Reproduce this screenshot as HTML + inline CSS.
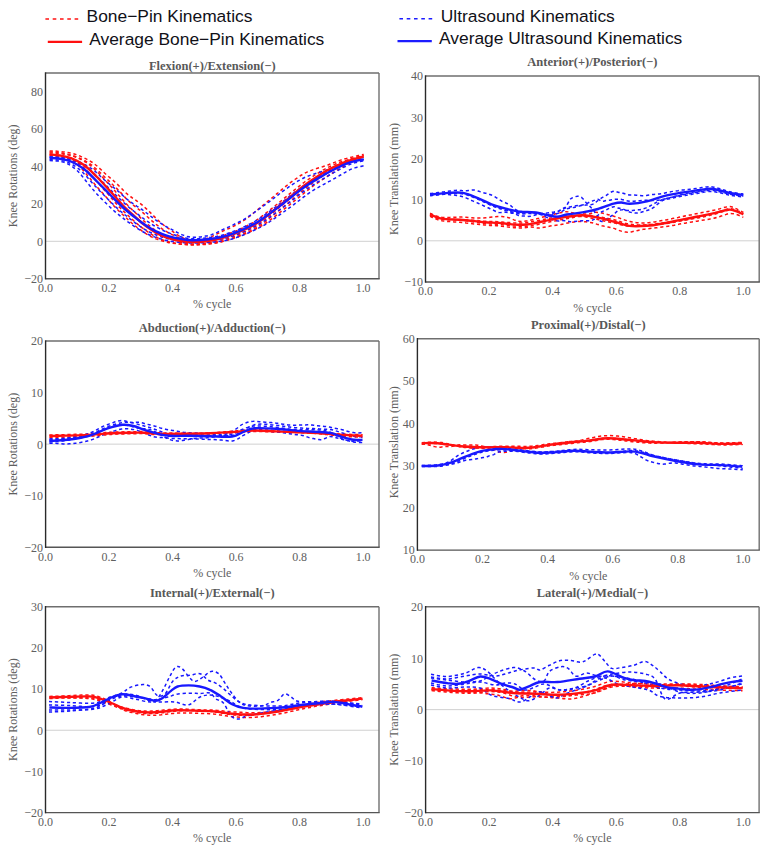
<!DOCTYPE html><html><head><meta charset="utf-8"><style>html,body{margin:0;padding:0;background:#fff;width:769px;height:849px;overflow:hidden}svg{display:block}</style></head><body>
<svg width="769" height="849" viewBox="0 0 769 849">
<rect width="769" height="849" fill="#fff"/>
<g font-family="Liberation Sans, sans-serif" font-size="17.4" fill="#111118">
<line x1="45.4" y1="19" x2="78.6" y2="19" stroke="#ff1010" stroke-width="1.6" stroke-dasharray="3.6 3.7"/>
<text x="86.6" y="22">Bone−Pin Kinematics</text>
<line x1="47.8" y1="41.9" x2="82.1" y2="41.9" stroke="#ff1010" stroke-width="2.2"/>
<text x="89.2" y="44.8">Average Bone−Pin Kinematics</text>
<line x1="399.4" y1="18.7" x2="432.4" y2="18.7" stroke="#1c1cff" stroke-width="1.6" stroke-dasharray="3.6 3.7"/>
<text x="440.8" y="21.6">Ultrasound Kinematics</text>
<line x1="397.5" y1="41.1" x2="431.8" y2="41.1" stroke="#1c1cff" stroke-width="2.2"/>
<text x="439.0" y="43.5">Average Ultrasound Kinematics</text>
</g>
<g>
<line x1="45.50" y1="241.30" x2="379.00" y2="241.30" stroke="#d0d0d0" stroke-width="1"/>
<defs><clipPath id="c0"><rect x="45.50" y="73.00" width="333.50" height="205.70"/></clipPath></defs>
<g clip-path="url(#c0)" fill="none" stroke-linejoin="round" stroke-linecap="butt">
<path d="M49.6,150.9 C50.1,150.9 51.6,150.9 52.6,150.9 C53.6,150.9 54.6,151.1 55.6,151.1 C56.6,151.2 57.6,151.3 58.6,151.4 C59.6,151.5 60.6,151.6 61.6,151.7 C62.6,151.8 63.6,152.0 64.6,152.1 C65.6,152.3 66.6,152.4 67.6,152.6 C68.6,152.8 69.6,152.9 70.6,153.1 C71.6,153.3 72.6,153.5 73.6,153.8 C74.6,154.1 75.6,154.4 76.6,154.7 C77.6,155.1 78.6,155.5 79.6,155.9 C80.6,156.4 81.6,156.8 82.6,157.3 C83.6,157.8 84.6,158.2 85.6,158.7 C86.6,159.2 87.6,159.7 88.6,160.3 C89.6,160.8 90.6,161.4 91.6,162.0 C92.6,162.6 93.6,163.3 94.6,164.1 C95.6,164.8 96.6,165.6 97.6,166.5 C98.6,167.4 99.6,168.4 100.6,169.3 C101.6,170.3 102.6,171.3 103.6,172.2 C104.6,173.1 105.6,174.0 106.6,174.9 C107.6,175.7 108.6,176.6 109.6,177.4 C110.6,178.3 111.6,179.1 112.6,180.0 C113.6,180.9 114.6,181.8 115.6,182.7 C116.6,183.6 117.6,184.5 118.6,185.5 C119.6,186.5 120.6,187.5 121.6,188.5 C122.6,189.6 123.6,190.7 124.6,191.7 C125.6,192.7 126.6,193.6 127.6,194.4 C128.6,195.3 129.6,196.0 130.6,196.7 C131.6,197.5 132.6,198.1 133.6,198.8 C134.6,199.5 135.6,200.1 136.6,200.8 C137.6,201.5 138.6,202.2 139.6,203.0 C140.6,203.7 141.6,204.5 142.6,205.4 C143.6,206.2 144.6,207.1 145.6,208.1 C146.6,209.0 147.6,209.9 148.6,210.9 C149.6,211.9 150.6,212.9 151.6,213.9 C152.6,214.9 153.6,215.9 154.6,216.9 C155.6,217.9 156.6,218.9 157.6,219.9 C158.6,220.8 159.6,221.7 160.6,222.5 C161.6,223.4 162.6,224.2 163.6,225.0 C164.6,225.8 165.6,226.5 166.6,227.2 C167.6,228.0 168.6,228.6 169.6,229.3 C170.6,230.0 171.6,230.6 172.6,231.4 C173.6,232.1 174.6,233.0 175.6,233.7 C176.6,234.4 177.6,235.0 178.6,235.6 C179.6,236.2 180.6,236.8 181.6,237.3 C182.6,237.7 183.6,238.2 184.6,238.6 C185.6,238.9 186.6,239.2 187.6,239.4 C188.6,239.6 189.6,239.8 190.6,239.9 C191.6,240.0 192.6,240.0 193.6,240.0 C194.6,240.0 195.6,240.0 196.6,239.9 C197.6,239.9 198.6,239.9 199.6,239.8 C200.6,239.7 201.6,239.6 202.6,239.4 C203.6,239.2 204.6,239.0 205.6,238.8 C206.6,238.5 207.6,238.2 208.6,237.8 C209.6,237.4 210.6,237.0 211.6,236.6 C212.6,236.1 213.6,235.7 214.6,235.2 C215.6,234.7 216.6,234.1 217.6,233.6 C218.6,233.1 219.6,232.6 220.6,232.1 C221.6,231.6 222.6,231.1 223.6,230.7 C224.6,230.2 225.6,229.9 226.6,229.4 C227.6,229.0 228.6,228.6 229.6,228.2 C230.6,227.7 231.6,227.2 232.6,226.7 C233.6,226.2 234.6,225.7 235.6,225.2 C236.6,224.7 237.6,224.1 238.6,223.6 C239.6,223.1 240.6,222.5 241.6,221.9 C242.6,221.3 243.6,220.6 244.6,219.9 C245.6,219.2 246.6,218.5 247.6,217.8 C248.6,217.0 249.6,216.2 250.6,215.4 C251.6,214.6 252.6,213.8 253.6,213.0 C254.6,212.2 255.6,211.4 256.6,210.6 C257.6,209.8 258.6,208.9 259.6,208.1 C260.6,207.3 261.6,206.5 262.6,205.6 C263.6,204.8 264.6,204.0 265.6,203.2 C266.6,202.3 267.6,201.5 268.6,200.7 C269.6,199.9 270.6,199.0 271.6,198.2 C272.6,197.4 273.6,196.5 274.6,195.7 C275.6,194.8 276.6,194.0 277.6,193.2 C278.6,192.3 279.6,191.5 280.6,190.6 C281.6,189.8 282.6,189.0 283.6,188.1 C284.6,187.3 285.6,186.5 286.6,185.7 C287.6,184.9 288.6,184.1 289.6,183.3 C290.6,182.6 291.6,181.8 292.6,181.1 C293.6,180.3 294.6,179.7 295.6,179.0 C296.6,178.3 297.6,177.6 298.6,177.0 C299.6,176.3 300.6,175.6 301.6,175.0 C302.6,174.4 303.6,173.8 304.6,173.3 C305.6,172.8 306.6,172.3 307.6,171.8 C308.6,171.4 309.6,171.0 310.6,170.6 C311.6,170.2 312.6,169.8 313.6,169.5 C314.6,169.2 315.6,168.8 316.6,168.5 C317.6,168.2 318.6,167.9 319.6,167.6 C320.6,167.3 321.6,167.0 322.6,166.7 C323.6,166.4 324.6,166.0 325.6,165.7 C326.6,165.4 327.6,165.1 328.6,164.7 C329.6,164.4 330.6,164.0 331.6,163.6 C332.6,163.2 333.6,162.8 334.6,162.4 C335.6,162.0 336.6,161.6 337.6,161.2 C338.6,160.8 339.6,160.5 340.6,160.1 C341.6,159.8 342.6,159.5 343.6,159.2 C344.6,158.9 345.6,158.7 346.6,158.4 C347.6,158.2 348.6,157.9 349.6,157.7 C350.6,157.4 351.6,157.2 352.6,156.9 C353.6,156.7 354.6,156.5 355.6,156.2 C356.6,156.0 357.6,155.8 358.6,155.5 C359.6,155.3 360.8,155.0 361.6,154.8 C362.5,154.6 363.4,154.5 363.7,154.5" stroke="#ff1010" stroke-width="1.5" stroke-dasharray="3.2 2.8"/>
<path d="M49.6,152.9 C50.1,152.9 51.6,152.9 52.6,153.0 C53.6,153.0 54.6,153.1 55.6,153.2 C56.6,153.3 57.6,153.4 58.6,153.5 C59.6,153.6 60.6,153.7 61.6,153.8 C62.6,153.9 63.6,154.1 64.6,154.2 C65.6,154.4 66.6,154.5 67.6,154.7 C68.6,154.8 69.6,155.0 70.6,155.2 C71.6,155.4 72.6,155.7 73.6,156.0 C74.6,156.3 75.6,156.6 76.6,157.0 C77.6,157.4 78.6,157.8 79.6,158.2 C80.6,158.7 81.6,159.1 82.6,159.6 C83.6,160.1 84.6,160.6 85.6,161.2 C86.6,161.7 87.6,162.3 88.6,163.0 C89.6,163.6 90.6,164.3 91.6,165.0 C92.6,165.8 93.6,166.6 94.6,167.5 C95.6,168.3 96.6,169.2 97.6,170.2 C98.6,171.1 99.6,172.1 100.6,173.1 C101.6,174.1 102.6,175.1 103.6,176.0 C104.6,177.0 105.6,177.9 106.6,178.8 C107.6,179.8 108.6,180.7 109.6,181.6 C110.6,182.6 111.6,183.5 112.6,184.5 C113.6,185.4 114.6,186.4 115.6,187.4 C116.6,188.4 117.6,189.3 118.6,190.4 C119.6,191.4 120.6,192.4 121.6,193.5 C122.6,194.6 123.6,195.8 124.6,196.9 C125.6,197.9 126.6,199.0 127.6,200.0 C128.6,200.9 129.6,201.9 130.6,202.8 C131.6,203.7 132.6,204.5 133.6,205.3 C134.6,206.1 135.6,206.9 136.6,207.7 C137.6,208.5 138.6,209.2 139.6,210.0 C140.6,210.8 141.6,211.5 142.6,212.4 C143.6,213.2 144.6,214.2 145.6,215.1 C146.6,216.0 147.6,217.0 148.6,217.9 C149.6,218.8 150.6,219.7 151.6,220.6 C152.6,221.5 153.6,222.3 154.6,223.1 C155.6,224.0 156.6,224.8 157.6,225.5 C158.6,226.3 159.6,227.0 160.6,227.7 C161.6,228.5 162.6,229.2 163.6,229.8 C164.6,230.5 165.6,231.1 166.6,231.7 C167.6,232.3 168.6,232.9 169.6,233.4 C170.6,233.9 171.6,234.4 172.6,234.9 C173.6,235.4 174.6,235.8 175.6,236.3 C176.6,236.7 177.6,237.1 178.6,237.6 C179.6,238.0 180.6,238.4 181.6,238.7 C182.6,239.1 183.6,239.4 184.6,239.6 C185.6,239.9 186.6,240.1 187.6,240.3 C188.6,240.4 189.6,240.6 190.6,240.6 C191.6,240.7 192.6,240.7 193.6,240.7 C194.6,240.7 195.6,240.7 196.6,240.7 C197.6,240.6 198.6,240.6 199.6,240.5 C200.6,240.5 201.6,240.4 202.6,240.3 C203.6,240.2 204.6,240.1 205.6,240.0 C206.6,239.8 207.6,239.6 208.6,239.5 C209.6,239.3 210.6,239.1 211.6,238.8 C212.6,238.6 213.6,238.3 214.6,238.1 C215.6,237.8 216.6,237.5 217.6,237.2 C218.6,236.9 219.6,236.6 220.6,236.3 C221.6,236.0 222.6,235.7 223.6,235.4 C224.6,235.1 225.6,234.7 226.6,234.4 C227.6,234.0 228.6,233.7 229.6,233.3 C230.6,233.0 231.6,232.6 232.6,232.2 C233.6,231.8 234.6,231.5 235.6,231.1 C236.6,230.7 237.6,230.3 238.6,229.8 C239.6,229.4 240.6,229.0 241.6,228.5 C242.6,228.1 243.6,227.6 244.6,227.1 C245.6,226.6 246.6,226.0 247.6,225.5 C248.6,225.0 249.6,224.5 250.6,224.0 C251.6,223.4 252.6,222.9 253.6,222.2 C254.6,221.6 255.6,220.9 256.6,220.2 C257.6,219.5 258.6,218.8 259.6,218.0 C260.6,217.3 261.6,216.5 262.6,215.7 C263.6,215.0 264.6,214.2 265.6,213.4 C266.6,212.6 267.6,211.8 268.6,211.0 C269.6,210.2 270.6,209.4 271.6,208.6 C272.6,207.8 273.6,206.9 274.6,206.1 C275.6,205.3 276.6,204.5 277.6,203.7 C278.6,202.9 279.6,202.1 280.6,201.3 C281.6,200.5 282.6,199.7 283.6,198.8 C284.6,198.0 285.6,197.2 286.6,196.4 C287.6,195.6 288.6,194.7 289.6,193.9 C290.6,193.1 291.6,192.3 292.6,191.4 C293.6,190.6 294.6,189.8 295.6,189.0 C296.6,188.2 297.6,187.4 298.6,186.6 C299.6,185.8 300.6,185.0 301.6,184.2 C302.6,183.5 303.6,182.7 304.6,182.0 C305.6,181.3 306.6,180.6 307.6,179.9 C308.6,179.3 309.6,178.6 310.6,177.9 C311.6,177.3 312.6,176.6 313.6,175.9 C314.6,175.3 315.6,174.6 316.6,174.0 C317.6,173.3 318.6,172.7 319.6,172.1 C320.6,171.5 321.6,170.8 322.6,170.3 C323.6,169.7 324.6,169.1 325.6,168.6 C326.6,168.1 327.6,167.6 328.6,167.1 C329.6,166.6 330.6,166.1 331.6,165.7 C332.6,165.2 333.6,164.8 334.6,164.4 C335.6,163.9 336.6,163.5 337.6,163.1 C338.6,162.8 339.6,162.4 340.6,162.0 C341.6,161.7 342.6,161.3 343.6,161.0 C344.6,160.7 345.6,160.4 346.6,160.1 C347.6,159.8 348.6,159.5 349.6,159.2 C350.6,159.0 351.6,158.7 352.6,158.4 C353.6,158.1 354.6,157.9 355.6,157.6 C356.6,157.3 357.6,157.1 358.6,156.8 C359.6,156.6 360.8,156.3 361.6,156.1 C362.5,155.8 363.4,155.6 363.7,155.5" stroke="#ff1010" stroke-width="1.5" stroke-dasharray="3.2 2.8"/>
<path d="M49.6,155.4 C50.1,155.4 51.6,155.6 52.6,155.7 C53.6,155.8 54.6,155.8 55.6,156.0 C56.6,156.1 57.6,156.2 58.6,156.4 C59.6,156.6 60.6,156.8 61.6,157.0 C62.6,157.2 63.6,157.4 64.6,157.7 C65.6,158.1 66.6,158.4 67.6,158.8 C68.6,159.3 69.6,159.8 70.6,160.3 C71.6,160.9 72.6,161.4 73.6,162.1 C74.6,162.7 75.6,163.4 76.6,164.1 C77.6,164.9 78.6,165.7 79.6,166.7 C80.6,167.6 81.6,168.7 82.6,169.8 C83.6,170.9 84.6,172.0 85.6,173.2 C86.6,174.4 87.6,175.6 88.6,176.8 C89.6,178.0 90.6,179.2 91.6,180.3 C92.6,181.5 93.6,182.7 94.6,183.9 C95.6,185.1 96.6,186.3 97.6,187.4 C98.6,188.6 99.6,189.7 100.6,190.8 C101.6,191.9 102.6,193.0 103.6,194.1 C104.6,195.3 105.6,196.4 106.6,197.6 C107.6,198.7 108.6,199.9 109.6,201.0 C110.6,202.2 111.6,203.4 112.6,204.5 C113.6,205.6 114.6,206.7 115.6,207.8 C116.6,208.8 117.6,209.8 118.6,210.8 C119.6,211.8 120.6,212.7 121.6,213.6 C122.6,214.5 123.6,215.5 124.6,216.4 C125.6,217.3 126.6,218.3 127.6,219.2 C128.6,220.2 129.6,221.1 130.6,222.0 C131.6,222.9 132.6,223.8 133.6,224.6 C134.6,225.4 135.6,226.2 136.6,227.0 C137.6,227.8 138.6,228.5 139.6,229.2 C140.6,230.0 141.6,230.7 142.6,231.4 C143.6,232.1 144.6,232.7 145.6,233.4 C146.6,234.0 147.6,234.7 148.6,235.2 C149.6,235.8 150.6,236.4 151.6,236.9 C152.6,237.4 153.6,237.9 154.6,238.3 C155.6,238.7 156.6,239.1 157.6,239.4 C158.6,239.8 159.6,240.1 160.6,240.4 C161.6,240.7 162.6,241.0 163.6,241.3 C164.6,241.5 165.6,241.8 166.6,242.1 C167.6,242.3 168.6,242.6 169.6,242.8 C170.6,243.0 171.6,243.1 172.6,243.3 C173.6,243.4 174.6,243.5 175.6,243.6 C176.6,243.7 177.6,243.8 178.6,243.9 C179.6,244.0 180.6,244.0 181.6,244.1 C182.6,244.2 183.6,244.2 184.6,244.3 C185.6,244.3 186.6,244.3 187.6,244.4 C188.6,244.4 189.6,244.5 190.6,244.5 C191.6,244.5 192.6,244.5 193.6,244.5 C194.6,244.5 195.6,244.5 196.6,244.4 C197.6,244.4 198.6,244.4 199.6,244.3 C200.6,244.3 201.6,244.2 202.6,244.2 C203.6,244.1 204.6,244.0 205.6,243.9 C206.6,243.9 207.6,243.8 208.6,243.7 C209.6,243.6 210.6,243.5 211.6,243.4 C212.6,243.2 213.6,243.1 214.6,243.0 C215.6,242.8 216.6,242.7 217.6,242.5 C218.6,242.3 219.6,242.1 220.6,241.9 C221.6,241.7 222.6,241.5 223.6,241.2 C224.6,241.0 225.6,240.7 226.6,240.4 C227.6,240.1 228.6,239.9 229.6,239.5 C230.6,239.2 231.6,238.9 232.6,238.6 C233.6,238.2 234.6,237.9 235.6,237.5 C236.6,237.2 237.6,236.8 238.6,236.5 C239.6,236.1 240.6,235.7 241.6,235.3 C242.6,234.9 243.6,234.5 244.6,234.1 C245.6,233.7 246.6,233.3 247.6,232.9 C248.6,232.5 249.6,232.0 250.6,231.6 C251.6,231.1 252.6,230.6 253.6,230.1 C254.6,229.6 255.6,229.1 256.6,228.5 C257.6,228.0 258.6,227.5 259.6,227.0 C260.6,226.4 261.6,225.9 262.6,225.3 C263.6,224.6 264.6,224.0 265.6,223.3 C266.6,222.6 267.6,221.9 268.6,221.1 C269.6,220.4 270.6,219.7 271.6,218.9 C272.6,218.1 273.6,217.4 274.6,216.6 C275.6,215.8 276.6,215.0 277.6,214.3 C278.6,213.5 279.6,212.7 280.6,211.9 C281.6,211.1 282.6,210.3 283.6,209.5 C284.6,208.7 285.6,208.0 286.6,207.2 C287.6,206.4 288.6,205.6 289.6,204.8 C290.6,204.0 291.6,203.2 292.6,202.4 C293.6,201.6 294.6,200.8 295.6,200.0 C296.6,199.2 297.6,198.4 298.6,197.6 C299.6,196.8 300.6,196.0 301.6,195.2 C302.6,194.4 303.6,193.5 304.6,192.7 C305.6,191.9 306.6,191.1 307.6,190.3 C308.6,189.5 309.6,188.8 310.6,188.0 C311.6,187.2 312.6,186.4 313.6,185.7 C314.6,184.9 315.6,184.2 316.6,183.5 C317.6,182.8 318.6,182.2 319.6,181.5 C320.6,180.8 321.6,180.2 322.6,179.5 C323.6,178.8 324.6,178.1 325.6,177.5 C326.6,176.8 327.6,176.2 328.6,175.5 C329.6,174.9 330.6,174.2 331.6,173.6 C332.6,173.0 333.6,172.3 334.6,171.7 C335.6,171.0 336.6,170.4 337.6,169.8 C338.6,169.2 339.6,168.6 340.6,168.0 C341.6,167.4 342.6,166.8 343.6,166.3 C344.6,165.7 345.6,165.1 346.6,164.6 C347.6,164.1 348.6,163.5 349.6,163.1 C350.6,162.6 351.6,162.2 352.6,161.7 C353.6,161.3 354.6,160.9 355.6,160.6 C356.6,160.2 357.6,159.8 358.6,159.5 C359.6,159.2 360.8,158.9 361.6,158.6 C362.5,158.4 363.4,158.1 363.7,158.0" stroke="#ff1010" stroke-width="1.5" stroke-dasharray="3.2 2.8"/>
<path d="M49.6,154.4 C50.1,154.4 51.6,154.6 52.6,154.7 C53.6,154.7 54.6,154.8 55.6,154.9 C56.6,155.1 57.6,155.2 58.6,155.4 C59.6,155.5 60.6,155.7 61.6,155.9 C62.6,156.1 63.6,156.3 64.6,156.6 C65.6,156.9 66.6,157.2 67.6,157.5 C68.6,157.9 69.6,158.3 70.6,158.8 C71.6,159.3 72.6,159.8 73.6,160.3 C74.6,160.8 75.6,161.4 76.6,162.0 C77.6,162.6 78.6,163.3 79.6,164.1 C80.6,164.8 81.6,165.6 82.6,166.5 C83.6,167.4 84.6,168.4 85.6,169.4 C86.6,170.4 87.6,171.5 88.6,172.6 C89.6,173.7 90.6,174.8 91.6,175.9 C92.6,177.0 93.6,178.1 94.6,179.2 C95.6,180.3 96.6,181.4 97.6,182.5 C98.6,183.6 99.6,184.7 100.6,185.8 C101.6,187.0 102.6,188.1 103.6,189.2 C104.6,190.3 105.6,191.4 106.6,192.6 C107.6,193.7 108.6,194.8 109.6,196.0 C110.6,197.1 111.6,198.3 112.6,199.4 C113.6,200.6 114.6,201.8 115.6,202.9 C116.6,204.0 117.6,205.2 118.6,206.3 C119.6,207.3 120.6,208.4 121.6,209.4 C122.6,210.4 123.6,211.3 124.6,212.3 C125.6,213.2 126.6,214.1 127.6,215.0 C128.6,216.0 129.6,216.9 130.6,217.9 C131.6,218.8 132.6,219.7 133.6,220.6 C134.6,221.5 135.6,222.5 136.6,223.3 C137.6,224.2 138.6,225.0 139.6,225.8 C140.6,226.6 141.6,227.4 142.6,228.1 C143.6,228.9 144.6,229.6 145.6,230.3 C146.6,231.0 147.6,231.7 148.6,232.4 C149.6,233.1 150.6,233.7 151.6,234.4 C152.6,235.0 153.6,235.6 154.6,236.2 C155.6,236.7 156.6,237.3 157.6,237.8 C158.6,238.3 159.6,238.7 160.6,239.1 C161.6,239.5 162.6,239.8 163.6,240.2 C164.6,240.5 165.6,240.8 166.6,241.1 C167.6,241.4 168.6,241.7 169.6,242.0 C170.6,242.2 171.6,242.5 172.6,242.7 C173.6,243.0 174.6,243.2 175.6,243.3 C176.6,243.5 177.6,243.7 178.6,243.8 C179.6,244.0 180.6,244.1 181.6,244.2 C182.6,244.3 183.6,244.5 184.6,244.5 C185.6,244.6 186.6,244.7 187.6,244.8 C188.6,244.9 189.6,244.9 190.6,245.0 C191.6,245.0 192.6,245.0 193.6,245.0 C194.6,245.0 195.6,245.0 196.6,244.9 C197.6,244.9 198.6,244.9 199.6,244.8 C200.6,244.8 201.6,244.7 202.6,244.6 C203.6,244.6 204.6,244.5 205.6,244.4 C206.6,244.3 207.6,244.2 208.6,244.0 C209.6,243.9 210.6,243.8 211.6,243.6 C212.6,243.5 213.6,243.3 214.6,243.1 C215.6,243.0 216.6,242.8 217.6,242.5 C218.6,242.3 219.6,242.1 220.6,241.9 C221.6,241.6 222.6,241.4 223.6,241.1 C224.6,240.8 225.6,240.5 226.6,240.2 C227.6,239.9 228.6,239.6 229.6,239.3 C230.6,238.9 231.6,238.6 232.6,238.2 C233.6,237.8 234.6,237.5 235.6,237.1 C236.6,236.7 237.6,236.3 238.6,235.9 C239.6,235.5 240.6,235.1 241.6,234.7 C242.6,234.3 243.6,233.9 244.6,233.4 C245.6,233.0 246.6,232.5 247.6,232.1 C248.6,231.6 249.6,231.1 250.6,230.6 C251.6,230.0 252.6,229.5 253.6,228.9 C254.6,228.4 255.6,227.9 256.6,227.3 C257.6,226.8 258.6,226.2 259.6,225.5 C260.6,224.9 261.6,224.2 262.6,223.5 C263.6,222.8 264.6,222.0 265.6,221.3 C266.6,220.5 267.6,219.7 268.6,218.9 C269.6,218.1 270.6,217.3 271.6,216.5 C272.6,215.7 273.6,214.9 274.6,214.1 C275.6,213.3 276.6,212.4 277.6,211.6 C278.6,210.8 279.6,210.0 280.6,209.1 C281.6,208.3 282.6,207.5 283.6,206.7 C284.6,205.8 285.6,205.0 286.6,204.2 C287.6,203.4 288.6,202.5 289.6,201.7 C290.6,200.9 291.6,200.0 292.6,199.2 C293.6,198.3 294.6,197.5 295.6,196.7 C296.6,195.8 297.6,195.0 298.6,194.1 C299.6,193.3 300.6,192.5 301.6,191.6 C302.6,190.8 303.6,190.0 304.6,189.1 C305.6,188.3 306.6,187.5 307.6,186.7 C308.6,185.9 309.6,185.2 310.6,184.4 C311.6,183.7 312.6,182.9 313.6,182.2 C314.6,181.5 315.6,180.9 316.6,180.2 C317.6,179.5 318.6,178.8 319.6,178.1 C320.6,177.4 321.6,176.7 322.6,176.1 C323.6,175.4 324.6,174.7 325.6,174.1 C326.6,173.4 327.6,172.8 328.6,172.2 C329.6,171.6 330.6,171.0 331.6,170.4 C332.6,169.9 333.6,169.3 334.6,168.7 C335.6,168.2 336.6,167.7 337.6,167.1 C338.6,166.6 339.6,166.1 340.6,165.6 C341.6,165.0 342.6,164.5 343.6,164.0 C344.6,163.6 345.6,163.1 346.6,162.6 C347.6,162.2 348.6,161.8 349.6,161.3 C350.6,160.9 351.6,160.6 352.6,160.2 C353.6,159.8 354.6,159.5 355.6,159.1 C356.6,158.8 357.6,158.5 358.6,158.2 C359.6,157.9 360.8,157.6 361.6,157.3 C362.5,157.1 363.4,156.9 363.7,156.8" stroke="#ff1010" stroke-width="1.5" stroke-dasharray="3.2 2.8"/>
<path d="M49.6,151.9 C50.1,151.9 51.6,152.0 52.6,152.1 C53.6,152.1 54.6,152.2 55.6,152.3 C56.6,152.4 57.6,152.5 58.6,152.7 C59.6,152.8 60.6,153.0 61.6,153.1 C62.6,153.3 63.6,153.5 64.6,153.7 C65.6,153.9 66.6,154.1 67.6,154.3 C68.6,154.6 69.6,154.8 70.6,155.1 C71.6,155.4 72.6,155.8 73.6,156.2 C74.6,156.6 75.6,157.0 76.6,157.4 C77.6,157.8 78.6,158.3 79.6,158.8 C80.6,159.2 81.6,159.7 82.6,160.3 C83.6,160.8 84.6,161.4 85.6,162.0 C86.6,162.7 87.6,163.4 88.6,164.1 C89.6,164.9 90.6,165.7 91.6,166.5 C92.6,167.4 93.6,168.3 94.6,169.3 C95.6,170.2 96.6,171.2 97.6,172.2 C98.6,173.3 99.6,174.3 100.6,175.3 C101.6,176.4 102.6,177.4 103.6,178.4 C104.6,179.5 105.6,180.6 106.6,181.7 C107.6,182.8 108.6,183.9 109.6,185.0 C110.6,186.1 111.6,187.2 112.6,188.3 C113.6,189.4 114.6,190.5 115.6,191.7 C116.6,192.8 117.6,193.9 118.6,195.1 C119.6,196.2 120.6,197.4 121.6,198.5 C122.6,199.6 123.6,200.8 124.6,201.9 C125.6,203.0 126.6,204.2 127.6,205.2 C128.6,206.3 129.6,207.3 130.6,208.3 C131.6,209.3 132.6,210.2 133.6,211.1 C134.6,212.1 135.6,213.0 136.6,214.0 C137.6,215.0 138.6,215.9 139.6,216.9 C140.6,217.9 141.6,218.8 142.6,219.8 C143.6,220.7 144.6,221.6 145.6,222.5 C146.6,223.4 147.6,224.2 148.6,225.0 C149.6,225.8 150.6,226.6 151.6,227.4 C152.6,228.2 153.6,228.9 154.6,229.6 C155.6,230.4 156.6,231.1 157.6,231.8 C158.6,232.5 159.6,233.2 160.6,233.8 C161.6,234.4 162.6,235.0 163.6,235.6 C164.6,236.2 165.6,236.7 166.6,237.1 C167.6,237.6 168.6,238.0 169.6,238.4 C170.6,238.8 171.6,239.1 172.6,239.5 C173.6,239.9 174.6,240.2 175.6,240.6 C176.6,240.9 177.6,241.3 178.6,241.6 C179.6,241.9 180.6,242.2 181.6,242.4 C182.6,242.7 183.6,242.9 184.6,243.1 C185.6,243.3 186.6,243.5 187.6,243.6 C188.6,243.8 189.6,243.9 190.6,243.9 C191.6,244.0 192.6,244.0 193.6,244.0 C194.6,244.0 195.6,244.0 196.6,243.9 C197.6,243.9 198.6,243.9 199.6,243.8 C200.6,243.8 201.6,243.7 202.6,243.6 C203.6,243.5 204.6,243.4 205.6,243.3 C206.6,243.2 207.6,243.1 208.6,243.0 C209.6,242.8 210.6,242.7 211.6,242.5 C212.6,242.4 213.6,242.2 214.6,242.0 C215.6,241.8 216.6,241.6 217.6,241.4 C218.6,241.1 219.6,240.9 220.6,240.6 C221.6,240.4 222.6,240.1 223.6,239.8 C224.6,239.5 225.6,239.2 226.6,238.9 C227.6,238.6 228.6,238.3 229.6,237.9 C230.6,237.6 231.6,237.2 232.6,236.8 C233.6,236.5 234.6,236.1 235.6,235.7 C236.6,235.3 237.6,234.9 238.6,234.5 C239.6,234.1 240.6,233.7 241.6,233.2 C242.6,232.8 243.6,232.4 244.6,231.9 C245.6,231.5 246.6,231.0 247.6,230.5 C248.6,230.0 249.6,229.4 250.6,228.9 C251.6,228.3 252.6,227.8 253.6,227.2 C254.6,226.7 255.6,226.1 256.6,225.5 C257.6,224.9 258.6,224.3 259.6,223.6 C260.6,222.9 261.6,222.1 262.6,221.4 C263.6,220.6 264.6,219.8 265.6,219.0 C266.6,218.2 267.6,217.4 268.6,216.6 C269.6,215.7 270.6,214.9 271.6,214.1 C272.6,213.2 273.6,212.4 274.6,211.5 C275.6,210.7 276.6,209.8 277.6,209.0 C278.6,208.1 279.6,207.3 280.6,206.4 C281.6,205.6 282.6,204.8 283.6,203.9 C284.6,203.1 285.6,202.2 286.6,201.3 C287.6,200.5 288.6,199.6 289.6,198.8 C290.6,197.9 291.6,197.0 292.6,196.2 C293.6,195.3 294.6,194.5 295.6,193.6 C296.6,192.7 297.6,191.9 298.6,191.0 C299.6,190.2 300.6,189.3 301.6,188.5 C302.6,187.6 303.6,186.8 304.6,186.0 C305.6,185.2 306.6,184.4 307.6,183.6 C308.6,182.9 309.6,182.1 310.6,181.4 C311.6,180.7 312.6,180.0 313.6,179.3 C314.6,178.6 315.6,177.9 316.6,177.2 C317.6,176.5 318.6,175.8 319.6,175.2 C320.6,174.5 321.6,173.8 322.6,173.2 C323.6,172.5 324.6,171.9 325.6,171.3 C326.6,170.7 327.6,170.1 328.6,169.5 C329.6,168.9 330.6,168.4 331.6,167.9 C332.6,167.3 333.6,166.8 334.6,166.3 C335.6,165.8 336.6,165.3 337.6,164.9 C338.6,164.4 339.6,163.9 340.6,163.5 C341.6,163.0 342.6,162.5 343.6,162.1 C344.6,161.7 345.6,161.3 346.6,160.9 C347.6,160.5 348.6,160.1 349.6,159.8 C350.6,159.4 351.6,159.1 352.6,158.7 C353.6,158.4 354.6,158.1 355.6,157.8 C356.6,157.5 357.6,157.2 358.6,156.9 C359.6,156.6 360.8,156.3 361.6,156.1 C362.5,155.8 363.4,155.6 363.7,155.5" stroke="#ff1010" stroke-width="1.5" stroke-dasharray="3.2 2.8"/>
<path d="M49.6,157.0 C50.1,157.0 51.6,157.0 52.6,157.1 C53.6,157.1 54.6,157.1 55.6,157.2 C56.6,157.2 57.6,157.3 58.6,157.3 C59.6,157.4 60.6,157.5 61.6,157.6 C62.6,157.7 63.6,157.8 64.6,157.9 C65.6,158.1 66.6,158.2 67.6,158.3 C68.6,158.5 69.6,158.6 70.6,158.8 C71.6,159.0 72.6,159.3 73.6,159.6 C74.6,159.9 75.6,160.2 76.6,160.6 C77.6,161.0 78.6,161.5 79.6,161.9 C80.6,162.4 81.6,162.9 82.6,163.5 C83.6,164.0 84.6,164.5 85.6,165.0 C86.6,165.6 87.6,166.2 88.6,166.8 C89.6,167.4 90.6,168.0 91.6,168.7 C92.6,169.4 93.6,170.2 94.6,171.0 C95.6,171.8 96.6,172.6 97.6,173.6 C98.6,174.5 99.6,175.5 100.6,176.5 C101.6,177.4 102.6,178.4 103.6,179.3 C104.6,180.2 105.6,181.0 106.6,181.8 C107.6,182.6 108.6,183.5 109.6,184.3 C110.6,185.1 111.6,185.9 112.6,186.7 C113.6,187.5 114.6,188.3 115.6,189.1 C116.6,189.9 117.6,190.8 118.6,191.7 C119.6,192.5 120.6,193.4 121.6,194.4 C122.6,195.3 123.6,196.3 124.6,197.2 C125.6,198.1 126.6,198.9 127.6,199.7 C128.6,200.5 129.6,201.3 130.6,202.0 C131.6,202.7 132.6,203.4 133.6,204.1 C134.6,204.7 135.6,205.4 136.6,206.0 C137.6,206.7 138.6,207.3 139.6,208.0 C140.6,208.7 141.6,209.3 142.6,210.0 C143.6,210.7 144.6,211.5 145.6,212.2 C146.6,213.0 147.6,213.8 148.6,214.6 C149.6,215.4 150.6,216.2 151.6,216.9 C152.6,217.7 153.6,218.4 154.6,219.2 C155.6,219.9 156.6,220.6 157.6,221.3 C158.6,221.9 159.6,222.6 160.6,223.2 C161.6,223.9 162.6,224.5 163.6,225.1 C164.6,225.7 165.6,226.3 166.6,226.8 C167.6,227.4 168.6,227.8 169.6,228.3 C170.6,228.8 171.6,229.3 172.6,229.8 C173.6,230.4 174.6,231.0 175.6,231.6 C176.6,232.1 177.6,232.7 178.6,233.2 C179.6,233.7 180.6,234.2 181.6,234.6 C182.6,235.0 183.6,235.4 184.6,235.7 C185.6,236.0 186.6,236.3 187.6,236.6 C188.6,236.8 189.6,237.0 190.6,237.2 C191.6,237.3 192.6,237.3 193.6,237.3 C194.6,237.3 195.6,237.3 196.6,237.2 C197.6,237.2 198.6,237.1 199.6,237.0 C200.6,236.9 201.6,236.8 202.6,236.7 C203.6,236.5 204.6,236.3 205.6,236.1 C206.6,236.0 207.6,235.8 208.6,235.5 C209.6,235.3 210.6,235.0 211.6,234.7 C212.6,234.3 213.6,233.9 214.6,233.5 C215.6,233.1 216.6,232.6 217.6,232.1 C218.6,231.6 219.6,231.0 220.6,230.5 C221.6,230.0 222.6,229.5 223.6,229.1 C224.6,228.7 225.6,228.3 226.6,227.9 C227.6,227.5 228.6,227.1 229.6,226.6 C230.6,226.1 231.6,225.6 232.6,225.2 C233.6,224.7 234.6,224.1 235.6,223.6 C236.6,223.2 237.6,222.7 238.6,222.2 C239.6,221.7 240.6,221.3 241.6,220.8 C242.6,220.2 243.6,219.7 244.6,219.1 C245.6,218.5 246.6,217.8 247.6,217.2 C248.6,216.5 249.6,215.8 250.6,215.1 C251.6,214.4 252.6,213.7 253.6,213.0 C254.6,212.3 255.6,211.6 256.6,210.9 C257.6,210.2 258.6,209.4 259.6,208.7 C260.6,208.0 261.6,207.3 262.6,206.5 C263.6,205.8 264.6,205.1 265.6,204.4 C266.6,203.6 267.6,202.9 268.6,202.2 C269.6,201.4 270.6,200.7 271.6,199.9 C272.6,199.1 273.6,198.4 274.6,197.6 C275.6,196.8 276.6,196.1 277.6,195.3 C278.6,194.5 279.6,193.7 280.6,193.0 C281.6,192.2 282.6,191.5 283.6,190.7 C284.6,190.0 285.6,189.2 286.6,188.5 C287.6,187.8 288.6,187.1 289.6,186.4 C290.6,185.8 291.6,185.1 292.6,184.4 C293.6,183.8 294.6,183.2 295.6,182.6 C296.6,181.9 297.6,181.3 298.6,180.7 C299.6,180.1 300.6,179.5 301.6,179.0 C302.6,178.4 303.6,178.0 304.6,177.5 C305.6,177.0 306.6,176.6 307.6,176.2 C308.6,175.8 309.6,175.4 310.6,175.1 C311.6,174.7 312.6,174.4 313.6,174.1 C314.6,173.8 315.6,173.5 316.6,173.2 C317.6,172.9 318.6,172.6 319.6,172.3 C320.6,172.0 321.6,171.7 322.6,171.4 C323.6,171.1 324.6,170.8 325.6,170.4 C326.6,170.1 327.6,169.8 328.6,169.4 C329.6,169.1 330.6,168.7 331.6,168.3 C332.6,167.9 333.6,167.4 334.6,167.0 C335.6,166.6 336.6,166.1 337.6,165.6 C338.6,165.2 339.6,164.8 340.6,164.5 C341.6,164.1 342.6,163.7 343.6,163.4 C344.6,163.1 345.6,162.8 346.6,162.6 C347.6,162.3 348.6,162.1 349.6,161.9 C350.6,161.6 351.6,161.4 352.6,161.2 C353.6,161.0 354.6,160.9 355.6,160.7 C356.6,160.5 357.6,160.3 358.6,160.1 C359.6,159.9 360.8,159.7 361.6,159.5 C362.5,159.4 363.4,159.3 363.7,159.3" stroke="#1818ff" stroke-width="1.5" stroke-dasharray="3.2 2.8"/>
<path d="M49.6,160.5 C50.1,160.5 51.6,160.6 52.6,160.7 C53.6,160.7 54.6,160.8 55.6,160.9 C56.6,160.9 57.6,161.1 58.6,161.2 C59.6,161.4 60.6,161.6 61.6,161.8 C62.6,162.0 63.6,162.2 64.6,162.5 C65.6,162.9 66.6,163.3 67.6,163.8 C68.6,164.3 69.6,164.9 70.6,165.5 C71.6,166.2 72.6,166.8 73.6,167.6 C74.6,168.4 75.6,169.2 76.6,170.1 C77.6,171.0 78.6,172.0 79.6,173.1 C80.6,174.2 81.6,175.5 82.6,176.7 C83.6,178.0 84.6,179.3 85.6,180.6 C86.6,181.8 87.6,183.1 88.6,184.3 C89.6,185.5 90.6,186.7 91.6,187.9 C92.6,189.1 93.6,190.3 94.6,191.4 C95.6,192.5 96.6,193.7 97.6,194.7 C98.6,195.8 99.6,196.8 100.6,197.9 C101.6,198.9 102.6,199.9 103.6,200.8 C104.6,201.8 105.6,202.8 106.6,203.8 C107.6,204.8 108.6,205.8 109.6,206.7 C110.6,207.7 111.6,208.6 112.6,209.5 C113.6,210.5 114.6,211.3 115.6,212.2 C116.6,213.0 117.6,213.8 118.6,214.6 C119.6,215.4 120.6,216.2 121.6,216.9 C122.6,217.7 123.6,218.5 124.6,219.3 C125.6,220.0 126.6,220.8 127.6,221.6 C128.6,222.3 129.6,223.1 130.6,223.8 C131.6,224.5 132.6,225.2 133.6,225.9 C134.6,226.6 135.6,227.2 136.6,227.9 C137.6,228.5 138.6,229.1 139.6,229.8 C140.6,230.4 141.6,231.0 142.6,231.5 C143.6,232.1 144.6,232.6 145.6,233.1 C146.6,233.6 147.6,234.1 148.6,234.5 C149.6,235.0 150.6,235.4 151.6,235.8 C152.6,236.2 153.6,236.6 154.6,236.9 C155.6,237.3 156.6,237.7 157.6,238.0 C158.6,238.3 159.6,238.6 160.6,238.9 C161.6,239.2 162.6,239.5 163.6,239.8 C164.6,240.0 165.6,240.3 166.6,240.5 C167.6,240.7 168.6,240.9 169.6,241.1 C170.6,241.3 171.6,241.5 172.6,241.6 C173.6,241.7 174.6,241.9 175.6,242.0 C176.6,242.1 177.6,242.2 178.6,242.3 C179.6,242.4 180.6,242.5 181.6,242.5 C182.6,242.6 183.6,242.7 184.6,242.8 C185.6,242.8 186.6,242.9 187.6,242.9 C188.6,243.0 189.6,243.0 190.6,243.1 C191.6,243.1 192.6,243.1 193.6,243.1 C194.6,243.1 195.6,243.1 196.6,243.1 C197.6,243.0 198.6,243.0 199.6,242.9 C200.6,242.9 201.6,242.8 202.6,242.8 C203.6,242.7 204.6,242.6 205.6,242.6 C206.6,242.5 207.6,242.4 208.6,242.4 C209.6,242.3 210.6,242.2 211.6,242.1 C212.6,242.1 213.6,242.0 214.6,241.9 C215.6,241.8 216.6,241.7 217.6,241.6 C218.6,241.5 219.6,241.4 220.6,241.3 C221.6,241.2 222.6,241.0 223.6,240.9 C224.6,240.7 225.6,240.5 226.6,240.3 C227.6,240.1 228.6,239.9 229.6,239.6 C230.6,239.4 231.6,239.1 232.6,238.8 C233.6,238.5 234.6,238.1 235.6,237.8 C236.6,237.5 237.6,237.1 238.6,236.8 C239.6,236.4 240.6,236.0 241.6,235.6 C242.6,235.3 243.6,234.9 244.6,234.5 C245.6,234.1 246.6,233.7 247.6,233.3 C248.6,232.9 249.6,232.4 250.6,231.9 C251.6,231.5 252.6,231.0 253.6,230.5 C254.6,230.0 255.6,229.5 256.6,229.0 C257.6,228.5 258.6,228.0 259.6,227.6 C260.6,227.1 261.6,226.6 262.6,226.1 C263.6,225.6 264.6,225.0 265.6,224.4 C266.6,223.8 267.6,223.2 268.6,222.5 C269.6,221.9 270.6,221.2 271.6,220.5 C272.6,219.8 273.6,219.1 274.6,218.4 C275.6,217.7 276.6,217.0 277.6,216.3 C278.6,215.6 279.6,214.9 280.6,214.2 C281.6,213.5 282.6,212.8 283.6,212.0 C284.6,211.3 285.6,210.6 286.6,209.9 C287.6,209.2 288.6,208.4 289.6,207.7 C290.6,207.0 291.6,206.2 292.6,205.5 C293.6,204.7 294.6,204.0 295.6,203.2 C296.6,202.5 297.6,201.7 298.6,200.9 C299.6,200.1 300.6,199.4 301.6,198.6 C302.6,197.8 303.6,197.1 304.6,196.4 C305.6,195.6 306.6,194.9 307.6,194.2 C308.6,193.5 309.6,192.8 310.6,192.1 C311.6,191.4 312.6,190.8 313.6,190.2 C314.6,189.5 315.6,188.9 316.6,188.3 C317.6,187.8 318.6,187.2 319.6,186.6 C320.6,186.0 321.6,185.5 322.6,184.9 C323.6,184.4 324.6,183.9 325.6,183.3 C326.6,182.8 327.6,182.3 328.6,181.7 C329.6,181.2 330.6,180.7 331.6,180.1 C332.6,179.6 333.6,179.0 334.6,178.4 C335.6,177.9 336.6,177.3 337.6,176.7 C338.6,176.1 339.6,175.6 340.6,175.0 C341.6,174.4 342.6,173.8 343.6,173.2 C344.6,172.7 345.6,172.1 346.6,171.5 C347.6,171.0 348.6,170.4 349.6,169.9 C350.6,169.4 351.6,169.0 352.6,168.6 C353.6,168.2 354.6,167.9 355.6,167.6 C356.6,167.3 357.6,167.1 358.6,166.8 C359.6,166.6 360.8,166.4 361.6,166.2 C362.5,166.0 363.4,165.8 363.7,165.7" stroke="#1818ff" stroke-width="1.5" stroke-dasharray="3.2 2.8"/>
<path d="M49.6,159.5 C50.1,159.5 51.6,159.6 52.6,159.7 C53.6,159.7 54.6,159.8 55.6,159.8 C56.6,159.9 57.6,160.0 58.6,160.2 C59.6,160.3 60.6,160.5 61.6,160.7 C62.6,160.9 63.6,161.0 64.6,161.3 C65.6,161.6 66.6,161.8 67.6,162.2 C68.6,162.6 69.6,163.1 70.6,163.6 C71.6,164.1 72.6,164.7 73.6,165.3 C74.6,165.9 75.6,166.6 76.6,167.3 C77.6,168.0 78.6,168.7 79.6,169.6 C80.6,170.4 81.6,171.3 82.6,172.3 C83.6,173.3 84.6,174.4 85.6,175.5 C86.6,176.6 87.6,177.7 88.6,178.9 C89.6,180.0 90.6,181.1 91.6,182.2 C92.6,183.3 93.6,184.3 94.6,185.4 C95.6,186.5 96.6,187.5 97.6,188.6 C98.6,189.6 99.6,190.7 100.6,191.7 C101.6,192.7 102.6,193.7 103.6,194.7 C104.6,195.8 105.6,196.8 106.6,197.8 C107.6,198.8 108.6,199.8 109.6,200.8 C110.6,201.8 111.6,202.8 112.6,203.7 C113.6,204.7 114.6,205.7 115.6,206.7 C116.6,207.6 117.6,208.6 118.6,209.5 C119.6,210.4 120.6,211.3 121.6,212.1 C122.6,212.9 123.6,213.7 124.6,214.5 C125.6,215.3 126.6,216.1 127.6,216.9 C128.6,217.7 129.6,218.5 130.6,219.3 C131.6,220.1 132.6,220.9 133.6,221.7 C134.6,222.4 135.6,223.2 136.6,223.9 C137.6,224.6 138.6,225.3 139.6,226.0 C140.6,226.7 141.6,227.3 142.6,228.0 C143.6,228.6 144.6,229.3 145.6,229.8 C146.6,230.4 147.6,231.0 148.6,231.5 C149.6,232.1 150.6,232.6 151.6,233.0 C152.6,233.5 153.6,233.9 154.6,234.3 C155.6,234.7 156.6,235.1 157.6,235.5 C158.6,235.9 159.6,236.3 160.6,236.6 C161.6,236.9 162.6,237.3 163.6,237.5 C164.6,237.8 165.6,238.1 166.6,238.4 C167.6,238.6 168.6,238.9 169.6,239.1 C170.6,239.3 171.6,239.5 172.6,239.7 C173.6,239.8 174.6,240.0 175.6,240.1 C176.6,240.3 177.6,240.4 178.6,240.5 C179.6,240.6 180.6,240.7 181.6,240.8 C182.6,240.9 183.6,241.0 184.6,241.1 C185.6,241.2 186.6,241.3 187.6,241.4 C188.6,241.4 189.6,241.5 190.6,241.5 C191.6,241.6 192.6,241.6 193.6,241.6 C194.6,241.6 195.6,241.6 196.6,241.5 C197.6,241.5 198.6,241.4 199.6,241.4 C200.6,241.3 201.6,241.2 202.6,241.2 C203.6,241.1 204.6,241.0 205.6,240.9 C206.6,240.8 207.6,240.7 208.6,240.6 C209.6,240.5 210.6,240.4 211.6,240.3 C212.6,240.2 213.6,240.1 214.6,240.0 C215.6,239.9 216.6,239.8 217.6,239.6 C218.6,239.5 219.6,239.3 220.6,239.2 C221.6,239.0 222.6,238.8 223.6,238.6 C224.6,238.4 225.6,238.2 226.6,237.9 C227.6,237.6 228.6,237.3 229.6,237.0 C230.6,236.7 231.6,236.4 232.6,236.1 C233.6,235.7 234.6,235.3 235.6,235.0 C236.6,234.6 237.6,234.2 238.6,233.8 C239.6,233.4 240.6,233.0 241.6,232.6 C242.6,232.2 243.6,231.8 244.6,231.4 C245.6,230.9 246.6,230.5 247.6,230.0 C248.6,229.5 249.6,229.0 250.6,228.5 C251.6,228.0 252.6,227.4 253.6,226.9 C254.6,226.4 255.6,226.0 256.6,225.5 C257.6,225.0 258.6,224.5 259.6,223.9 C260.6,223.4 261.6,222.7 262.6,222.1 C263.6,221.5 264.6,220.8 265.6,220.1 C266.6,219.4 267.6,218.7 268.6,218.0 C269.6,217.3 270.6,216.6 271.6,215.9 C272.6,215.1 273.6,214.4 274.6,213.7 C275.6,212.9 276.6,212.2 277.6,211.5 C278.6,210.7 279.6,210.0 280.6,209.2 C281.6,208.5 282.6,207.7 283.6,207.0 C284.6,206.2 285.6,205.5 286.6,204.7 C287.6,204.0 288.6,203.2 289.6,202.4 C290.6,201.6 291.6,200.8 292.6,200.1 C293.6,199.3 294.6,198.5 295.6,197.7 C296.6,196.9 297.6,196.1 298.6,195.3 C299.6,194.5 300.6,193.8 301.6,193.0 C302.6,192.2 303.6,191.5 304.6,190.8 C305.6,190.0 306.6,189.3 307.6,188.6 C308.6,187.9 309.6,187.2 310.6,186.6 C311.6,185.9 312.6,185.2 313.6,184.6 C314.6,184.0 315.6,183.3 316.6,182.7 C317.6,182.1 318.6,181.5 319.6,180.9 C320.6,180.3 321.6,179.7 322.6,179.1 C323.6,178.5 324.6,177.9 325.6,177.3 C326.6,176.7 327.6,176.1 328.6,175.5 C329.6,174.9 330.6,174.4 331.6,173.8 C332.6,173.3 333.6,172.7 334.6,172.2 C335.6,171.6 336.6,171.1 337.6,170.6 C338.6,170.0 339.6,169.5 340.6,169.0 C341.6,168.4 342.6,167.9 343.6,167.4 C344.6,166.9 345.6,166.4 346.6,165.9 C347.6,165.4 348.6,165.0 349.6,164.6 C350.6,164.2 351.6,163.8 352.6,163.4 C353.6,163.1 354.6,162.8 355.6,162.6 C356.6,162.3 357.6,162.1 358.6,161.8 C359.6,161.6 360.8,161.3 361.6,161.2 C362.5,161.0 363.4,160.8 363.7,160.7" stroke="#1818ff" stroke-width="1.5" stroke-dasharray="3.2 2.8"/>
<path d="M49.6,157.0 C50.1,157.0 51.6,157.1 52.6,157.2 C53.6,157.2 54.6,157.2 55.6,157.3 C56.6,157.4 57.6,157.5 58.6,157.6 C59.6,157.7 60.6,157.8 61.6,158.0 C62.6,158.1 63.6,158.2 64.6,158.4 C65.6,158.6 66.6,158.7 67.6,159.0 C68.6,159.2 69.6,159.4 70.6,159.7 C71.6,160.1 72.6,160.4 73.6,160.8 C74.6,161.2 75.6,161.6 76.6,162.0 C77.6,162.5 78.6,162.9 79.6,163.4 C80.6,163.9 81.6,164.4 82.6,165.0 C83.6,165.5 84.6,166.1 85.6,166.7 C86.6,167.4 87.6,168.1 88.6,168.8 C89.6,169.6 90.6,170.4 91.6,171.3 C92.6,172.1 93.6,173.1 94.6,174.0 C95.6,175.0 96.6,176.0 97.6,177.0 C98.6,177.9 99.6,179.0 100.6,180.0 C101.6,181.0 102.6,181.9 103.6,182.9 C104.6,183.9 105.6,184.9 106.6,185.9 C107.6,186.9 108.6,187.9 109.6,188.9 C110.6,189.9 111.6,190.9 112.6,191.9 C113.6,192.9 114.6,193.9 115.6,194.8 C116.6,195.8 117.6,196.8 118.6,197.7 C119.6,198.7 120.6,199.7 121.6,200.6 C122.6,201.6 123.6,202.5 124.6,203.4 C125.6,204.3 126.6,205.3 127.6,206.1 C128.6,207.0 129.6,207.9 130.6,208.7 C131.6,209.5 132.6,210.3 133.6,211.0 C134.6,211.8 135.6,212.6 136.6,213.3 C137.6,214.1 138.6,214.9 139.6,215.6 C140.6,216.4 141.6,217.2 142.6,217.9 C143.6,218.6 144.6,219.4 145.6,220.1 C146.6,220.8 147.6,221.5 148.6,222.2 C149.6,222.8 150.6,223.5 151.6,224.1 C152.6,224.8 153.6,225.4 154.6,226.0 C155.6,226.6 156.6,227.2 157.6,227.7 C158.6,228.3 159.6,228.8 160.6,229.3 C161.6,229.8 162.6,230.2 163.6,230.7 C164.6,231.1 165.6,231.5 166.6,231.9 C167.6,232.3 168.6,232.7 169.6,233.1 C170.6,233.4 171.6,233.8 172.6,234.2 C173.6,234.5 174.6,234.9 175.6,235.2 C176.6,235.6 177.6,235.9 178.6,236.2 C179.6,236.5 180.6,236.8 181.6,237.0 C182.6,237.3 183.6,237.5 184.6,237.7 C185.6,237.9 186.6,238.2 187.6,238.3 C188.6,238.5 189.6,238.6 190.6,238.7 C191.6,238.8 192.6,238.8 193.6,238.8 C194.6,238.8 195.6,238.8 196.6,238.7 C197.6,238.7 198.6,238.6 199.6,238.6 C200.6,238.5 201.6,238.4 202.6,238.3 C203.6,238.2 204.6,238.1 205.6,238.0 C206.6,237.9 207.6,237.8 208.6,237.7 C209.6,237.5 210.6,237.4 211.6,237.3 C212.6,237.1 213.6,237.0 214.6,236.8 C215.6,236.6 216.6,236.4 217.6,236.2 C218.6,236.0 219.6,235.8 220.6,235.6 C221.6,235.3 222.6,235.1 223.6,234.8 C224.6,234.5 225.6,234.2 226.6,233.8 C227.6,233.5 228.6,233.2 229.6,232.8 C230.6,232.5 231.6,232.1 232.6,231.7 C233.6,231.3 234.6,231.0 235.6,230.6 C236.6,230.2 237.6,229.8 238.6,229.4 C239.6,228.9 240.6,228.5 241.6,228.0 C242.6,227.6 243.6,227.1 244.6,226.6 C245.6,226.1 246.6,225.6 247.6,225.1 C248.6,224.6 249.6,224.1 250.6,223.6 C251.6,223.1 252.6,222.6 253.6,222.1 C254.6,221.6 255.6,221.0 256.6,220.4 C257.6,219.8 258.6,219.1 259.6,218.5 C260.6,217.8 261.6,217.1 262.6,216.4 C263.6,215.7 264.6,215.0 265.6,214.3 C266.6,213.5 267.6,212.8 268.6,212.1 C269.6,211.4 270.6,210.6 271.6,209.9 C272.6,209.1 273.6,208.4 274.6,207.7 C275.6,206.9 276.6,206.2 277.6,205.4 C278.6,204.7 279.6,204.0 280.6,203.2 C281.6,202.5 282.6,201.7 283.6,200.9 C284.6,200.1 285.6,199.4 286.6,198.6 C287.6,197.8 288.6,197.0 289.6,196.2 C290.6,195.4 291.6,194.6 292.6,193.9 C293.6,193.1 294.6,192.3 295.6,191.6 C296.6,190.8 297.6,190.0 298.6,189.3 C299.6,188.6 300.6,187.9 301.6,187.2 C302.6,186.5 303.6,185.8 304.6,185.2 C305.6,184.5 306.6,183.9 307.6,183.2 C308.6,182.6 309.6,182.0 310.6,181.4 C311.6,180.7 312.6,180.1 313.6,179.5 C314.6,178.9 315.6,178.4 316.6,177.8 C317.6,177.2 318.6,176.6 319.6,176.0 C320.6,175.4 321.6,174.8 322.6,174.3 C323.6,173.7 324.6,173.2 325.6,172.6 C326.6,172.1 327.6,171.6 328.6,171.1 C329.6,170.6 330.6,170.1 331.6,169.6 C332.6,169.1 333.6,168.6 334.6,168.1 C335.6,167.7 336.6,167.2 337.6,166.8 C338.6,166.3 339.6,165.9 340.6,165.5 C341.6,165.1 342.6,164.7 343.6,164.3 C344.6,163.9 345.6,163.6 346.6,163.3 C347.6,162.9 348.6,162.6 349.6,162.4 C350.6,162.1 351.6,161.8 352.6,161.6 C353.6,161.4 354.6,161.2 355.6,161.0 C356.6,160.7 357.6,160.5 358.6,160.3 C359.6,160.1 360.8,159.9 361.6,159.8 C362.5,159.6 363.4,159.4 363.7,159.3" stroke="#1818ff" stroke-width="1.5" stroke-dasharray="3.2 2.8"/>
<path d="M49.6,154.4 C51.3,154.6 56.4,154.9 60.0,155.5 C63.6,156.1 67.0,156.6 71.0,158.2 C75.0,159.8 79.7,161.9 84.0,165.0 C88.3,168.1 92.5,172.5 97.0,177.0 C101.5,181.5 106.5,187.1 110.8,191.8 C115.1,196.6 119.5,201.8 123.0,205.5 C126.5,209.2 128.4,210.8 131.6,213.7 C134.8,216.6 138.5,220.2 142.0,223.0 C145.5,225.8 149.2,228.4 152.4,230.5 C155.6,232.6 158.3,234.2 161.2,235.5 C164.1,236.8 166.9,237.6 170.0,238.5 C173.1,239.4 176.3,240.2 180.0,240.8 C183.7,241.4 187.7,242.0 192.4,242.0 C197.1,242.0 202.8,241.8 208.0,241.0 C213.2,240.2 218.4,239.0 223.6,237.5 C228.8,236.0 234.8,233.8 239.2,232.0 C243.6,230.2 246.4,228.9 250.0,227.0 C253.6,225.1 255.5,224.3 260.8,220.5 C266.1,216.7 274.7,209.6 281.6,204.0 C288.5,198.4 297.2,191.1 302.4,187.0 C307.6,182.9 308.7,182.2 312.8,179.5 C316.9,176.8 322.2,173.2 327.0,170.5 C331.8,167.8 337.2,165.4 341.5,163.6 C345.8,161.8 349.3,160.7 353.0,159.5 C356.7,158.3 361.9,157.0 363.7,156.5" stroke="#ff1010" stroke-width="2.4"/>
<path d="M49.6,158.0 C51.3,158.1 56.4,158.2 60.0,158.8 C63.6,159.4 67.0,159.8 71.0,161.5 C75.0,163.2 79.7,165.7 84.0,169.0 C88.3,172.3 92.5,177.1 97.0,181.5 C101.5,185.9 106.5,191.2 110.8,195.5 C115.1,199.8 119.5,204.3 123.0,207.5 C126.5,210.7 128.4,212.1 131.6,214.7 C134.8,217.2 138.5,220.3 142.0,222.8 C145.5,225.3 149.2,227.7 152.4,229.5 C155.6,231.3 158.3,232.4 161.2,233.6 C164.1,234.8 166.9,235.7 170.0,236.6 C173.1,237.5 176.3,238.2 180.0,238.8 C183.7,239.4 187.7,240.2 192.4,240.3 C197.1,240.4 202.8,239.9 208.0,239.3 C213.2,238.7 218.4,238.0 223.6,236.7 C228.8,235.3 234.8,233.0 239.2,231.2 C243.6,229.4 246.4,227.9 250.0,226.0 C253.6,224.1 255.5,223.6 260.8,220.0 C266.1,216.4 274.7,209.9 281.6,204.7 C288.5,199.4 296.0,193.1 302.4,188.5 C308.8,183.9 314.7,180.4 320.0,177.2 C325.3,174.0 329.2,171.9 334.0,169.5 C338.8,167.1 343.8,164.6 348.7,162.9 C353.6,161.2 361.2,159.9 363.7,159.3" stroke="#1818ff" stroke-width="2.4"/>
</g>
<path d="M45.50,73.00 H379.00" stroke="#6e6e6e" stroke-width="1.4" fill="none"/>
<path d="M379.00,73.00 V278.70" stroke="#707070" stroke-width="1.4" fill="none"/>
<path d="M45.50,278.70 H379.70" stroke="#555" stroke-width="1.4" fill="none"/>
<path d="M45.50,72.30 V279.40" stroke="#2a2a2a" stroke-width="1.4" fill="none"/>
<g font-family="Liberation Serif, serif" font-size="12" fill="#606060">
<text transform="translate(42.90,283.05) scale(1,1.07)" text-anchor="end">−20</text>
<text transform="translate(42.90,245.65) scale(1,1.07)" text-anchor="end">0</text>
<text transform="translate(42.90,208.25) scale(1,1.07)" text-anchor="end">20</text>
<text transform="translate(42.90,170.85) scale(1,1.07)" text-anchor="end">40</text>
<text transform="translate(42.90,133.45) scale(1,1.07)" text-anchor="end">60</text>
<text transform="translate(42.90,96.05) scale(1,1.07)" text-anchor="end">80</text>
<text transform="translate(45.50,292.00) scale(1,1.07)" text-anchor="middle">0.0</text>
<text transform="translate(109.02,292.00) scale(1,1.07)" text-anchor="middle">0.2</text>
<text transform="translate(172.55,292.00) scale(1,1.07)" text-anchor="middle">0.4</text>
<text transform="translate(236.07,292.00) scale(1,1.07)" text-anchor="middle">0.6</text>
<text transform="translate(299.60,292.00) scale(1,1.07)" text-anchor="middle">0.8</text>
<text transform="translate(363.12,292.00) scale(1,1.07)" text-anchor="middle">1.0</text>
<text x="212.25" y="308.30" text-anchor="middle">% cycle</text>
<text transform="translate(17.20,175.85) rotate(-90)" text-anchor="middle">Knee Rotations (deg)</text>
</g>
<text x="212.25" y="69.80" text-anchor="middle" font-family="Liberation Serif, serif" font-weight="bold" font-size="12.5" fill="#585858">Flexion(+)/Extension(−)</text>
</g>
<g>
<line x1="425.50" y1="240.80" x2="759.20" y2="240.80" stroke="#d0d0d0" stroke-width="1"/>
<defs><clipPath id="c1"><rect x="425.50" y="76.00" width="333.70" height="206.00"/></clipPath></defs>
<g clip-path="url(#c1)" fill="none" stroke-linejoin="round" stroke-linecap="butt">
<path d="M430.0,213.3 C430.7,213.6 432.7,214.6 434.0,215.1 C435.3,215.7 436.7,216.2 438.0,216.5 C439.3,216.9 440.7,217.1 442.0,217.3 C443.3,217.4 444.7,217.4 446.0,217.4 C447.3,217.4 448.7,217.4 450.0,217.4 C451.3,217.3 452.7,217.3 454.0,217.2 C455.3,217.2 456.7,217.1 458.0,217.1 C459.3,217.1 460.7,217.1 462.0,217.1 C463.3,217.2 464.7,217.2 466.0,217.3 C467.3,217.4 468.7,217.6 470.0,217.7 C471.3,217.8 472.7,217.9 474.0,218.0 C475.3,218.1 476.7,218.1 478.0,218.1 C479.3,218.1 480.7,218.1 482.0,218.0 C483.3,218.0 484.7,217.9 486.0,217.8 C487.3,217.7 488.7,217.5 490.0,217.3 C491.3,217.2 492.7,217.0 494.0,216.9 C495.3,216.8 496.7,216.6 498.0,216.6 C499.3,216.6 500.7,216.6 502.0,216.6 C503.3,216.7 504.7,216.7 506.0,216.9 C507.3,217.2 508.7,217.6 510.0,218.1 C511.3,218.6 512.7,219.3 514.0,219.9 C515.3,220.4 516.7,221.0 518.0,221.3 C519.3,221.5 520.7,221.5 522.0,221.5 C523.3,221.4 524.7,221.3 526.0,221.1 C527.3,220.9 528.7,220.6 530.0,220.3 C531.3,220.1 532.7,219.7 534.0,219.4 C535.3,219.1 536.7,218.8 538.0,218.4 C539.3,218.1 540.7,217.7 542.0,217.3 C543.3,216.9 544.7,216.5 546.0,216.1 C547.3,215.8 548.7,215.4 550.0,215.1 C551.3,214.7 552.7,214.4 554.0,214.2 C555.3,213.9 556.7,213.6 558.0,213.3 C559.3,213.0 560.7,212.7 562.0,212.4 C563.3,212.2 564.7,211.8 566.0,211.7 C567.3,211.7 568.7,211.9 570.0,212.1 C571.3,212.3 572.7,212.9 574.0,213.1 C575.3,213.3 576.7,213.1 578.0,213.2 C579.3,213.2 580.7,213.3 582.0,213.5 C583.3,213.7 584.7,214.1 586.0,214.1 C587.3,214.2 588.7,214.1 590.0,213.8 C591.3,213.5 592.7,212.7 594.0,212.5 C595.3,212.2 596.7,212.3 598.0,212.4 C599.3,212.5 600.7,212.9 602.0,213.1 C603.3,213.4 604.7,213.7 606.0,214.0 C607.3,214.3 608.7,214.7 610.0,215.1 C611.3,215.4 612.7,215.8 614.0,216.3 C615.3,216.7 616.7,217.2 618.0,217.6 C619.3,218.1 620.7,218.6 622.0,219.0 C623.3,219.5 624.7,220.0 626.0,220.4 C627.3,220.8 628.7,221.2 630.0,221.5 C631.3,221.8 632.7,222.0 634.0,222.2 C635.3,222.4 636.7,222.6 638.0,222.7 C639.3,222.8 640.7,222.9 642.0,222.9 C643.3,223.0 644.7,222.9 646.0,222.9 C647.3,222.8 648.7,222.7 650.0,222.5 C651.3,222.4 652.7,222.2 654.0,222.0 C655.3,221.8 656.7,221.5 658.0,221.3 C659.3,221.1 660.7,220.9 662.0,220.6 C663.3,220.4 664.7,220.2 666.0,219.9 C667.3,219.7 668.7,219.4 670.0,219.1 C671.3,218.9 672.7,218.6 674.0,218.3 C675.3,218.0 676.7,217.7 678.0,217.5 C679.3,217.2 680.7,216.9 682.0,216.6 C683.3,216.4 684.7,216.1 686.0,215.8 C687.3,215.6 688.7,215.3 690.0,215.0 C691.3,214.8 692.7,214.5 694.0,214.2 C695.3,214.0 696.7,213.7 698.0,213.4 C699.3,213.2 700.7,212.9 702.0,212.6 C703.3,212.4 704.7,212.1 706.0,211.9 C707.3,211.6 708.7,211.3 710.0,211.1 C711.3,210.8 712.7,210.5 714.0,210.2 C715.3,209.9 716.7,209.6 718.0,209.2 C719.3,208.9 720.7,208.5 722.0,208.1 C723.3,207.7 724.7,207.3 726.0,207.1 C727.3,206.8 728.7,206.5 730.0,206.6 C731.3,206.7 732.7,207.2 734.0,207.7 C735.3,208.2 736.7,208.9 738.0,209.6 C739.3,210.2 741.1,211.2 742.0,211.7 C742.9,212.1 743.1,212.2 743.3,212.3" stroke="#ff1010" stroke-width="1.5" stroke-dasharray="3.2 2.8"/>
<path d="M430.0,216.3 C430.7,216.6 432.7,217.6 434.0,218.2 C435.3,218.8 436.7,219.4 438.0,219.8 C439.3,220.2 440.7,220.5 442.0,220.8 C443.3,221.0 444.7,221.2 446.0,221.3 C447.3,221.4 448.7,221.5 450.0,221.6 C451.3,221.7 452.7,221.8 454.0,221.9 C455.3,221.9 456.7,222.0 458.0,222.1 C459.3,222.2 460.7,222.3 462.0,222.4 C463.3,222.6 464.7,222.7 466.0,222.9 C467.3,223.0 468.7,223.2 470.0,223.4 C471.3,223.5 472.7,223.7 474.0,223.9 C475.3,224.0 476.7,224.2 478.0,224.3 C479.3,224.5 480.7,224.7 482.0,224.8 C483.3,224.9 484.7,225.0 486.0,225.1 C487.3,225.2 488.7,225.3 490.0,225.4 C491.3,225.4 492.7,225.5 494.0,225.5 C495.3,225.6 496.7,225.7 498.0,225.8 C499.3,226.0 500.7,226.1 502.0,226.3 C503.3,226.4 504.7,226.6 506.0,226.8 C507.3,226.9 508.7,227.1 510.0,227.3 C511.3,227.4 512.7,227.6 514.0,227.7 C515.3,227.8 516.7,227.9 518.0,227.9 C519.3,227.9 520.7,227.9 522.0,227.9 C523.3,227.8 524.7,227.7 526.0,227.5 C527.3,227.4 528.7,227.0 530.0,227.0 C531.3,226.9 532.7,227.1 534.0,227.3 C535.3,227.4 536.7,228.0 538.0,228.1 C539.3,228.1 540.7,227.7 542.0,227.5 C543.3,227.3 544.7,227.1 546.0,226.9 C547.3,226.6 548.7,226.4 550.0,226.1 C551.3,225.9 552.7,225.7 554.0,225.5 C555.3,225.3 556.7,225.2 558.0,225.0 C559.3,224.8 560.7,224.6 562.0,224.3 C563.3,224.1 564.7,223.7 566.0,223.4 C567.3,223.1 568.7,222.8 570.0,222.6 C571.3,222.3 572.7,222.2 574.0,222.0 C575.3,221.9 576.7,221.7 578.0,221.6 C579.3,221.6 580.7,221.5 582.0,221.5 C583.3,221.6 584.7,221.7 586.0,221.8 C587.3,222.0 588.7,222.1 590.0,222.4 C591.3,222.6 592.7,222.8 594.0,223.2 C595.3,223.6 596.7,224.1 598.0,224.5 C599.3,224.9 600.7,225.4 602.0,225.8 C603.3,226.1 604.7,226.4 606.0,226.6 C607.3,226.9 608.7,227.1 610.0,227.4 C611.3,227.7 612.7,228.0 614.0,228.4 C615.3,228.9 616.7,229.6 618.0,230.1 C619.3,230.6 620.7,231.1 622.0,231.4 C623.3,231.8 624.7,232.0 626.0,232.1 C627.3,232.2 628.7,232.1 630.0,232.0 C631.3,231.8 632.7,231.5 634.0,231.3 C635.3,231.0 636.7,230.7 638.0,230.4 C639.3,230.1 640.7,229.8 642.0,229.5 C643.3,229.3 644.7,229.0 646.0,228.9 C647.3,228.7 648.7,228.7 650.0,228.5 C651.3,228.4 652.7,228.2 654.0,228.1 C655.3,227.9 656.7,227.8 658.0,227.6 C659.3,227.4 660.7,227.2 662.0,227.0 C663.3,226.9 664.7,226.7 666.0,226.5 C667.3,226.3 668.7,226.1 670.0,225.9 C671.3,225.7 672.7,225.4 674.0,225.2 C675.3,224.9 676.7,224.7 678.0,224.4 C679.3,224.2 680.7,223.9 682.0,223.6 C683.3,223.4 684.7,223.1 686.0,222.9 C687.3,222.7 688.7,222.4 690.0,222.2 C691.3,222.0 692.7,221.8 694.0,221.6 C695.3,221.4 696.7,221.1 698.0,220.9 C699.3,220.7 700.7,220.5 702.0,220.3 C703.3,220.1 704.7,219.9 706.0,219.7 C707.3,219.5 708.7,219.3 710.0,219.0 C711.3,218.8 712.7,218.5 714.0,218.2 C715.3,217.9 716.7,217.5 718.0,217.1 C719.3,216.7 720.7,216.2 722.0,215.8 C723.3,215.3 724.7,214.7 726.0,214.4 C727.3,214.0 728.7,213.5 730.0,213.4 C731.3,213.4 732.7,213.6 734.0,213.8 C735.3,214.1 736.7,214.5 738.0,215.0 C739.3,215.5 741.1,216.3 742.0,216.7 C742.9,217.1 743.1,217.2 743.3,217.3" stroke="#ff1010" stroke-width="1.5" stroke-dasharray="3.2 2.8"/>
<path d="M430.0,215.3 C430.7,215.6 432.7,216.6 434.0,217.1 C435.3,217.7 436.7,218.2 438.0,218.6 C439.3,219.0 440.7,219.2 442.0,219.4 C443.3,219.6 444.7,219.6 446.0,219.7 C447.3,219.8 448.7,219.7 450.0,219.7 C451.3,219.7 452.7,219.7 454.0,219.7 C455.3,219.7 456.7,219.6 458.0,219.6 C459.3,219.6 460.7,219.6 462.0,219.7 C463.3,219.7 464.7,219.7 466.0,219.8 C467.3,219.9 468.7,219.9 470.0,220.0 C471.3,220.1 472.7,220.2 474.0,220.3 C475.3,220.4 476.7,220.5 478.0,220.6 C479.3,220.8 480.7,220.9 482.0,221.0 C483.3,221.1 484.7,221.2 486.0,221.3 C487.3,221.4 488.7,221.4 490.0,221.5 C491.3,221.5 492.7,221.5 494.0,221.6 C495.3,221.6 496.7,221.6 498.0,221.7 C499.3,221.8 500.7,221.9 502.0,222.0 C503.3,222.1 504.7,222.2 506.0,222.3 C507.3,222.4 508.7,222.5 510.0,222.6 C511.3,222.7 512.7,222.9 514.0,222.9 C515.3,223.0 516.7,223.1 518.0,223.1 C519.3,223.1 520.7,223.1 522.0,223.0 C523.3,222.9 524.7,222.8 526.0,222.7 C527.3,222.5 528.7,222.3 530.0,222.0 C531.3,221.8 532.7,221.6 534.0,221.3 C535.3,221.1 536.7,220.8 538.0,220.6 C539.3,220.3 540.7,220.0 542.0,219.7 C543.3,219.4 544.7,219.1 546.0,218.9 C547.3,218.6 548.7,218.4 550.0,218.1 C551.3,217.9 552.7,217.8 554.0,217.6 C555.3,217.4 556.7,217.3 558.0,217.1 C559.3,217.0 560.7,216.9 562.0,216.8 C563.3,216.7 564.7,216.6 566.0,216.5 C567.3,216.4 568.7,216.4 570.0,216.3 C571.3,216.3 572.7,216.2 574.0,216.2 C575.3,216.2 576.7,216.2 578.0,216.2 C579.3,216.2 580.7,216.3 582.0,216.4 C583.3,216.6 584.7,216.8 586.0,217.0 C587.3,217.2 588.7,217.5 590.0,217.8 C591.3,218.1 592.7,218.4 594.0,218.7 C595.3,219.0 596.7,219.3 598.0,219.6 C599.3,219.9 600.7,220.2 602.0,220.5 C603.3,220.8 604.7,221.1 606.0,221.4 C607.3,221.6 608.7,221.9 610.0,222.2 C611.3,222.5 612.7,222.7 614.0,223.0 C615.3,223.3 616.7,223.6 618.0,224.0 C619.3,224.3 620.7,224.7 622.0,225.0 C623.3,225.2 624.7,225.5 626.0,225.7 C627.3,225.9 628.7,226.0 630.0,226.1 C631.3,226.1 632.7,226.0 634.0,226.0 C635.3,225.9 636.7,225.8 638.0,225.7 C639.3,225.6 640.7,225.5 642.0,225.3 C643.3,225.2 644.7,225.1 646.0,224.9 C647.3,224.8 648.7,224.7 650.0,224.5 C651.3,224.4 652.7,224.2 654.0,224.0 C655.3,223.9 656.7,223.7 658.0,223.5 C659.3,223.3 660.7,223.1 662.0,223.0 C663.3,222.8 664.7,222.7 666.0,222.5 C667.3,222.3 668.7,222.2 670.0,222.0 C671.3,221.8 672.7,221.6 674.0,221.5 C675.3,221.3 676.7,221.1 678.0,220.9 C679.3,220.7 680.7,220.6 682.0,220.4 C683.3,220.2 684.7,220.0 686.0,219.9 C687.3,219.7 688.7,219.5 690.0,219.3 C691.3,219.1 692.7,218.9 694.0,218.6 C695.3,218.4 696.7,218.2 698.0,217.9 C699.3,217.7 700.7,217.4 702.0,217.1 C703.3,216.8 704.7,216.6 706.0,216.3 C707.3,216.0 708.7,215.7 710.0,215.3 C711.3,215.0 712.7,214.7 714.0,214.3 C715.3,214.0 716.7,213.6 718.0,213.2 C719.3,212.7 720.7,212.3 722.0,211.8 C723.3,211.4 724.7,210.9 726.0,210.6 C727.3,210.3 728.7,209.9 730.0,209.9 C731.3,209.9 732.7,210.2 734.0,210.5 C735.3,210.9 736.7,211.4 738.0,211.9 C739.3,212.4 741.1,213.3 742.0,213.7 C742.9,214.1 743.1,214.2 743.3,214.3" stroke="#ff1010" stroke-width="1.5" stroke-dasharray="3.2 2.8"/>
<path d="M430.0,213.8 C430.7,214.1 432.7,215.1 434.0,215.7 C435.3,216.3 436.7,216.9 438.0,217.3 C439.3,217.8 440.7,218.1 442.0,218.3 C443.3,218.6 444.7,218.7 446.0,218.9 C447.3,219.0 448.7,219.1 450.0,219.3 C451.3,219.4 452.7,219.5 454.0,219.6 C455.3,219.7 456.7,219.8 458.0,219.9 C459.3,220.0 460.7,220.1 462.0,220.3 C463.3,220.5 464.7,220.6 466.0,220.8 C467.3,221.0 468.7,221.2 470.0,221.4 C471.3,221.6 472.7,221.8 474.0,222.0 C475.3,222.2 476.7,222.4 478.0,222.6 C479.3,222.8 480.7,223.0 482.0,223.2 C483.3,223.3 484.7,223.5 486.0,223.6 C487.3,223.7 488.7,223.8 490.0,223.9 C491.3,224.0 492.7,224.0 494.0,224.1 C495.3,224.2 496.7,224.2 498.0,224.3 C499.3,224.4 500.7,224.6 502.0,224.7 C503.3,224.8 504.7,225.0 506.0,225.2 C507.3,225.3 508.7,225.5 510.0,225.6 C511.3,225.8 512.7,225.9 514.0,226.0 C515.3,226.2 516.7,226.3 518.0,226.4 C519.3,226.4 520.7,226.5 522.0,226.4 C523.3,226.4 524.7,226.3 526.0,226.2 C527.3,226.1 528.7,225.9 530.0,225.7 C531.3,225.5 532.7,225.3 534.0,225.1 C535.3,224.9 536.7,224.7 538.0,224.4 C539.3,224.2 540.7,223.9 542.0,223.6 C543.3,223.3 544.7,223.0 546.0,222.7 C547.3,222.4 548.7,222.1 550.0,221.8 C551.3,221.5 552.7,221.3 554.0,221.0 C555.3,220.8 556.7,220.5 558.0,220.3 C559.3,220.0 560.7,219.8 562.0,219.5 C563.3,219.3 564.7,219.0 566.0,218.8 C567.3,218.6 568.7,218.3 570.0,218.0 C571.3,217.8 572.7,217.5 574.0,217.3 C575.3,217.0 576.7,216.7 578.0,216.5 C579.3,216.3 580.7,216.2 582.0,216.1 C583.3,216.0 584.7,215.9 586.0,215.9 C587.3,215.9 588.7,216.0 590.0,216.1 C591.3,216.2 592.7,216.3 594.0,216.4 C595.3,216.5 596.7,216.7 598.0,216.8 C599.3,217.0 600.7,217.1 602.0,217.3 C603.3,217.5 604.7,217.8 606.0,218.0 C607.3,218.3 608.7,218.5 610.0,218.8 C611.3,219.1 612.7,219.4 614.0,219.7 C615.3,220.1 616.7,220.5 618.0,220.9 C619.3,221.3 620.7,221.8 622.0,222.2 C623.3,222.6 624.7,223.1 626.0,223.4 C627.3,223.7 628.7,224.0 630.0,224.2 C631.3,224.4 632.7,224.6 634.0,224.7 C635.3,224.8 636.7,224.9 638.0,224.9 C639.3,225.0 640.7,225.0 642.0,225.0 C643.3,225.1 644.7,225.1 646.0,225.1 C647.3,225.1 648.7,225.1 650.0,225.0 C651.3,225.0 652.7,224.9 654.0,224.8 C655.3,224.7 656.7,224.5 658.0,224.4 C659.3,224.3 660.7,224.1 662.0,224.0 C663.3,223.8 664.7,223.7 666.0,223.5 C667.3,223.3 668.7,223.1 670.0,222.9 C671.3,222.7 672.7,222.4 674.0,222.2 C675.3,222.0 676.7,221.7 678.0,221.4 C679.3,221.2 680.7,220.9 682.0,220.6 C683.3,220.4 684.7,220.1 686.0,219.8 C687.3,219.5 688.7,219.2 690.0,218.9 C691.3,218.6 692.7,218.3 694.0,218.0 C695.3,217.7 696.7,217.3 698.0,217.0 C699.3,216.7 700.7,216.4 702.0,216.1 C703.3,215.8 704.7,215.4 706.0,215.1 C707.3,214.8 708.7,214.5 710.0,214.1 C711.3,213.8 712.7,213.5 714.0,213.1 C715.3,212.7 716.7,212.3 718.0,211.9 C719.3,211.5 720.7,211.0 722.0,210.6 C723.3,210.2 724.7,209.7 726.0,209.4 C727.3,209.1 728.7,208.8 730.0,208.8 C731.3,208.8 732.7,209.1 734.0,209.5 C735.3,209.8 736.7,210.3 738.0,210.9 C739.3,211.4 741.1,212.3 742.0,212.7 C742.9,213.1 743.1,213.2 743.3,213.3" stroke="#ff1010" stroke-width="1.5" stroke-dasharray="3.2 2.8"/>
<path d="M430.0,193.6 C430.7,193.5 432.7,193.3 434.0,193.1 C435.3,193.0 436.7,192.8 438.0,192.6 C439.3,192.4 440.7,192.2 442.0,192.0 C443.3,191.9 444.7,191.7 446.0,191.5 C447.3,191.3 448.7,191.2 450.0,191.0 C451.3,190.9 452.7,190.7 454.0,190.6 C455.3,190.5 456.7,190.3 458.0,190.3 C459.3,190.3 460.7,190.5 462.0,190.6 C463.3,190.6 464.7,190.9 466.0,190.8 C467.3,190.8 468.7,190.4 470.0,190.3 C471.3,190.2 472.7,189.9 474.0,190.0 C475.3,190.1 476.7,190.6 478.0,191.0 C479.3,191.4 480.7,191.9 482.0,192.3 C483.3,192.7 484.7,193.0 486.0,193.3 C487.3,193.7 488.7,194.0 490.0,194.5 C491.3,195.0 492.7,195.5 494.0,196.2 C495.3,196.9 496.7,197.9 498.0,198.7 C499.3,199.6 500.7,200.6 502.0,201.3 C503.3,202.0 504.7,202.3 506.0,203.0 C507.3,203.6 508.7,204.3 510.0,205.1 C511.3,206.0 512.7,207.4 514.0,208.3 C515.3,209.3 516.7,210.3 518.0,210.9 C519.3,211.5 520.7,211.5 522.0,211.7 C523.3,211.9 524.7,212.0 526.0,212.1 C527.3,212.2 528.7,212.3 530.0,212.4 C531.3,212.6 532.7,212.7 534.0,213.0 C535.3,213.2 536.7,213.5 538.0,213.8 C539.3,214.1 540.7,214.4 542.0,214.6 C543.3,214.9 544.7,215.0 546.0,215.1 C547.3,215.2 548.7,215.2 550.0,215.1 C551.3,215.0 552.7,214.8 554.0,214.5 C555.3,214.2 556.7,213.8 558.0,213.3 C559.3,212.7 560.7,212.0 562.0,211.3 C563.3,210.6 564.7,209.7 566.0,209.2 C567.3,208.6 568.7,208.4 570.0,208.1 C571.3,207.8 572.7,207.7 574.0,207.4 C575.3,207.1 576.7,206.7 578.0,206.3 C579.3,206.0 580.7,205.7 582.0,205.5 C583.3,205.3 584.7,205.2 586.0,205.1 C587.3,205.0 588.7,205.1 590.0,204.9 C591.3,204.6 592.7,204.4 594.0,203.7 C595.3,202.9 596.7,201.5 598.0,200.5 C599.3,199.6 600.7,198.6 602.0,197.7 C603.3,196.9 604.7,196.4 606.0,195.6 C607.3,194.7 608.7,193.5 610.0,192.7 C611.3,192.0 612.7,191.3 614.0,191.2 C615.3,191.1 616.7,192.0 618.0,192.3 C619.3,192.6 620.7,192.5 622.0,192.8 C623.3,193.2 624.7,193.9 626.0,194.3 C627.3,194.7 628.7,194.9 630.0,195.0 C631.3,195.1 632.7,195.0 634.0,195.1 C635.3,195.1 636.7,195.3 638.0,195.4 C639.3,195.5 640.7,195.7 642.0,195.7 C643.3,195.7 644.7,195.6 646.0,195.5 C647.3,195.3 648.7,194.9 650.0,194.8 C651.3,194.6 652.7,194.5 654.0,194.4 C655.3,194.3 656.7,194.2 658.0,194.1 C659.3,194.0 660.7,193.8 662.0,193.6 C663.3,193.4 664.7,193.0 666.0,192.7 C667.3,192.4 668.7,192.1 670.0,191.9 C671.3,191.6 672.7,191.4 674.0,191.2 C675.3,191.0 676.7,190.8 678.0,190.7 C679.3,190.5 680.7,190.3 682.0,190.1 C683.3,190.0 684.7,189.8 686.0,189.7 C687.3,189.5 688.7,189.4 690.0,189.2 C691.3,189.1 692.7,188.9 694.0,188.8 C695.3,188.6 696.7,188.4 698.0,188.2 C699.3,188.1 700.7,187.8 702.0,187.6 C703.3,187.4 704.7,187.2 706.0,187.0 C707.3,186.9 708.7,186.7 710.0,186.8 C711.3,186.8 712.7,187.0 714.0,187.2 C715.3,187.4 716.7,187.8 718.0,188.2 C719.3,188.6 720.7,189.0 722.0,189.4 C723.3,189.8 724.7,190.2 726.0,190.6 C727.3,191.0 728.7,191.5 730.0,191.8 C731.3,192.1 732.7,192.4 734.0,192.6 C735.3,192.9 736.7,193.1 738.0,193.3 C739.3,193.5 741.1,193.7 742.0,193.8 C742.9,193.9 743.1,194.0 743.3,194.0" stroke="#1818ff" stroke-width="1.5" stroke-dasharray="3.2 2.8"/>
<path d="M430.0,195.6 C430.7,195.5 432.7,195.3 434.0,195.2 C435.3,195.0 436.7,194.9 438.0,194.7 C439.3,194.6 440.7,194.4 442.0,194.2 C443.3,194.1 444.7,193.9 446.0,193.8 C447.3,193.7 448.7,193.6 450.0,193.4 C451.3,193.3 452.7,193.2 454.0,193.1 C455.3,193.0 456.7,192.8 458.0,192.8 C459.3,192.8 460.7,192.8 462.0,193.0 C463.3,193.2 464.7,193.4 466.0,193.8 C467.3,194.1 468.7,194.6 470.0,195.0 C471.3,195.5 472.7,196.1 474.0,196.6 C475.3,197.1 476.7,197.6 478.0,198.2 C479.3,198.8 480.7,199.5 482.0,200.2 C483.3,200.9 484.7,201.6 486.0,202.4 C487.3,203.1 488.7,203.9 490.0,204.6 C491.3,205.2 492.7,205.9 494.0,206.5 C495.3,207.0 496.7,207.6 498.0,208.1 C499.3,208.6 500.7,209.1 502.0,209.5 C503.3,209.9 504.7,210.3 506.0,210.7 C507.3,211.0 508.7,211.3 510.0,211.6 C511.3,211.9 512.7,212.1 514.0,212.4 C515.3,212.6 516.7,212.7 518.0,212.8 C519.3,212.9 520.7,213.0 522.0,213.0 C523.3,213.0 524.7,212.8 526.0,212.7 C527.3,212.7 528.7,212.5 530.0,212.4 C531.3,212.4 532.7,212.3 534.0,212.4 C535.3,212.4 536.7,212.6 538.0,212.8 C539.3,213.0 540.7,213.4 542.0,213.5 C543.3,213.6 544.7,213.4 546.0,213.2 C547.3,213.0 548.7,212.7 550.0,212.4 C551.3,212.2 552.7,212.0 554.0,211.9 C555.3,211.7 556.7,211.9 558.0,211.4 C559.3,210.9 560.7,209.7 562.0,208.9 C563.3,208.1 564.7,208.2 566.0,206.7 C567.3,205.1 568.7,201.0 570.0,199.5 C571.3,197.9 572.7,197.7 574.0,197.2 C575.3,196.6 576.7,196.2 578.0,196.3 C579.3,196.4 580.7,196.7 582.0,197.8 C583.3,198.8 584.7,200.9 586.0,202.4 C587.3,203.8 588.7,205.1 590.0,206.5 C591.3,208.0 592.7,208.8 594.0,210.9 C595.3,213.0 596.7,217.1 598.0,218.9 C599.3,220.7 600.7,221.5 602.0,221.6 C603.3,221.7 604.7,220.3 606.0,219.5 C607.3,218.7 608.7,217.8 610.0,216.9 C611.3,216.0 612.7,215.3 614.0,214.2 C615.3,213.2 616.7,211.4 618.0,210.6 C619.3,209.9 620.7,209.8 622.0,209.8 C623.3,209.7 624.7,210.3 626.0,210.4 C627.3,210.6 628.7,210.6 630.0,210.6 C631.3,210.6 632.7,210.4 634.0,210.3 C635.3,210.2 636.7,210.1 638.0,209.9 C639.3,209.7 640.7,209.5 642.0,209.2 C643.3,208.9 644.7,208.4 646.0,207.9 C647.3,207.3 648.7,206.7 650.0,206.0 C651.3,205.3 652.7,204.5 654.0,203.7 C655.3,203.0 656.7,202.2 658.0,201.5 C659.3,200.9 660.7,200.2 662.0,199.7 C663.3,199.3 664.7,199.0 666.0,198.7 C667.3,198.3 668.7,198.0 670.0,197.7 C671.3,197.4 672.7,197.1 674.0,196.8 C675.3,196.5 676.7,196.2 678.0,195.9 C679.3,195.6 680.7,195.3 682.0,195.0 C683.3,194.7 684.7,194.5 686.0,194.2 C687.3,194.0 688.7,193.7 690.0,193.5 C691.3,193.3 692.7,193.0 694.0,192.8 C695.3,192.6 696.7,192.5 698.0,192.2 C699.3,192.0 700.7,191.8 702.0,191.6 C703.3,191.3 704.7,191.0 706.0,190.8 C707.3,190.7 708.7,190.5 710.0,190.4 C711.3,190.4 712.7,190.4 714.0,190.6 C715.3,190.8 716.7,191.1 718.0,191.3 C719.3,191.6 720.7,192.0 722.0,192.3 C723.3,192.6 724.7,192.9 726.0,193.2 C727.3,193.5 728.7,193.9 730.0,194.2 C731.3,194.5 732.7,194.7 734.0,194.8 C735.3,195.0 736.7,195.2 738.0,195.3 C739.3,195.5 741.1,195.7 742.0,195.8 C742.9,195.9 743.1,196.0 743.3,196.0" stroke="#1818ff" stroke-width="1.5" stroke-dasharray="3.2 2.8"/>
<path d="M430.0,194.6 C430.7,194.5 432.7,194.4 434.0,194.3 C435.3,194.2 436.7,194.2 438.0,194.2 C439.3,194.2 440.7,194.2 442.0,194.2 C443.3,194.3 444.7,194.3 446.0,194.4 C447.3,194.5 448.7,194.6 450.0,194.8 C451.3,194.9 452.7,195.0 454.0,195.1 C455.3,195.3 456.7,195.4 458.0,195.7 C459.3,195.9 460.7,196.2 462.0,196.5 C463.3,196.9 464.7,197.4 466.0,197.9 C467.3,198.4 468.7,199.1 470.0,199.7 C471.3,200.3 472.7,200.9 474.0,201.5 C475.3,202.1 476.7,202.6 478.0,203.2 C479.3,203.8 480.7,204.4 482.0,205.0 C483.3,205.6 484.7,206.3 486.0,206.9 C487.3,207.5 488.7,208.1 490.0,208.7 C491.3,209.3 492.7,209.8 494.0,210.5 C495.3,211.1 496.7,212.1 498.0,212.4 C499.3,212.8 500.7,212.6 502.0,212.5 C503.3,212.5 504.7,212.2 506.0,212.3 C507.3,212.3 508.7,212.8 510.0,213.0 C511.3,213.1 512.7,213.2 514.0,213.3 C515.3,213.3 516.7,213.4 518.0,213.5 C519.3,213.6 520.7,213.8 522.0,213.9 C523.3,213.9 524.7,213.9 526.0,213.8 C527.3,213.7 528.7,213.6 530.0,213.5 C531.3,213.5 532.7,213.4 534.0,213.4 C535.3,213.5 536.7,213.6 538.0,213.8 C539.3,214.0 540.7,214.4 542.0,214.6 C543.3,214.7 544.7,214.8 546.0,214.7 C547.3,214.6 548.7,214.4 550.0,214.1 C551.3,213.8 552.7,213.4 554.0,213.0 C555.3,212.5 556.7,212.0 558.0,211.4 C559.3,210.8 560.7,209.9 562.0,209.3 C563.3,208.7 564.7,208.1 566.0,207.7 C567.3,207.2 568.7,207.1 570.0,206.9 C571.3,206.6 572.7,206.3 574.0,206.1 C575.3,205.9 576.7,205.8 578.0,205.6 C579.3,205.4 580.7,205.2 582.0,205.0 C583.3,204.7 584.7,204.6 586.0,204.1 C587.3,203.6 588.7,202.5 590.0,201.9 C591.3,201.3 592.7,200.9 594.0,200.4 C595.3,200.0 596.7,199.1 598.0,199.2 C599.3,199.4 600.7,201.1 602.0,201.4 C603.3,201.6 604.7,200.7 606.0,200.5 C607.3,200.4 608.7,200.4 610.0,200.2 C611.3,200.0 612.7,199.5 614.0,199.4 C615.3,199.2 616.7,199.3 618.0,199.3 C619.3,199.3 620.7,199.2 622.0,199.5 C623.3,199.7 624.7,200.3 626.0,200.6 C627.3,200.9 628.7,201.1 630.0,201.3 C631.3,201.4 632.7,201.3 634.0,201.2 C635.3,201.2 636.7,201.0 638.0,200.9 C639.3,200.8 640.7,200.5 642.0,200.4 C643.3,200.3 644.7,200.3 646.0,200.3 C647.3,200.3 648.7,200.4 650.0,200.4 C651.3,200.4 652.7,200.4 654.0,200.4 C655.3,200.4 656.7,200.3 658.0,200.2 C659.3,200.0 660.7,199.9 662.0,199.6 C663.3,199.3 664.7,199.0 666.0,198.6 C667.3,198.3 668.7,198.0 670.0,197.6 C671.3,197.3 672.7,196.9 674.0,196.6 C675.3,196.2 676.7,195.9 678.0,195.5 C679.3,195.2 680.7,194.8 682.0,194.5 C683.3,194.1 684.7,193.8 686.0,193.5 C687.3,193.2 688.7,192.9 690.0,192.6 C691.3,192.3 692.7,192.1 694.0,191.9 C695.3,191.6 696.7,191.5 698.0,191.2 C699.3,191.0 700.7,190.8 702.0,190.6 C703.3,190.3 704.7,190.0 706.0,189.8 C707.3,189.7 708.7,189.5 710.0,189.4 C711.3,189.4 712.7,189.4 714.0,189.6 C715.3,189.8 716.7,190.1 718.0,190.3 C719.3,190.6 720.7,191.0 722.0,191.3 C723.3,191.6 724.7,191.9 726.0,192.2 C727.3,192.5 728.7,192.9 730.0,193.2 C731.3,193.5 732.7,193.7 734.0,193.8 C735.3,194.0 736.7,194.2 738.0,194.3 C739.3,194.5 741.1,194.7 742.0,194.8 C742.9,194.9 743.1,195.0 743.3,195.0" stroke="#1818ff" stroke-width="1.5" stroke-dasharray="3.2 2.8"/>
<path d="M430.0,195.6 C430.7,195.5 432.7,195.3 434.0,195.2 C435.3,195.1 436.7,194.9 438.0,194.8 C439.3,194.7 440.7,194.5 442.0,194.4 C443.3,194.3 444.7,194.2 446.0,194.1 C447.3,194.0 448.7,193.9 450.0,193.8 C451.3,193.7 452.7,193.6 454.0,193.6 C455.3,193.5 456.7,193.4 458.0,193.5 C459.3,193.5 460.7,193.6 462.0,193.8 C463.3,194.0 464.7,194.3 466.0,194.6 C467.3,195.0 468.7,195.5 470.0,196.0 C471.3,196.5 472.7,197.0 474.0,197.6 C475.3,198.1 476.7,198.7 478.0,199.2 C479.3,199.8 480.7,200.4 482.0,201.0 C483.3,201.6 484.7,202.3 486.0,202.9 C487.3,203.5 488.7,204.2 490.0,204.7 C491.3,205.3 492.7,205.7 494.0,206.2 C495.3,206.7 496.7,207.1 498.0,207.5 C499.3,207.9 500.7,208.2 502.0,208.6 C503.3,209.0 504.7,209.2 506.0,209.7 C507.3,210.1 508.7,210.7 510.0,211.3 C511.3,212.0 512.7,212.8 514.0,213.5 C515.3,214.1 516.7,214.8 518.0,215.2 C519.3,215.7 520.7,215.8 522.0,215.9 C523.3,216.1 524.7,216.1 526.0,216.2 C527.3,216.3 528.7,216.5 530.0,216.3 C531.3,216.2 532.7,215.7 534.0,215.4 C535.3,215.0 536.7,214.2 538.0,214.2 C539.3,214.1 540.7,214.4 542.0,214.9 C543.3,215.4 544.7,216.4 546.0,217.1 C547.3,217.7 548.7,218.4 550.0,218.9 C551.3,219.3 552.7,219.6 554.0,220.0 C555.3,220.3 556.7,220.9 558.0,221.0 C559.3,221.1 560.7,220.6 562.0,220.6 C563.3,220.6 564.7,220.7 566.0,220.9 C567.3,221.1 568.7,221.6 570.0,221.7 C571.3,221.8 572.7,221.5 574.0,221.4 C575.3,221.4 576.7,221.3 578.0,221.2 C579.3,221.1 580.7,220.9 582.0,220.8 C583.3,220.7 584.7,220.7 586.0,220.7 C587.3,220.6 588.7,220.9 590.0,220.7 C591.3,220.5 592.7,220.3 594.0,219.4 C595.3,218.5 596.7,216.5 598.0,215.3 C599.3,214.0 600.7,212.6 602.0,211.7 C603.3,210.9 604.7,210.6 606.0,210.0 C607.3,209.4 608.7,208.5 610.0,208.0 C611.3,207.4 612.7,206.7 614.0,206.7 C615.3,206.7 616.7,207.7 618.0,208.1 C619.3,208.4 620.7,208.3 622.0,208.7 C623.3,209.1 624.7,209.9 626.0,210.5 C627.3,211.1 628.7,211.7 630.0,212.1 C631.3,212.5 632.7,212.8 634.0,213.0 C635.3,213.1 636.7,213.1 638.0,212.9 C639.3,212.8 640.7,212.4 642.0,212.0 C643.3,211.7 644.7,211.2 646.0,210.8 C647.3,210.3 648.7,210.1 650.0,209.5 C651.3,208.9 652.7,208.2 654.0,207.2 C655.3,206.3 656.7,204.9 658.0,203.8 C659.3,202.8 660.7,201.6 662.0,200.9 C663.3,200.2 664.7,200.0 666.0,199.7 C667.3,199.3 668.7,199.0 670.0,198.7 C671.3,198.4 672.7,198.1 674.0,197.8 C675.3,197.5 676.7,197.2 678.0,196.9 C679.3,196.6 680.7,196.3 682.0,196.0 C683.3,195.7 684.7,195.5 686.0,195.2 C687.3,195.0 688.7,194.7 690.0,194.5 C691.3,194.3 692.7,194.0 694.0,193.8 C695.3,193.6 696.7,193.5 698.0,193.2 C699.3,193.0 700.7,192.8 702.0,192.6 C703.3,192.3 704.7,192.0 706.0,191.8 C707.3,191.7 708.7,191.5 710.0,191.4 C711.3,191.4 712.7,191.4 714.0,191.6 C715.3,191.8 716.7,192.1 718.0,192.3 C719.3,192.6 720.7,193.0 722.0,193.3 C723.3,193.6 724.7,193.9 726.0,194.2 C727.3,194.5 728.7,194.9 730.0,195.2 C731.3,195.5 732.7,195.7 734.0,195.8 C735.3,196.0 736.7,196.2 738.0,196.3 C739.3,196.5 741.1,196.7 742.0,196.8 C742.9,196.9 743.1,197.0 743.3,197.0" stroke="#1818ff" stroke-width="1.5" stroke-dasharray="3.2 2.8"/>
<path d="M430.0,214.3 C431.9,215.0 436.0,217.7 441.5,218.6 C447.0,219.5 455.8,219.4 462.9,220.0 C470.0,220.6 478.4,221.7 484.4,222.2 C490.4,222.7 492.8,222.5 498.7,222.9 C504.6,223.3 513.9,224.8 520.0,224.8 C526.1,224.8 530.4,223.9 535.6,223.0 C540.8,222.1 546.0,220.6 551.2,219.6 C556.4,218.6 561.6,217.5 566.8,216.8 C572.0,216.1 577.2,215.2 582.4,215.3 C587.6,215.4 592.8,216.6 598.0,217.6 C603.2,218.6 608.4,220.1 613.6,221.5 C618.8,222.9 623.7,225.2 629.2,225.9 C634.8,226.6 641.1,226.2 646.9,225.8 C652.7,225.4 658.2,224.3 663.8,223.3 C669.4,222.3 675.1,221.0 680.7,219.9 C686.3,218.8 692.0,217.6 697.6,216.5 C703.2,215.4 709.4,214.2 714.5,213.1 C719.6,212.0 724.6,210.1 728.0,209.7 C731.4,209.3 732.2,209.8 734.8,210.6 C737.3,211.4 741.9,213.7 743.3,214.3" stroke="#ff1010" stroke-width="2.4"/>
<path d="M430.0,194.6 C433.1,194.3 443.1,193.2 448.6,192.9 C454.1,192.6 458.1,192.1 462.9,192.9 C467.7,193.7 472.4,196.0 477.2,197.9 C482.0,199.8 486.7,202.5 491.5,204.3 C496.3,206.1 501.1,207.4 505.8,208.6 C510.6,209.8 515.0,211.1 520.0,211.7 C525.0,212.3 530.4,211.7 535.6,212.4 C540.8,213.1 547.3,215.3 551.2,216.0 C555.1,216.7 556.4,216.8 559.0,216.5 C561.6,216.2 562.9,215.2 566.8,214.5 C570.7,213.8 577.2,213.3 582.4,212.4 C587.6,211.5 592.8,210.5 598.0,209.0 C603.2,207.5 609.7,204.7 613.6,203.6 C617.5,202.5 618.7,202.5 621.4,202.5 C624.1,202.5 625.8,204.0 630.0,203.8 C634.2,203.6 641.3,202.6 646.9,201.3 C652.5,200.0 658.2,197.6 663.8,196.2 C669.4,194.8 675.1,193.8 680.7,192.8 C686.3,191.8 692.5,191.0 697.6,190.3 C702.7,189.6 706.9,188.5 711.1,188.6 C715.3,188.7 719.6,190.3 723.0,191.1 C726.4,191.9 728.0,192.7 731.4,193.3 C734.8,194.0 741.3,194.7 743.3,195.0" stroke="#1818ff" stroke-width="2.4"/>
</g>
<path d="M425.50,76.00 H759.20" stroke="#6e6e6e" stroke-width="1.4" fill="none"/>
<path d="M759.20,76.00 V282.00" stroke="#707070" stroke-width="1.4" fill="none"/>
<path d="M425.50,282.00 H759.90" stroke="#555" stroke-width="1.4" fill="none"/>
<path d="M425.50,75.30 V282.70" stroke="#2a2a2a" stroke-width="1.4" fill="none"/>
<g font-family="Liberation Serif, serif" font-size="12" fill="#606060">
<text transform="translate(422.90,286.35) scale(1,1.07)" text-anchor="end">−10</text>
<text transform="translate(422.90,245.15) scale(1,1.07)" text-anchor="end">0</text>
<text transform="translate(422.90,203.95) scale(1,1.07)" text-anchor="end">10</text>
<text transform="translate(422.90,162.75) scale(1,1.07)" text-anchor="end">20</text>
<text transform="translate(422.90,121.55) scale(1,1.07)" text-anchor="end">30</text>
<text transform="translate(422.90,80.35) scale(1,1.07)" text-anchor="end">40</text>
<text transform="translate(425.50,295.30) scale(1,1.07)" text-anchor="middle">0.0</text>
<text transform="translate(489.06,295.30) scale(1,1.07)" text-anchor="middle">0.2</text>
<text transform="translate(552.62,295.30) scale(1,1.07)" text-anchor="middle">0.4</text>
<text transform="translate(616.19,295.30) scale(1,1.07)" text-anchor="middle">0.6</text>
<text transform="translate(679.75,295.30) scale(1,1.07)" text-anchor="middle">0.8</text>
<text transform="translate(743.31,295.30) scale(1,1.07)" text-anchor="middle">1.0</text>
<text x="592.35" y="311.60" text-anchor="middle">% cycle</text>
<text transform="translate(397.50,179.00) rotate(-90)" text-anchor="middle">Knee Translation (mm)</text>
</g>
<text x="592.35" y="66.40" text-anchor="middle" font-family="Liberation Serif, serif" font-weight="bold" font-size="12.5" fill="#585858">Anterior(+)/Posterior(−)</text>
</g>
<g>
<line x1="45.60" y1="444.15" x2="379.00" y2="444.15" stroke="#d0d0d0" stroke-width="1"/>
<defs><clipPath id="c2"><rect x="45.60" y="341.00" width="333.40" height="206.30"/></clipPath></defs>
<g clip-path="url(#c2)" fill="none" stroke-linejoin="round" stroke-linecap="butt">
<path d="M49.4,437.6 C50.1,437.6 52.1,437.5 53.4,437.5 C54.7,437.5 56.1,437.4 57.4,437.4 C58.7,437.4 60.1,437.3 61.4,437.3 C62.7,437.3 64.1,437.2 65.4,437.2 C66.7,437.1 68.1,437.1 69.4,437.1 C70.7,437.0 72.1,437.0 73.4,436.9 C74.7,436.9 76.1,436.8 77.4,436.8 C78.7,436.7 80.1,436.7 81.4,436.6 C82.7,436.6 84.1,436.5 85.4,436.5 C86.7,436.4 88.1,436.4 89.4,436.3 C90.7,436.2 92.1,436.1 93.4,436.0 C94.7,435.9 96.1,435.8 97.4,435.7 C98.7,435.6 100.1,435.4 101.4,435.3 C102.7,435.2 104.1,435.0 105.4,434.9 C106.7,434.7 108.1,434.6 109.4,434.5 C110.7,434.4 112.1,434.4 113.4,434.3 C114.7,434.2 116.1,434.2 117.4,434.1 C118.7,434.1 120.1,434.0 121.4,434.0 C122.7,434.0 124.1,433.9 125.4,433.9 C126.7,433.9 128.1,433.8 129.4,433.8 C130.7,433.8 132.1,433.8 133.4,433.7 C134.7,433.7 136.1,433.7 137.4,433.7 C138.7,433.6 140.1,433.6 141.4,433.6 C142.7,433.6 144.1,433.7 145.4,433.8 C146.7,433.8 148.1,434.0 149.4,434.1 C150.7,434.3 152.1,434.4 153.4,434.5 C154.7,434.6 156.1,434.6 157.4,434.6 C158.7,434.7 160.1,434.7 161.4,434.7 C162.7,434.7 164.1,434.7 165.4,434.7 C166.7,434.7 168.1,434.6 169.4,434.6 C170.7,434.6 172.1,434.6 173.4,434.5 C174.7,434.5 176.1,434.5 177.4,434.4 C178.7,434.4 180.1,434.3 181.4,434.3 C182.7,434.2 184.1,434.2 185.4,434.1 C186.7,434.1 188.1,434.0 189.4,434.0 C190.7,433.9 192.1,433.9 193.4,433.8 C194.7,433.7 196.1,433.7 197.4,433.6 C198.7,433.5 200.1,433.5 201.4,433.4 C202.7,433.3 204.1,433.2 205.4,433.2 C206.7,433.1 208.1,433.0 209.4,432.9 C210.7,432.9 212.1,432.8 213.4,432.7 C214.7,432.6 216.1,432.5 217.4,432.4 C218.7,432.3 220.1,432.2 221.4,432.1 C222.7,432.0 224.1,431.8 225.4,431.7 C226.7,431.6 228.1,431.5 229.4,431.4 C230.7,431.3 232.1,431.2 233.4,431.1 C234.7,430.9 236.1,430.8 237.4,430.7 C238.7,430.6 240.1,430.4 241.4,430.3 C242.7,430.2 244.1,430.1 245.4,430.0 C246.7,429.8 248.1,429.7 249.4,429.7 C250.7,429.6 252.1,429.5 253.4,429.5 C254.7,429.5 256.1,429.5 257.4,429.5 C258.7,429.6 260.1,429.6 261.4,429.7 C262.7,429.8 264.1,429.8 265.4,429.9 C266.7,430.0 268.1,430.1 269.4,430.2 C270.7,430.3 272.1,430.4 273.4,430.5 C274.7,430.6 276.1,430.7 277.4,430.8 C278.7,430.9 280.1,431.0 281.4,431.1 C282.7,431.2 284.1,431.3 285.4,431.4 C286.7,431.5 288.1,431.5 289.4,431.6 C290.7,431.7 292.1,431.8 293.4,431.9 C294.7,432.0 296.1,432.1 297.4,432.2 C298.7,432.3 300.1,432.4 301.4,432.5 C302.7,432.6 304.1,432.7 305.4,432.8 C306.7,432.9 308.1,433.0 309.4,433.1 C310.7,433.2 312.1,433.2 313.4,433.3 C314.7,433.4 316.1,433.5 317.4,433.7 C318.7,433.8 320.1,433.9 321.4,434.0 C322.7,434.1 324.1,434.3 325.4,434.4 C326.7,434.5 328.1,434.7 329.4,434.8 C330.7,435.0 332.1,435.1 333.4,435.3 C334.7,435.4 336.1,435.6 337.4,435.7 C338.7,435.9 340.1,436.0 341.4,436.1 C342.7,436.2 344.1,436.3 345.4,436.4 C346.7,436.5 348.1,436.6 349.4,436.7 C350.7,436.8 352.1,436.8 353.4,436.9 C354.7,437.0 356.1,437.0 357.4,437.1 C358.7,437.1 360.5,437.2 361.4,437.3 C362.2,437.3 362.3,437.3 362.5,437.3" stroke="#ff1010" stroke-width="1.5" stroke-dasharray="3.2 2.8"/>
<path d="M49.4,435.0 C50.1,435.0 52.1,434.9 53.4,434.9 C54.7,434.9 56.1,434.8 57.4,434.8 C58.7,434.8 60.1,434.7 61.4,434.7 C62.7,434.7 64.1,434.7 65.4,434.6 C66.7,434.6 68.1,434.6 69.4,434.5 C70.7,434.5 72.1,434.5 73.4,434.4 C74.7,434.4 76.1,434.3 77.4,434.3 C78.7,434.3 80.1,434.2 81.4,434.2 C82.7,434.1 84.1,434.1 85.4,434.1 C86.7,434.0 88.1,434.0 89.4,433.9 C90.7,433.8 92.1,433.8 93.4,433.7 C94.7,433.6 96.1,433.5 97.4,433.4 C98.7,433.3 100.1,433.1 101.4,433.0 C102.7,432.9 104.1,432.7 105.4,432.6 C106.7,432.5 108.1,432.4 109.4,432.3 C110.7,432.2 112.1,432.2 113.4,432.1 C114.7,432.0 116.1,432.0 117.4,432.0 C118.7,431.9 120.1,431.9 121.4,431.9 C122.7,431.8 124.1,431.8 125.4,431.8 C126.7,431.8 128.1,431.8 129.4,431.8 C130.7,431.7 132.1,431.7 133.4,431.7 C134.7,431.7 136.1,431.7 137.4,431.6 C138.7,431.6 140.1,431.6 141.4,431.6 C142.7,431.6 144.1,431.7 145.4,431.7 C146.7,431.8 148.1,432.0 149.4,432.1 C150.7,432.3 152.1,432.4 153.4,432.5 C154.7,432.6 156.1,432.6 157.4,432.7 C158.7,432.7 160.1,432.8 161.4,432.8 C162.7,432.9 164.1,432.9 165.4,432.9 C166.7,433.0 168.1,433.0 169.4,433.0 C170.7,433.0 172.1,433.1 173.4,433.1 C174.7,433.1 176.1,433.1 177.4,433.2 C178.7,433.2 180.1,433.2 181.4,433.2 C182.7,433.3 184.1,433.3 185.4,433.3 C186.7,433.3 188.1,433.3 189.4,433.3 C190.7,433.4 192.1,433.4 193.4,433.4 C194.7,433.4 196.1,433.4 197.4,433.4 C198.7,433.5 200.1,433.5 201.4,433.5 C202.7,433.5 204.1,433.5 205.4,433.5 C206.7,433.5 208.1,433.5 209.4,433.5 C210.7,433.5 212.1,433.5 213.4,433.5 C214.7,433.4 216.1,433.4 217.4,433.4 C218.7,433.4 220.1,433.3 221.4,433.3 C222.7,433.2 224.1,433.2 225.4,433.1 C226.7,433.1 228.1,433.0 229.4,432.9 C230.7,432.9 232.1,432.8 233.4,432.8 C234.7,432.7 236.1,432.6 237.4,432.5 C238.7,432.4 240.1,432.3 241.4,432.2 C242.7,432.1 244.1,432.0 245.4,431.9 C246.7,431.8 248.1,431.7 249.4,431.7 C250.7,431.6 252.1,431.5 253.4,431.5 C254.7,431.5 256.1,431.5 257.4,431.5 C258.7,431.5 260.1,431.5 261.4,431.6 C262.7,431.6 264.1,431.7 265.4,431.7 C266.7,431.8 268.1,431.8 269.4,431.9 C270.7,431.9 272.1,432.0 273.4,432.0 C274.7,432.1 276.1,432.1 277.4,432.1 C278.7,432.2 280.1,432.2 281.4,432.2 C282.7,432.2 284.1,432.3 285.4,432.3 C286.7,432.3 288.1,432.3 289.4,432.4 C290.7,432.4 292.1,432.4 293.4,432.4 C294.7,432.4 296.1,432.5 297.4,432.5 C298.7,432.5 300.1,432.5 301.4,432.5 C302.7,432.6 304.1,432.6 305.4,432.6 C306.7,432.6 308.1,432.6 309.4,432.6 C310.7,432.6 312.1,432.6 313.4,432.7 C314.7,432.7 316.1,432.7 317.4,432.7 C318.7,432.8 320.1,432.8 321.4,432.9 C322.7,432.9 324.1,433.0 325.4,433.0 C326.7,433.1 328.1,433.2 329.4,433.3 C330.7,433.3 332.1,433.4 333.4,433.5 C334.7,433.6 336.1,433.7 337.4,433.8 C338.7,433.9 340.1,433.9 341.4,434.0 C342.7,434.1 344.1,434.1 345.4,434.2 C346.7,434.2 348.1,434.3 349.4,434.3 C350.7,434.4 352.1,434.4 353.4,434.5 C354.7,434.5 356.1,434.6 357.4,434.6 C358.7,434.7 360.5,434.7 361.4,434.8 C362.2,434.8 362.3,434.8 362.5,434.8" stroke="#ff1010" stroke-width="1.5" stroke-dasharray="3.2 2.8"/>
<path d="M49.4,439.9 C50.1,439.9 52.1,439.8 53.4,439.7 C54.7,439.6 56.1,439.5 57.4,439.4 C58.7,439.3 60.1,439.1 61.4,439.0 C62.7,438.8 64.1,438.7 65.4,438.5 C66.7,438.3 68.1,438.0 69.4,437.8 C70.7,437.5 72.1,437.3 73.4,437.0 C74.7,436.8 76.1,436.6 77.4,436.3 C78.7,436.1 80.1,435.9 81.4,435.6 C82.7,435.3 84.1,435.0 85.4,434.6 C86.7,434.2 88.1,433.7 89.4,433.2 C90.7,432.7 92.1,432.1 93.4,431.5 C94.7,430.8 96.1,430.1 97.4,429.4 C98.7,428.7 100.1,427.9 101.4,427.2 C102.7,426.6 104.1,425.9 105.4,425.4 C106.7,424.8 108.1,424.4 109.4,423.9 C110.7,423.5 112.1,422.9 113.4,422.5 C114.7,422.0 116.1,421.5 117.4,421.1 C118.7,420.8 120.1,420.4 121.4,420.4 C122.7,420.4 124.1,420.6 125.4,420.9 C126.7,421.2 128.1,421.8 129.4,422.1 C130.7,422.3 132.1,422.5 133.4,422.6 C134.7,422.6 136.1,422.2 137.4,422.3 C138.7,422.3 140.1,422.4 141.4,422.7 C142.7,423.0 144.1,423.5 145.4,423.9 C146.7,424.2 148.1,424.5 149.4,424.8 C150.7,425.1 152.1,425.3 153.4,425.7 C154.7,426.0 156.1,426.4 157.4,426.9 C158.7,427.3 160.1,427.9 161.4,428.3 C162.7,428.7 164.1,428.9 165.4,429.2 C166.7,429.5 168.1,429.7 169.4,429.9 C170.7,430.1 172.1,430.4 173.4,430.6 C174.7,430.9 176.1,431.1 177.4,431.3 C178.7,431.6 180.1,431.8 181.4,432.0 C182.7,432.2 184.1,432.4 185.4,432.5 C186.7,432.6 188.1,432.7 189.4,432.8 C190.7,432.9 192.1,432.9 193.4,432.9 C194.7,433.0 196.1,433.0 197.4,433.1 C198.7,433.2 200.1,433.3 201.4,433.4 C202.7,433.5 204.1,433.6 205.4,433.7 C206.7,433.8 208.1,433.9 209.4,434.0 C210.7,434.1 212.1,434.2 213.4,434.2 C214.7,434.3 216.1,434.4 217.4,434.5 C218.7,434.6 220.1,434.8 221.4,434.7 C222.7,434.6 224.1,434.5 225.4,434.2 C226.7,433.9 228.1,433.4 229.4,432.8 C230.7,432.2 232.1,431.6 233.4,430.8 C234.7,430.0 236.1,429.0 237.4,428.0 C238.7,427.0 240.1,425.7 241.4,424.9 C242.7,424.1 244.1,423.7 245.4,423.1 C246.7,422.6 248.1,422.0 249.4,421.7 C250.7,421.4 252.1,421.3 253.4,421.3 C254.7,421.2 256.1,421.4 257.4,421.5 C258.7,421.6 260.1,421.8 261.4,421.9 C262.7,422.0 264.1,422.1 265.4,422.2 C266.7,422.2 268.1,422.3 269.4,422.4 C270.7,422.5 272.1,422.7 273.4,422.8 C274.7,423.0 276.1,423.2 277.4,423.3 C278.7,423.5 280.1,423.7 281.4,423.9 C282.7,424.1 284.1,424.3 285.4,424.5 C286.7,424.7 288.1,424.9 289.4,425.0 C290.7,425.1 292.1,425.1 293.4,425.2 C294.7,425.2 296.1,425.2 297.4,425.1 C298.7,425.1 300.1,425.0 301.4,425.0 C302.7,424.9 304.1,424.9 305.4,424.9 C306.7,424.8 308.1,424.8 309.4,424.9 C310.7,424.9 312.1,425.1 313.4,425.2 C314.7,425.4 316.1,425.6 317.4,425.7 C318.7,425.8 320.1,425.9 321.4,426.1 C322.7,426.2 324.1,426.3 325.4,426.5 C326.7,426.7 328.1,426.9 329.4,427.1 C330.7,427.4 332.1,427.7 333.4,428.0 C334.7,428.2 336.1,428.4 337.4,428.7 C338.7,428.9 340.1,429.1 341.4,429.5 C342.7,429.8 344.1,430.3 345.4,430.6 C346.7,431.0 348.1,431.4 349.4,431.7 C350.7,432.1 352.1,432.4 353.4,432.6 C354.7,432.8 356.1,432.9 357.4,433.0 C358.7,433.0 360.5,432.9 361.4,432.8 C362.2,432.8 362.3,432.8 362.5,432.8" stroke="#1818ff" stroke-width="1.5" stroke-dasharray="3.2 2.8"/>
<path d="M49.4,443.2 C50.1,443.2 52.1,443.2 53.4,443.2 C54.7,443.2 56.1,443.3 57.4,443.4 C58.7,443.5 60.1,443.6 61.4,443.7 C62.7,443.8 64.1,443.9 65.4,443.9 C66.7,443.9 68.1,443.9 69.4,443.8 C70.7,443.8 72.1,443.7 73.4,443.6 C74.7,443.4 76.1,443.2 77.4,443.0 C78.7,442.8 80.1,442.5 81.4,442.3 C82.7,442.0 84.1,441.8 85.4,441.5 C86.7,441.1 88.1,440.8 89.4,440.4 C90.7,440.1 92.1,439.6 93.4,439.1 C94.7,438.6 96.1,438.0 97.4,437.4 C98.7,436.8 100.1,436.2 101.4,435.6 C102.7,435.0 104.1,434.4 105.4,433.9 C106.7,433.4 108.1,433.0 109.4,432.6 C110.7,432.1 112.1,431.6 113.4,431.2 C114.7,430.8 116.1,430.4 117.4,430.0 C118.7,429.7 120.1,429.3 121.4,429.1 C122.7,428.9 124.1,428.8 125.4,428.8 C126.7,428.8 128.1,428.8 129.4,429.0 C130.7,429.1 132.1,429.2 133.4,429.5 C134.7,429.7 136.1,430.0 137.4,430.4 C138.7,430.8 140.1,431.4 141.4,432.0 C142.7,432.5 144.1,433.1 145.4,433.6 C146.7,434.2 148.1,434.7 149.4,435.2 C150.7,435.7 152.1,436.3 153.4,436.6 C154.7,437.0 156.1,437.2 157.4,437.3 C158.7,437.5 160.1,437.4 161.4,437.5 C162.7,437.6 164.1,437.7 165.4,437.8 C166.7,438.0 168.1,438.2 169.4,438.3 C170.7,438.4 172.1,438.5 173.4,438.5 C174.7,438.6 176.1,438.6 177.4,438.6 C178.7,438.7 180.1,438.7 181.4,438.7 C182.7,438.7 184.1,438.7 185.4,438.7 C186.7,438.8 188.1,438.8 189.4,438.8 C190.7,438.8 192.1,438.9 193.4,438.9 C194.7,438.9 196.1,439.0 197.4,439.0 C198.7,439.1 200.1,439.1 201.4,439.2 C202.7,439.2 204.1,439.3 205.4,439.4 C206.7,439.4 208.1,439.4 209.4,439.5 C210.7,439.5 212.1,439.6 213.4,439.6 C214.7,439.7 216.1,439.8 217.4,439.8 C218.7,439.9 220.1,439.9 221.4,440.0 C222.7,440.1 224.1,440.3 225.4,440.5 C226.7,440.6 228.1,440.9 229.4,441.0 C230.7,441.0 232.1,441.0 233.4,440.7 C234.7,440.4 236.1,439.8 237.4,439.1 C238.7,438.5 240.1,437.4 241.4,436.6 C242.7,435.8 244.1,435.1 245.4,434.3 C246.7,433.6 248.1,432.7 249.4,432.1 C250.7,431.5 252.1,431.1 253.4,430.7 C254.7,430.4 256.1,430.3 257.4,430.2 C258.7,430.1 260.1,430.0 261.4,430.1 C262.7,430.1 264.1,430.3 265.4,430.5 C266.7,430.7 268.1,430.9 269.4,431.1 C270.7,431.3 272.1,431.6 273.4,431.7 C274.7,431.9 276.1,431.9 277.4,432.1 C278.7,432.2 280.1,432.3 281.4,432.5 C282.7,432.7 284.1,432.9 285.4,433.1 C286.7,433.3 288.1,433.5 289.4,433.7 C290.7,433.9 292.1,434.1 293.4,434.3 C294.7,434.5 296.1,434.7 297.4,434.8 C298.7,434.9 300.1,434.9 301.4,435.2 C302.7,435.4 304.1,435.9 305.4,436.3 C306.7,436.7 308.1,437.4 309.4,437.7 C310.7,438.1 312.1,438.4 313.4,438.6 C314.7,438.9 316.1,439.1 317.4,439.3 C318.7,439.4 320.1,439.9 321.4,439.8 C322.7,439.6 324.1,438.8 325.4,438.3 C326.7,437.7 328.1,436.7 329.4,436.5 C330.7,436.3 332.1,436.7 333.4,436.9 C334.7,437.2 336.1,437.7 337.4,438.1 C338.7,438.4 340.1,438.8 341.4,439.1 C342.7,439.4 344.1,439.6 345.4,440.0 C346.7,440.3 348.1,440.7 349.4,441.0 C350.7,441.3 352.1,441.7 353.4,442.0 C354.7,442.2 356.1,442.4 357.4,442.4 C358.7,442.5 360.5,442.4 361.4,442.4 C362.2,442.4 362.3,442.4 362.5,442.4" stroke="#1818ff" stroke-width="1.5" stroke-dasharray="3.2 2.8"/>
<path d="M49.4,441.9 C50.1,441.9 52.1,441.8 53.4,441.7 C54.7,441.6 56.1,441.6 57.4,441.5 C58.7,441.4 60.1,441.3 61.4,441.1 C62.7,441.0 64.1,440.8 65.4,440.6 C66.7,440.5 68.1,440.2 69.4,440.0 C70.7,439.8 72.1,439.5 73.4,439.3 C74.7,439.0 76.1,438.8 77.4,438.5 C78.7,438.3 80.1,438.0 81.4,437.7 C82.7,437.4 84.1,437.1 85.4,436.8 C86.7,436.5 88.1,436.1 89.4,435.7 C90.7,435.3 92.1,434.9 93.4,434.4 C94.7,433.8 96.1,433.2 97.4,432.6 C98.7,432.0 100.1,431.3 101.4,430.7 C102.7,430.1 104.1,429.4 105.4,428.9 C106.7,428.4 108.1,427.9 109.4,427.5 C110.7,427.0 112.1,426.6 113.4,426.2 C114.7,425.8 116.1,425.5 117.4,425.2 C118.7,425.0 120.1,424.8 121.4,424.8 C122.7,424.7 124.1,424.8 125.4,425.0 C126.7,425.1 128.1,425.5 129.4,425.8 C130.7,426.2 132.1,426.6 133.4,427.0 C134.7,427.3 136.1,427.7 137.4,428.0 C138.7,428.2 140.1,428.4 141.4,428.5 C142.7,428.7 144.1,428.6 145.4,428.8 C146.7,428.9 148.1,429.1 149.4,429.4 C150.7,429.8 152.1,430.4 153.4,430.9 C154.7,431.5 156.1,432.2 157.4,432.9 C158.7,433.6 160.1,434.5 161.4,435.3 C162.7,436.0 164.1,436.8 165.4,437.5 C166.7,438.2 168.1,438.9 169.4,439.4 C170.7,439.9 172.1,440.3 173.4,440.5 C174.7,440.8 176.1,440.9 177.4,440.9 C178.7,441.0 180.1,440.8 181.4,440.6 C182.7,440.5 184.1,440.2 185.4,440.0 C186.7,439.7 188.1,439.4 189.4,439.2 C190.7,438.9 192.1,438.7 193.4,438.5 C194.7,438.3 196.1,438.2 197.4,438.1 C198.7,438.0 200.1,438.1 201.4,438.1 C202.7,438.1 204.1,438.0 205.4,438.0 C206.7,437.9 208.1,437.7 209.4,437.6 C210.7,437.4 212.1,437.3 213.4,437.1 C214.7,436.9 216.1,436.7 217.4,436.5 C218.7,436.3 220.1,436.1 221.4,435.9 C222.7,435.7 224.1,435.5 225.4,435.3 C226.7,435.1 228.1,434.9 229.4,434.6 C230.7,434.3 232.1,434.1 233.4,433.7 C234.7,433.2 236.1,432.7 237.4,432.0 C238.7,431.4 240.1,430.4 241.4,429.8 C242.7,429.2 244.1,428.8 245.4,428.2 C246.7,427.7 248.1,427.1 249.4,426.8 C250.7,426.4 252.1,426.3 253.4,426.1 C254.7,426.0 256.1,426.1 257.4,426.1 C258.7,426.0 260.1,426.0 261.4,426.1 C262.7,426.1 264.1,426.2 265.4,426.2 C266.7,426.3 268.1,426.4 269.4,426.6 C270.7,426.7 272.1,426.8 273.4,427.0 C274.7,427.1 276.1,427.2 277.4,427.4 C278.7,427.5 280.1,427.7 281.4,427.9 C282.7,428.1 284.1,428.3 285.4,428.5 C286.7,428.7 288.1,428.8 289.4,429.0 C290.7,429.1 292.1,429.3 293.4,429.4 C294.7,429.5 296.1,429.6 297.4,429.7 C298.7,429.7 300.1,429.8 301.4,429.8 C302.7,429.8 304.1,429.8 305.4,429.8 C306.7,429.8 308.1,429.8 309.4,429.8 C310.7,429.8 312.1,429.8 313.4,429.8 C314.7,429.8 316.1,429.8 317.4,429.8 C318.7,429.9 320.1,429.9 321.4,430.1 C322.7,430.3 324.1,430.5 325.4,430.8 C326.7,431.1 328.1,431.5 329.4,432.0 C330.7,432.5 332.1,433.2 333.4,433.9 C334.7,434.6 336.1,435.5 337.4,436.3 C338.7,437.1 340.1,437.9 341.4,438.5 C342.7,439.1 344.1,439.5 345.4,439.9 C346.7,440.3 348.1,440.6 349.4,440.8 C350.7,441.0 352.1,441.2 353.4,441.3 C354.7,441.4 356.1,441.3 357.4,441.2 C358.7,441.1 360.5,440.9 361.4,440.9 C362.2,440.8 362.3,440.8 362.5,440.8" stroke="#1818ff" stroke-width="1.5" stroke-dasharray="3.2 2.8"/>
<path d="M49.4,438.9 C50.1,438.9 52.1,438.8 53.4,438.8 C54.7,438.7 56.1,438.7 57.4,438.7 C58.7,438.6 60.1,438.6 61.4,438.6 C62.7,438.5 64.1,438.4 65.4,438.4 C66.7,438.3 68.1,438.1 69.4,438.0 C70.7,437.9 72.1,437.7 73.4,437.6 C74.7,437.4 76.1,437.3 77.4,437.1 C78.7,436.9 80.1,436.7 81.4,436.5 C82.7,436.2 84.1,436.0 85.4,435.7 C86.7,435.4 88.1,435.1 89.4,434.7 C90.7,434.3 92.1,433.9 93.4,433.3 C94.7,432.8 96.1,432.2 97.4,431.5 C98.7,430.9 100.1,430.1 101.4,429.5 C102.7,428.8 104.1,428.1 105.4,427.6 C106.7,427.0 108.1,426.5 109.4,426.0 C110.7,425.5 112.1,425.1 113.4,424.7 C114.7,424.3 116.1,424.0 117.4,423.6 C118.7,423.3 120.1,422.9 121.4,422.7 C122.7,422.4 124.1,422.2 125.4,422.1 C126.7,422.1 128.1,422.2 129.4,422.3 C130.7,422.5 132.1,422.7 133.4,423.0 C134.7,423.3 136.1,423.7 137.4,424.1 C138.7,424.5 140.1,424.9 141.4,425.3 C142.7,425.7 144.1,426.0 145.4,426.3 C146.7,426.7 148.1,427.0 149.4,427.4 C150.7,427.8 152.1,428.3 153.4,428.8 C154.7,429.2 156.1,429.7 157.4,430.2 C158.7,430.7 160.1,431.3 161.4,431.8 C162.7,432.3 164.1,432.8 165.4,433.2 C166.7,433.6 168.1,433.9 169.4,434.2 C170.7,434.5 172.1,434.7 173.4,434.8 C174.7,434.9 176.1,434.9 177.4,434.9 C178.7,435.0 180.1,434.9 181.4,434.9 C182.7,434.8 184.1,434.8 185.4,434.8 C186.7,434.8 188.1,434.8 189.4,434.8 C190.7,434.8 192.1,434.9 193.4,434.9 C194.7,434.9 196.1,435.0 197.4,435.0 C198.7,435.0 200.1,435.1 201.4,435.1 C202.7,435.1 204.1,435.2 205.4,435.2 C206.7,435.2 208.1,435.3 209.4,435.3 C210.7,435.3 212.1,435.3 213.4,435.4 C214.7,435.4 216.1,435.5 217.4,435.6 C218.7,435.6 220.1,435.7 221.4,435.7 C222.7,435.7 224.1,435.8 225.4,435.8 C226.7,435.8 228.1,435.8 229.4,435.7 C230.7,435.6 232.1,435.6 233.4,435.3 C234.7,435.0 236.1,434.6 237.4,434.0 C238.7,433.4 240.1,432.5 241.4,431.8 C242.7,431.0 244.1,430.3 245.4,429.5 C246.7,428.7 248.1,427.7 249.4,426.9 C250.7,426.2 252.1,425.6 253.4,425.2 C254.7,424.7 256.1,424.4 257.4,424.2 C258.7,424.1 260.1,424.1 261.4,424.1 C262.7,424.1 264.1,424.2 265.4,424.2 C266.7,424.3 268.1,424.4 269.4,424.6 C270.7,424.7 272.1,424.8 273.4,425.0 C274.7,425.1 276.1,425.2 277.4,425.4 C278.7,425.5 280.1,425.7 281.4,425.9 C282.7,426.1 284.1,426.3 285.4,426.5 C286.7,426.7 288.1,426.8 289.4,427.0 C290.7,427.2 292.1,427.3 293.4,427.4 C294.7,427.6 296.1,427.7 297.4,427.8 C298.7,427.9 300.1,428.0 301.4,428.1 C302.7,428.2 304.1,428.2 305.4,428.3 C306.7,428.4 308.1,428.4 309.4,428.5 C310.7,428.5 312.1,428.6 313.4,428.6 C314.7,428.7 316.1,428.8 317.4,428.8 C318.7,428.9 320.1,429.0 321.4,429.1 C322.7,429.1 324.1,429.1 325.4,429.2 C326.7,429.3 328.1,429.3 329.4,429.4 C330.7,429.6 332.1,429.8 333.4,430.1 C334.7,430.5 336.1,431.0 337.4,431.4 C338.7,431.8 340.1,432.3 341.4,432.8 C342.7,433.2 344.1,433.5 345.4,433.9 C346.7,434.3 348.1,434.7 349.4,435.1 C350.7,435.5 352.1,435.9 353.4,436.2 C354.7,436.5 356.1,436.7 357.4,436.8 C358.7,436.9 360.5,436.8 361.4,436.8 C362.2,436.8 362.3,436.8 362.5,436.8" stroke="#1818ff" stroke-width="1.5" stroke-dasharray="3.2 2.8"/>
<path d="M49.4,436.0 C56.0,435.8 78.9,435.4 89.2,434.9 C99.5,434.4 103.9,433.6 111.3,433.2 C118.7,432.8 127.9,432.8 133.4,432.7 C138.9,432.6 140.8,432.5 144.5,432.7 C148.2,432.9 150.0,433.4 155.5,433.6 C161.0,433.8 168.5,433.9 177.6,433.8 C186.7,433.7 200.9,433.5 210.0,433.2 C219.1,432.9 224.7,432.4 232.1,432.0 C239.5,431.6 246.8,430.6 254.2,430.5 C261.6,430.4 268.9,431.1 276.3,431.4 C283.7,431.7 291.0,432.0 298.4,432.3 C305.8,432.6 313.1,432.8 320.5,433.2 C327.9,433.6 335.6,434.5 342.6,434.9 C349.6,435.3 359.2,435.6 362.5,435.8" stroke="#ff1010" stroke-width="2.4"/>
<path d="M49.4,440.9 C52.3,440.7 60.5,440.6 67.1,439.8 C73.7,439.0 82.6,437.7 89.2,435.8 C95.8,433.9 101.4,430.5 106.9,428.7 C112.4,426.9 118.0,425.2 122.4,424.8 C126.8,424.4 129.7,425.2 133.4,426.0 C137.1,426.8 140.8,428.6 144.5,429.8 C148.2,431.0 151.4,432.2 155.5,433.2 C159.6,434.2 163.3,435.4 168.8,435.8 C174.3,436.2 181.8,435.7 188.7,435.8 C195.6,435.9 202.8,436.2 210.0,436.3 C217.2,436.4 226.6,437.2 232.1,436.5 C237.6,435.8 239.5,433.4 243.2,432.0 C246.9,430.6 248.7,428.9 254.2,428.3 C259.7,427.8 268.9,428.3 276.3,428.7 C283.7,429.1 291.0,430.3 298.4,430.9 C305.8,431.4 315.0,431.6 320.5,432.0 C326.0,432.4 327.9,432.3 331.6,433.2 C335.3,434.1 338.9,436.0 342.6,437.1 C346.3,438.2 350.4,439.4 353.7,439.8 C357.0,440.2 361.0,439.8 362.5,439.8" stroke="#1818ff" stroke-width="2.4"/>
</g>
<path d="M45.60,341.00 H379.00" stroke="#6e6e6e" stroke-width="1.4" fill="none"/>
<path d="M379.00,341.00 V547.30" stroke="#707070" stroke-width="1.4" fill="none"/>
<path d="M45.60,547.30 H379.70" stroke="#555" stroke-width="1.4" fill="none"/>
<path d="M45.60,340.30 V548.00" stroke="#2a2a2a" stroke-width="1.4" fill="none"/>
<g font-family="Liberation Serif, serif" font-size="12" fill="#606060">
<text transform="translate(43.00,551.65) scale(1,1.07)" text-anchor="end">−20</text>
<text transform="translate(43.00,500.07) scale(1,1.07)" text-anchor="end">−10</text>
<text transform="translate(43.00,448.50) scale(1,1.07)" text-anchor="end">0</text>
<text transform="translate(43.00,396.93) scale(1,1.07)" text-anchor="end">10</text>
<text transform="translate(43.00,345.35) scale(1,1.07)" text-anchor="end">20</text>
<text transform="translate(45.60,560.60) scale(1,1.07)" text-anchor="middle">0.0</text>
<text transform="translate(109.10,560.60) scale(1,1.07)" text-anchor="middle">0.2</text>
<text transform="translate(172.61,560.60) scale(1,1.07)" text-anchor="middle">0.4</text>
<text transform="translate(236.11,560.60) scale(1,1.07)" text-anchor="middle">0.6</text>
<text transform="translate(299.62,560.60) scale(1,1.07)" text-anchor="middle">0.8</text>
<text transform="translate(363.12,560.60) scale(1,1.07)" text-anchor="middle">1.0</text>
<text x="212.30" y="576.90" text-anchor="middle">% cycle</text>
<text transform="translate(17.20,444.15) rotate(-90)" text-anchor="middle">Knee Rotations (deg)</text>
</g>
<text x="212.30" y="331.60" text-anchor="middle" font-family="Liberation Serif, serif" font-weight="bold" font-size="12.5" fill="#585858">Abduction(+)/Adduction(−)</text>
</g>
<g>
<defs><clipPath id="c3"><rect x="417.40" y="338.70" width="341.80" height="211.40"/></clipPath></defs>
<g clip-path="url(#c3)" fill="none" stroke-linejoin="round" stroke-linecap="butt">
<path d="M421.8,443.7 C422.5,443.8 424.5,444.0 425.8,444.2 C427.1,444.5 428.5,444.9 429.8,445.3 C431.1,445.6 432.5,446.1 433.8,446.4 C435.1,446.7 436.5,447.1 437.8,447.2 C439.1,447.3 440.5,447.1 441.8,446.9 C443.1,446.8 444.5,446.6 445.8,446.5 C447.1,446.4 448.5,446.7 449.8,446.6 C451.1,446.5 452.5,446.2 453.8,445.9 C455.1,445.6 456.5,445.3 457.8,445.1 C459.1,444.9 460.5,444.8 461.8,444.8 C463.1,444.8 464.5,445.0 465.8,445.0 C467.1,445.1 468.5,445.1 469.8,445.1 C471.1,445.1 472.5,445.1 473.8,445.1 C475.1,445.1 476.5,445.0 477.8,445.2 C479.1,445.3 480.5,445.6 481.8,445.9 C483.1,446.2 484.5,446.6 485.8,446.9 C487.1,447.1 488.5,447.0 489.8,447.4 C491.1,447.7 492.5,448.2 493.8,449.0 C495.1,449.7 496.5,451.1 497.8,451.7 C499.1,452.2 500.5,452.2 501.8,452.3 C503.1,452.4 504.5,452.5 505.8,452.3 C507.1,452.1 508.5,451.4 509.8,450.9 C511.1,450.3 512.5,449.1 513.8,448.8 C515.1,448.4 516.5,448.7 517.8,448.7 C519.1,448.7 520.5,448.8 521.8,448.7 C523.1,448.7 524.5,448.6 525.8,448.5 C527.1,448.4 528.5,448.3 529.8,448.1 C531.1,447.9 532.5,447.7 533.8,447.5 C535.1,447.3 536.5,447.0 537.8,446.8 C539.1,446.6 540.5,446.3 541.8,446.1 C543.1,445.9 544.5,445.6 545.8,445.4 C547.1,445.1 548.5,444.9 549.8,444.6 C551.1,444.4 552.5,444.2 553.8,444.0 C555.1,443.8 556.5,443.5 557.8,443.3 C559.1,443.1 560.5,442.9 561.8,442.7 C563.1,442.5 564.5,442.3 565.8,442.2 C567.1,442.0 568.5,441.8 569.8,441.6 C571.1,441.5 572.5,441.3 573.8,441.2 C575.1,441.0 576.5,440.9 577.8,440.7 C579.1,440.5 580.5,440.2 581.8,440.0 C583.1,439.7 584.5,439.4 585.8,439.1 C587.1,438.8 588.5,438.5 589.8,438.3 C591.1,438.0 592.5,437.7 593.8,437.4 C595.1,437.1 596.5,436.9 597.8,436.6 C599.1,436.4 600.5,436.2 601.8,436.0 C603.1,435.9 604.5,435.7 605.8,435.7 C607.1,435.6 608.5,435.6 609.8,435.6 C611.1,435.6 612.5,435.7 613.8,435.8 C615.1,435.9 616.5,436.0 617.8,436.1 C619.1,436.3 620.5,436.4 621.8,436.6 C623.1,436.7 624.5,436.9 625.8,437.1 C627.1,437.3 628.5,437.6 629.8,437.8 C631.1,438.0 632.5,438.2 633.8,438.4 C635.1,438.7 636.5,438.9 637.8,439.2 C639.1,439.4 640.5,439.6 641.8,439.8 C643.1,440.0 644.5,440.3 645.8,440.4 C647.1,440.6 648.5,440.7 649.8,440.9 C651.1,441.0 652.5,441.1 653.8,441.2 C655.1,441.3 656.5,441.4 657.8,441.5 C659.1,441.6 660.5,441.7 661.8,441.8 C663.1,441.9 664.5,442.0 665.8,442.1 C667.1,442.2 668.5,442.3 669.8,442.4 C671.1,442.5 672.5,442.6 673.8,442.7 C675.1,442.8 676.5,442.9 677.8,443.0 C679.1,443.1 680.5,443.2 681.8,443.2 C683.1,443.3 684.5,443.3 685.8,443.4 C687.1,443.5 688.5,443.5 689.8,443.5 C691.1,443.6 692.5,443.6 693.8,443.7 C695.1,443.7 696.5,443.7 697.8,443.8 C699.1,443.8 700.5,443.8 701.8,443.9 C703.1,444.0 704.5,444.0 705.8,444.1 C707.1,444.2 708.5,444.3 709.8,444.4 C711.1,444.4 712.5,444.5 713.8,444.6 C715.1,444.7 716.5,444.7 717.8,444.8 C719.1,444.8 720.5,444.9 721.8,444.9 C723.1,444.9 724.5,444.9 725.8,444.9 C727.1,444.9 728.5,444.9 729.8,444.8 C731.1,444.8 732.5,444.7 733.8,444.7 C735.1,444.7 736.5,444.6 737.8,444.5 C739.1,444.5 741.1,444.4 741.8,444.4 C742.5,444.4 742.0,444.4 742.0,444.4" stroke="#ff1010" stroke-width="1.5" stroke-dasharray="3.2 2.8"/>
<path d="M421.8,442.7 C422.5,442.7 424.5,442.6 425.8,442.5 C427.1,442.4 428.5,442.3 429.8,442.3 C431.1,442.2 432.5,442.1 433.8,442.1 C435.1,442.1 436.5,442.1 437.8,442.2 C439.1,442.3 440.5,442.5 441.8,442.6 C443.1,442.8 444.5,443.1 445.8,443.4 C447.1,443.7 448.5,444.0 449.8,444.3 C451.1,444.6 452.5,445.0 453.8,445.3 C455.1,445.6 456.5,445.9 457.8,446.2 C459.1,446.5 460.5,446.7 461.8,446.9 C463.1,447.2 464.5,447.4 465.8,447.5 C467.1,447.7 468.5,447.8 469.8,447.8 C471.1,447.9 472.5,447.9 473.8,447.9 C475.1,447.9 476.5,447.9 477.8,447.8 C479.1,447.8 480.5,447.7 481.8,447.6 C483.1,447.5 484.5,447.4 485.8,447.3 C487.1,447.2 488.5,447.0 489.8,446.9 C491.1,446.8 492.5,446.7 493.8,446.6 C495.1,446.5 496.5,446.4 497.8,446.3 C499.1,446.3 500.5,446.3 501.8,446.3 C503.1,446.3 504.5,446.4 505.8,446.5 C507.1,446.6 508.5,446.7 509.8,446.9 C511.1,447.1 512.5,447.3 513.8,447.5 C515.1,447.6 516.5,447.9 517.8,448.0 C519.1,448.2 520.5,448.4 521.8,448.5 C523.1,448.7 524.5,448.8 525.8,448.8 C527.1,448.8 528.5,448.8 529.8,448.7 C531.1,448.7 532.5,448.5 533.8,448.3 C535.1,448.2 536.5,448.0 537.8,447.8 C539.1,447.6 540.5,447.3 541.8,447.1 C543.1,446.9 544.5,446.7 545.8,446.4 C547.1,446.2 548.5,446.0 549.8,445.8 C551.1,445.6 552.5,445.5 553.8,445.3 C555.1,445.2 556.5,445.0 557.8,444.9 C559.1,444.7 560.5,444.6 561.8,444.4 C563.1,444.3 564.5,444.1 565.8,444.0 C567.1,443.8 568.5,443.7 569.8,443.6 C571.1,443.4 572.5,443.3 573.8,443.2 C575.1,443.0 576.5,442.9 577.8,442.7 C579.1,442.6 580.5,442.5 581.8,442.4 C583.1,442.2 584.5,442.1 585.8,442.0 C587.1,441.8 588.5,441.7 589.8,441.5 C591.1,441.4 592.5,441.2 593.8,440.9 C595.1,440.7 596.5,440.5 597.8,440.2 C599.1,440.0 600.5,439.8 601.8,439.6 C603.1,439.5 604.5,439.4 605.8,439.3 C607.1,439.2 608.5,439.2 609.8,439.3 C611.1,439.3 612.5,439.4 613.8,439.5 C615.1,439.6 616.5,439.8 617.8,439.9 C619.1,440.1 620.5,440.2 621.8,440.4 C623.1,440.6 624.5,440.7 625.8,440.9 C627.1,441.1 628.5,441.2 629.8,441.4 C631.1,441.5 632.5,441.6 633.8,441.8 C635.1,441.9 636.5,442.1 637.8,442.2 C639.1,442.3 640.5,442.5 641.8,442.6 C643.1,442.7 644.5,442.8 645.8,442.9 C647.1,443.0 648.5,443.1 649.8,443.1 C651.1,443.1 652.5,443.2 653.8,443.2 C655.1,443.2 656.5,443.1 657.8,443.1 C659.1,443.1 660.5,443.0 661.8,443.0 C663.1,442.9 664.5,442.9 665.8,442.8 C667.1,442.7 668.5,442.7 669.8,442.6 C671.1,442.5 672.5,442.4 673.8,442.4 C675.1,442.3 676.5,442.3 677.8,442.2 C679.1,442.1 680.5,442.1 681.8,442.0 C683.1,441.9 684.5,441.9 685.8,441.8 C687.1,441.8 688.5,441.8 689.8,441.8 C691.1,441.7 692.5,441.7 693.8,441.7 C695.1,441.7 696.5,441.8 697.8,441.8 C699.1,441.8 700.5,441.8 701.8,441.9 C703.1,442.0 704.5,442.0 705.8,442.1 C707.1,442.2 708.5,442.3 709.8,442.4 C711.1,442.4 712.5,442.5 713.8,442.6 C715.1,442.7 716.5,442.7 717.8,442.8 C719.1,442.8 720.5,442.9 721.8,442.9 C723.1,442.9 724.5,442.9 725.8,442.9 C727.1,442.9 728.5,442.9 729.8,442.8 C731.1,442.8 732.5,442.7 733.8,442.7 C735.1,442.7 736.5,442.6 737.8,442.5 C739.1,442.5 741.1,442.4 741.8,442.4 C742.5,442.4 742.0,442.4 742.0,442.4" stroke="#ff1010" stroke-width="1.5" stroke-dasharray="3.2 2.8"/>
<path d="M421.8,444.2 C422.5,444.2 424.5,444.1 425.8,444.0 C427.1,443.9 428.5,443.8 429.8,443.8 C431.1,443.7 432.5,443.6 433.8,443.6 C435.1,443.6 436.5,443.5 437.8,443.6 C439.1,443.6 440.5,443.7 441.8,443.8 C443.1,443.9 444.5,444.1 445.8,444.2 C447.1,444.4 448.5,444.6 449.8,444.8 C451.1,445.0 452.5,445.2 453.8,445.4 C455.1,445.7 456.5,445.9 457.8,446.1 C459.1,446.3 460.5,446.5 461.8,446.7 C463.1,446.8 464.5,447.0 465.8,447.1 C467.1,447.3 468.5,447.4 469.8,447.6 C471.1,447.7 472.5,447.8 473.8,447.9 C475.1,448.0 476.5,448.1 477.8,448.1 C479.1,448.2 480.5,448.2 481.8,448.2 C483.1,448.3 484.5,448.2 485.8,448.2 C487.1,448.2 488.5,448.1 489.8,448.0 C491.1,447.9 492.5,447.8 493.8,447.7 C495.1,447.5 496.5,447.4 497.8,447.3 C499.1,447.1 500.5,447.0 501.8,446.9 C503.1,446.7 504.5,446.6 505.8,446.5 C507.1,446.4 508.5,446.3 509.8,446.3 C511.1,446.3 512.5,446.2 513.8,446.2 C515.1,446.2 516.5,446.3 517.8,446.3 C519.1,446.3 520.5,446.4 521.8,446.4 C523.1,446.4 524.5,446.5 525.8,446.4 C527.1,446.4 528.5,446.4 529.8,446.3 C531.1,446.2 532.5,446.1 533.8,446.0 C535.1,445.8 536.5,445.7 537.8,445.5 C539.1,445.3 540.5,445.1 541.8,444.9 C543.1,444.7 544.5,444.5 545.8,444.3 C547.1,444.1 548.5,443.9 549.8,443.7 C551.1,443.6 552.5,443.4 553.8,443.3 C555.1,443.1 556.5,443.0 557.8,442.9 C559.1,442.7 560.5,442.6 561.8,442.4 C563.1,442.3 564.5,442.2 565.8,442.0 C567.1,441.9 568.5,441.8 569.8,441.7 C571.1,441.6 572.5,441.5 573.8,441.4 C575.1,441.3 576.5,441.2 577.8,441.2 C579.1,441.1 580.5,441.0 581.8,440.9 C583.1,440.8 584.5,440.8 585.8,440.7 C587.1,440.6 588.5,440.5 589.8,440.4 C591.1,440.2 592.5,440.1 593.8,439.9 C595.1,439.7 596.5,439.4 597.8,439.2 C599.1,439.0 600.5,438.8 601.8,438.6 C603.1,438.5 604.5,438.3 605.8,438.3 C607.1,438.2 608.5,438.2 609.8,438.2 C611.1,438.2 612.5,438.3 613.8,438.4 C615.1,438.5 616.5,438.6 617.8,438.7 C619.1,438.8 620.5,439.0 621.8,439.1 C623.1,439.3 624.5,439.4 625.8,439.5 C627.1,439.7 628.5,439.8 629.8,439.9 C631.1,440.1 632.5,440.2 633.8,440.3 C635.1,440.4 636.5,440.6 637.8,440.7 C639.1,440.8 640.5,441.0 641.8,441.1 C643.1,441.2 644.5,441.4 645.8,441.5 C647.1,441.6 648.5,441.7 649.8,441.9 C651.1,442.0 652.5,442.0 653.8,442.1 C655.1,442.2 656.5,442.2 657.8,442.3 C659.1,442.3 660.5,442.3 661.8,442.4 C663.1,442.4 664.5,442.4 665.8,442.4 C667.1,442.4 668.5,442.4 669.8,442.4 C671.1,442.3 672.5,442.3 673.8,442.3 C675.1,442.3 676.5,442.3 677.8,442.2 C679.1,442.2 680.5,442.2 681.8,442.1 C683.1,442.1 684.5,442.0 685.8,442.0 C687.1,441.9 688.5,441.9 689.8,441.9 C691.1,441.8 692.5,441.8 693.8,441.8 C695.1,441.8 696.5,441.8 697.8,441.8 C699.1,441.8 700.5,441.8 701.8,441.9 C703.1,442.0 704.5,442.1 705.8,442.2 C707.1,442.3 708.5,442.4 709.8,442.5 C711.1,442.6 712.5,442.7 713.8,442.8 C715.1,443.0 716.5,443.1 717.8,443.2 C719.1,443.3 720.5,443.4 721.8,443.4 C723.1,443.5 724.5,443.5 725.8,443.6 C727.1,443.6 728.5,443.6 729.8,443.6 C731.1,443.6 732.5,443.6 733.8,443.6 C735.1,443.6 736.5,443.6 737.8,443.5 C739.1,443.5 741.1,443.4 741.8,443.4 C742.5,443.4 742.0,443.4 742.0,443.4" stroke="#ff1010" stroke-width="1.5" stroke-dasharray="3.2 2.8"/>
<path d="M421.8,465.5 C422.5,465.5 424.5,465.4 425.8,465.4 C427.1,465.3 428.5,465.3 429.8,465.2 C431.1,465.2 432.5,465.1 433.8,465.0 C435.1,464.9 436.5,464.8 437.8,464.6 C439.1,464.4 440.5,464.2 441.8,464.0 C443.1,463.7 444.5,463.6 445.8,463.1 C447.1,462.6 448.5,462.0 449.8,461.2 C451.1,460.5 452.5,459.5 453.8,458.5 C455.1,457.6 456.5,456.5 457.8,455.6 C459.1,454.8 460.5,454.1 461.8,453.5 C463.1,452.8 464.5,452.4 465.8,451.8 C467.1,451.3 468.5,450.7 469.8,450.2 C471.1,449.7 472.5,449.3 473.8,448.8 C475.1,448.4 476.5,447.9 477.8,447.6 C479.1,447.2 480.5,447.0 481.8,446.9 C483.1,446.8 484.5,446.9 485.8,446.9 C487.1,446.9 488.5,447.0 489.8,447.0 C491.1,447.0 492.5,446.9 493.8,446.9 C495.1,446.8 496.5,446.8 497.8,446.8 C499.1,446.9 500.5,447.1 501.8,447.2 C503.1,447.4 504.5,447.7 505.8,447.9 C507.1,448.1 508.5,448.3 509.8,448.5 C511.1,448.7 512.5,448.8 513.8,449.0 C515.1,449.1 516.5,449.3 517.8,449.5 C519.1,449.7 520.5,449.8 521.8,450.0 C523.1,450.2 524.5,450.4 525.8,450.5 C527.1,450.7 528.5,450.9 529.8,451.0 C531.1,451.2 532.5,451.3 533.8,451.5 C535.1,451.6 536.5,451.8 537.8,451.9 C539.1,452.0 540.5,452.0 541.8,452.0 C543.1,452.0 544.5,452.0 545.8,451.9 C547.1,451.8 548.5,451.7 549.8,451.6 C551.1,451.5 552.5,451.4 553.8,451.3 C555.1,451.2 556.5,451.1 557.8,451.0 C559.1,450.8 560.5,450.7 561.8,450.6 C563.1,450.4 564.5,450.3 565.8,450.2 C567.1,450.0 568.5,449.9 569.8,449.7 C571.1,449.6 572.5,449.5 573.8,449.4 C575.1,449.3 576.5,449.3 577.8,449.3 C579.1,449.3 580.5,449.3 581.8,449.4 C583.1,449.4 584.5,449.6 585.8,449.6 C587.1,449.7 588.5,449.7 589.8,449.8 C591.1,449.8 592.5,449.8 593.8,449.8 C595.1,449.9 596.5,449.9 597.8,449.9 C599.1,449.9 600.5,450.0 601.8,450.0 C603.1,450.0 604.5,450.0 605.8,450.0 C607.1,450.0 608.5,450.0 609.8,450.0 C611.1,449.9 612.5,449.8 613.8,449.8 C615.1,449.7 616.5,449.6 617.8,449.5 C619.1,449.4 620.5,449.3 621.8,449.2 C623.1,449.2 624.5,449.1 625.8,449.0 C627.1,449.0 628.5,448.9 629.8,448.9 C631.1,448.9 632.5,448.9 633.8,449.1 C635.1,449.2 636.5,449.5 637.8,449.8 C639.1,450.1 640.5,450.5 641.8,451.0 C643.1,451.4 644.5,451.9 645.8,452.4 C647.1,452.9 648.5,453.6 649.8,454.1 C651.1,454.5 652.5,455.0 653.8,455.3 C655.1,455.7 656.5,456.1 657.8,456.4 C659.1,456.7 660.5,457.0 661.8,457.3 C663.1,457.5 664.5,457.8 665.8,458.1 C667.1,458.3 668.5,458.6 669.8,458.9 C671.1,459.1 672.5,459.4 673.8,459.6 C675.1,459.8 676.5,460.1 677.8,460.3 C679.1,460.6 680.5,460.8 681.8,461.0 C683.1,461.2 684.5,461.5 685.8,461.7 C687.1,461.9 688.5,462.1 689.8,462.3 C691.1,462.5 692.5,462.7 693.8,462.9 C695.1,463.0 696.5,463.2 697.8,463.3 C699.1,463.4 700.5,463.5 701.8,463.6 C703.1,463.7 704.5,463.7 705.8,463.8 C707.1,463.8 708.5,463.8 709.8,463.9 C711.1,463.9 712.5,463.9 713.8,463.9 C715.1,463.9 716.5,463.9 717.8,464.0 C719.1,464.0 720.5,464.0 721.8,464.1 C723.1,464.2 724.5,464.3 725.8,464.4 C727.1,464.5 728.5,464.6 729.8,464.7 C731.1,464.8 732.5,464.9 733.8,465.0 C735.1,465.1 736.5,465.2 737.8,465.3 C739.1,465.5 741.1,465.6 741.8,465.7 C742.5,465.7 742.0,465.7 742.0,465.7" stroke="#1818ff" stroke-width="1.5" stroke-dasharray="3.2 2.8"/>
<path d="M421.8,466.5 C422.5,466.5 424.5,466.5 425.8,466.5 C427.1,466.5 428.5,466.5 429.8,466.5 C431.1,466.5 432.5,466.6 433.8,466.5 C435.1,466.5 436.5,466.5 437.8,466.4 C439.1,466.3 440.5,466.2 441.8,465.9 C443.1,465.7 444.5,465.4 445.8,465.1 C447.1,464.9 448.5,464.7 449.8,464.4 C451.1,464.2 452.5,464.0 453.8,463.7 C455.1,463.4 456.5,463.1 457.8,462.7 C459.1,462.3 460.5,461.8 461.8,461.4 C463.1,461.0 464.5,460.5 465.8,460.2 C467.1,459.9 468.5,459.8 469.8,459.7 C471.1,459.5 472.5,459.5 473.8,459.3 C475.1,459.1 476.5,458.7 477.8,458.5 C479.1,458.2 480.5,458.0 481.8,457.8 C483.1,457.6 484.5,457.5 485.8,457.2 C487.1,456.8 488.5,456.1 489.8,455.6 C491.1,455.2 492.5,455.1 493.8,454.6 C495.1,454.0 496.5,452.8 497.8,452.2 C499.1,451.7 500.5,451.3 501.8,451.1 C503.1,451.0 504.5,451.2 505.8,451.2 C507.1,451.2 508.5,451.2 509.8,451.2 C511.1,451.2 512.5,451.2 513.8,451.3 C515.1,451.3 516.5,451.4 517.8,451.5 C519.1,451.7 520.5,451.8 521.8,452.0 C523.1,452.2 524.5,452.4 525.8,452.5 C527.1,452.7 528.5,452.9 529.8,453.0 C531.1,453.2 532.5,453.3 533.8,453.5 C535.1,453.6 536.5,453.8 537.8,453.9 C539.1,454.0 540.5,454.0 541.8,454.0 C543.1,454.0 544.5,454.0 545.8,453.9 C547.1,453.8 548.5,453.7 549.8,453.6 C551.1,453.5 552.5,453.4 553.8,453.3 C555.1,453.2 556.5,453.1 557.8,453.0 C559.1,452.8 560.5,452.7 561.8,452.6 C563.1,452.5 564.5,452.3 565.8,452.2 C567.1,452.1 568.5,452.0 569.8,451.9 C571.1,451.8 572.5,451.7 573.8,451.7 C575.1,451.7 576.5,451.7 577.8,451.7 C579.1,451.8 580.5,451.9 581.8,452.0 C583.1,452.1 584.5,452.3 585.8,452.5 C587.1,452.6 588.5,452.7 589.8,452.8 C591.1,452.9 592.5,452.9 593.8,453.0 C595.1,453.1 596.5,453.2 597.8,453.3 C599.1,453.3 600.5,453.4 601.8,453.4 C603.1,453.5 604.5,453.5 605.8,453.5 C607.1,453.5 608.5,453.5 609.8,453.5 C611.1,453.4 612.5,453.3 613.8,453.3 C615.1,453.2 616.5,453.1 617.8,453.0 C619.1,452.9 620.5,452.8 621.8,452.7 C623.1,452.7 624.5,452.6 625.8,452.5 C627.1,452.5 628.5,452.3 629.8,452.4 C631.1,452.5 632.5,452.6 633.8,453.1 C635.1,453.5 636.5,454.2 637.8,455.0 C639.1,455.7 640.5,456.6 641.8,457.4 C643.1,458.2 644.5,459.1 645.8,459.8 C647.1,460.5 648.5,461.0 649.8,461.5 C651.1,461.9 652.5,462.2 653.8,462.5 C655.1,462.8 656.5,463.1 657.8,463.4 C659.1,463.7 660.5,464.0 661.8,464.1 C663.1,464.2 664.5,464.0 665.8,463.9 C667.1,463.7 668.5,463.4 669.8,463.2 C671.1,463.0 672.5,462.8 673.8,462.8 C675.1,462.8 676.5,463.1 677.8,463.3 C679.1,463.5 680.5,463.8 681.8,464.0 C683.1,464.2 684.5,464.5 685.8,464.7 C687.1,464.9 688.5,465.1 689.8,465.3 C691.1,465.5 692.5,465.7 693.8,465.9 C695.1,466.0 696.5,466.2 697.8,466.3 C699.1,466.4 700.5,466.5 701.8,466.6 C703.1,466.8 704.5,466.9 705.8,467.1 C707.1,467.2 708.5,467.4 709.8,467.5 C711.1,467.7 712.5,467.8 713.8,468.0 C715.1,468.1 716.5,468.3 717.8,468.4 C719.1,468.5 720.5,468.5 721.8,468.6 C723.1,468.7 724.5,468.7 725.8,468.8 C727.1,468.9 728.5,468.9 729.8,469.0 C731.1,469.0 732.5,469.1 733.8,469.2 C735.1,469.2 736.5,469.3 737.8,469.4 C739.1,469.5 741.1,469.6 741.8,469.7 C742.5,469.7 742.0,469.7 742.0,469.7" stroke="#1818ff" stroke-width="1.5" stroke-dasharray="3.2 2.8"/>
<path d="M421.8,466.0 C422.5,466.0 424.5,466.0 425.8,466.0 C427.1,466.0 428.5,466.1 429.8,466.1 C431.1,466.1 432.5,466.1 433.8,466.1 C435.1,466.1 436.5,466.2 437.8,466.1 C439.1,466.0 440.5,465.9 441.8,465.8 C443.1,465.6 444.5,465.4 445.8,465.2 C447.1,464.9 448.5,464.6 449.8,464.2 C451.1,463.9 452.5,463.4 453.8,462.9 C455.1,462.4 456.5,461.8 457.8,461.3 C459.1,460.8 460.5,460.2 461.8,459.7 C463.1,459.1 464.5,458.5 465.8,458.0 C467.1,457.4 468.5,456.8 469.8,456.3 C471.1,455.8 472.5,455.3 473.8,454.8 C475.1,454.3 476.5,453.9 477.8,453.4 C479.1,453.0 480.5,452.6 481.8,452.3 C483.1,451.9 484.5,451.6 485.8,451.3 C487.1,451.1 488.5,450.9 489.8,450.7 C491.1,450.5 492.5,450.3 493.8,450.2 C495.1,450.1 496.5,450.0 497.8,449.9 C499.1,449.8 500.5,449.8 501.8,449.8 C503.1,449.8 504.5,449.9 505.8,450.0 C507.1,450.0 508.5,450.1 509.8,450.2 C511.1,450.3 512.5,450.3 513.8,450.4 C515.1,450.5 516.5,450.6 517.8,450.6 C519.1,450.7 520.5,450.8 521.8,450.9 C523.1,451.0 524.5,451.0 525.8,451.1 C527.1,451.2 528.5,451.3 529.8,451.3 C531.1,451.4 532.5,451.5 533.8,451.6 C535.1,451.7 536.5,451.8 537.8,451.9 C539.1,452.0 540.5,452.0 541.8,452.0 C543.1,452.0 544.5,452.0 545.8,451.9 C547.1,451.9 548.5,451.8 549.8,451.7 C551.1,451.7 552.5,451.6 553.8,451.5 C555.1,451.4 556.5,451.4 557.8,451.3 C559.1,451.2 560.5,451.1 561.8,451.0 C563.1,450.9 564.5,450.9 565.8,450.8 C567.1,450.7 568.5,450.7 569.8,450.7 C571.1,450.6 572.5,450.6 573.8,450.6 C575.1,450.6 576.5,450.7 577.8,450.8 C579.1,450.9 580.5,451.0 581.8,451.2 C583.1,451.4 584.5,451.6 585.8,451.7 C587.1,451.9 588.5,452.1 589.8,452.2 C591.1,452.3 592.5,452.4 593.8,452.5 C595.1,452.6 596.5,452.7 597.8,452.7 C599.1,452.8 600.5,452.9 601.8,452.9 C603.1,452.9 604.5,453.0 605.8,452.9 C607.1,452.9 608.5,452.8 609.8,452.7 C611.1,452.6 612.5,452.5 613.8,452.4 C615.1,452.2 616.5,452.0 617.8,451.9 C619.1,451.7 620.5,451.6 621.8,451.4 C623.1,451.2 624.5,451.1 625.8,450.9 C627.1,450.8 628.5,450.7 629.8,450.6 C631.1,450.6 632.5,450.6 633.8,450.6 C635.1,450.7 636.5,450.9 637.8,451.1 C639.1,451.3 640.5,451.6 641.8,452.0 C643.1,452.3 644.5,452.7 645.8,453.1 C647.1,453.5 648.5,454.1 649.8,454.5 C651.1,454.9 652.5,455.2 653.8,455.5 C655.1,455.8 656.5,456.1 657.8,456.4 C659.1,456.7 660.5,457.0 661.8,457.3 C663.1,457.5 664.5,457.8 665.8,458.1 C667.1,458.3 668.5,458.6 669.8,458.9 C671.1,459.1 672.5,459.4 673.8,459.6 C675.1,459.8 676.5,460.1 677.8,460.3 C679.1,460.6 680.5,460.8 681.8,461.0 C683.1,461.3 684.5,461.5 685.8,461.7 C687.1,462.0 688.5,462.2 689.8,462.5 C691.1,462.7 692.5,463.0 693.8,463.2 C695.1,463.4 696.5,463.6 697.8,463.8 C699.1,464.0 700.5,464.2 701.8,464.3 C703.1,464.5 704.5,464.6 705.8,464.7 C707.1,464.8 708.5,464.9 709.8,465.0 C711.1,465.1 712.5,465.2 713.8,465.3 C715.1,465.4 716.5,465.5 717.8,465.6 C719.1,465.7 720.5,465.9 721.8,466.0 C723.1,466.1 724.5,466.3 725.8,466.4 C727.1,466.6 728.5,466.8 729.8,466.9 C731.1,467.1 732.5,467.2 733.8,467.4 C735.1,467.5 736.5,467.7 737.8,467.8 C739.1,467.9 741.1,468.1 741.8,468.2 C742.5,468.2 742.0,468.2 742.0,468.2" stroke="#1818ff" stroke-width="1.5" stroke-dasharray="3.2 2.8"/>
<path d="M421.8,443.2 C424.5,443.2 431.4,442.7 437.8,443.2 C444.2,443.7 452.9,445.5 460.5,446.2 C468.1,446.9 475.7,447.1 483.3,447.3 C490.9,447.5 498.4,447.2 506.0,447.3 C513.6,447.4 521.2,448.2 528.8,447.8 C536.4,447.4 543.9,445.6 551.5,444.6 C559.1,443.7 567.9,442.8 574.3,442.1 C580.7,441.4 584.4,441.1 590.0,440.5 C595.6,439.9 601.0,438.3 607.8,438.2 C614.5,438.1 622.9,439.4 630.5,440.0 C638.1,440.6 645.7,441.6 653.3,442.1 C660.9,442.6 668.4,442.7 676.0,442.8 C683.6,442.9 691.2,442.6 698.8,442.8 C706.4,443.0 714.3,443.8 721.5,443.9 C728.7,444.0 738.6,443.5 742.0,443.4" stroke="#ff1010" stroke-width="2.4"/>
<path d="M421.8,466.0 C424.5,465.9 433.2,466.0 437.8,465.5 C442.4,465.0 445.3,464.3 449.1,463.2 C452.9,462.1 456.7,460.2 460.5,458.7 C464.3,457.2 468.1,455.4 471.9,454.1 C475.7,452.8 479.5,451.5 483.3,450.7 C487.1,449.9 490.9,449.4 494.7,449.1 C498.5,448.8 500.3,448.6 506.0,449.1 C511.7,449.6 523.1,451.2 528.8,451.9 C534.5,452.5 536.4,452.9 540.2,453.0 C544.0,453.1 545.8,452.9 551.5,452.5 C557.2,452.1 567.9,450.8 574.3,450.7 C580.7,450.6 584.4,451.5 590.0,451.8 C595.6,452.1 601.0,452.6 607.8,452.5 C614.5,452.4 624.8,451.3 630.5,451.4 C636.2,451.5 638.1,452.2 641.9,453.0 C645.7,453.8 647.6,455.1 653.3,456.4 C659.0,457.7 668.4,459.7 676.0,461.0 C683.6,462.3 691.2,463.7 698.8,464.4 C706.4,465.1 714.3,464.7 721.5,465.1 C728.7,465.5 738.6,466.4 742.0,466.7" stroke="#1818ff" stroke-width="2.4"/>
</g>
<path d="M417.40,338.70 H759.20" stroke="#6e6e6e" stroke-width="1.4" fill="none"/>
<path d="M759.20,338.70 V550.10" stroke="#707070" stroke-width="1.4" fill="none"/>
<path d="M417.40,550.10 H759.90" stroke="#555" stroke-width="1.4" fill="none"/>
<path d="M417.40,338.00 V550.80" stroke="#2a2a2a" stroke-width="1.4" fill="none"/>
<g font-family="Liberation Serif, serif" font-size="12" fill="#606060">
<text transform="translate(414.80,554.45) scale(1,1.07)" text-anchor="end">10</text>
<text transform="translate(414.80,512.17) scale(1,1.07)" text-anchor="end">20</text>
<text transform="translate(414.80,469.89) scale(1,1.07)" text-anchor="end">30</text>
<text transform="translate(414.80,427.61) scale(1,1.07)" text-anchor="end">40</text>
<text transform="translate(414.80,385.33) scale(1,1.07)" text-anchor="end">50</text>
<text transform="translate(414.80,343.05) scale(1,1.07)" text-anchor="end">60</text>
<text transform="translate(417.40,563.40) scale(1,1.07)" text-anchor="middle">0.0</text>
<text transform="translate(482.50,563.40) scale(1,1.07)" text-anchor="middle">0.2</text>
<text transform="translate(547.61,563.40) scale(1,1.07)" text-anchor="middle">0.4</text>
<text transform="translate(612.71,563.40) scale(1,1.07)" text-anchor="middle">0.6</text>
<text transform="translate(677.82,563.40) scale(1,1.07)" text-anchor="middle">0.8</text>
<text transform="translate(742.92,563.40) scale(1,1.07)" text-anchor="middle">1.0</text>
<text x="588.30" y="579.70" text-anchor="middle">% cycle</text>
<text transform="translate(397.50,442.30) rotate(-90)" text-anchor="middle">Knee Translation (mm)</text>
</g>
<text x="588.30" y="329.00" text-anchor="middle" font-family="Liberation Serif, serif" font-weight="bold" font-size="12.5" fill="#585858">Proximal(+)/Distal(−)</text>
</g>
<g>
<line x1="45.50" y1="730.24" x2="379.00" y2="730.24" stroke="#d0d0d0" stroke-width="1"/>
<defs><clipPath id="c4"><rect x="45.50" y="606.70" width="333.50" height="205.90"/></clipPath></defs>
<g clip-path="url(#c4)" fill="none" stroke-linejoin="round" stroke-linecap="butt">
<path d="M49.4,696.5 C50.1,696.5 52.1,696.4 53.4,696.3 C54.7,696.3 56.1,696.2 57.4,696.2 C58.7,696.1 60.1,696.1 61.4,696.0 C62.7,695.9 64.1,695.9 65.4,695.8 C66.7,695.8 68.1,695.7 69.4,695.7 C70.7,695.6 72.1,695.5 73.4,695.4 C74.7,695.4 76.1,695.3 77.4,695.2 C78.7,695.2 80.1,695.1 81.4,695.0 C82.7,695.0 84.1,694.9 85.4,694.9 C86.7,694.9 88.1,694.9 89.4,695.0 C90.7,695.0 92.1,695.1 93.4,695.3 C94.7,695.5 96.1,695.9 97.4,696.2 C98.7,696.6 100.1,697.0 101.4,697.5 C102.7,698.0 104.1,698.6 105.4,699.3 C106.7,699.9 108.1,700.7 109.4,701.5 C110.7,702.3 112.1,703.1 113.4,703.9 C114.7,704.7 116.1,705.6 117.4,706.5 C118.7,707.3 120.1,708.1 121.4,708.8 C122.7,709.5 124.1,710.1 125.4,710.7 C126.7,711.2 128.1,711.6 129.4,711.9 C130.7,712.3 132.1,712.5 133.4,712.8 C134.7,713.1 136.1,713.4 137.4,713.7 C138.7,713.9 140.1,714.1 141.4,714.4 C142.7,714.6 144.1,714.7 145.4,714.9 C146.7,715.0 148.1,715.2 149.4,715.2 C150.7,715.3 152.1,715.3 153.4,715.3 C154.7,715.3 156.1,715.2 157.4,715.1 C158.7,715.0 160.1,714.9 161.4,714.8 C162.7,714.6 164.1,714.4 165.4,714.3 C166.7,714.1 168.1,714.0 169.4,713.8 C170.7,713.7 172.1,713.5 173.4,713.4 C174.7,713.3 176.1,713.2 177.4,713.1 C178.7,713.0 180.1,713.0 181.4,713.0 C182.7,712.9 184.1,712.9 185.4,712.9 C186.7,712.9 188.1,713.0 189.4,713.0 C190.7,713.0 192.1,713.0 193.4,713.1 C194.7,713.1 196.1,713.2 197.4,713.2 C198.7,713.3 200.1,713.3 201.4,713.4 C202.7,713.4 204.1,713.4 205.4,713.5 C206.7,713.5 208.1,713.6 209.4,713.7 C210.7,713.8 212.1,713.9 213.4,714.0 C214.7,714.1 216.1,714.3 217.4,714.5 C218.7,714.6 220.1,714.9 221.4,715.1 C222.7,715.3 224.1,715.6 225.4,715.8 C226.7,716.0 228.1,716.2 229.4,716.4 C230.7,716.5 232.1,716.6 233.4,716.8 C234.7,716.9 236.1,717.0 237.4,717.1 C238.7,717.2 240.1,717.3 241.4,717.3 C242.7,717.4 244.1,717.4 245.4,717.5 C246.7,717.5 248.1,717.5 249.4,717.5 C250.7,717.5 252.1,717.5 253.4,717.4 C254.7,717.3 256.1,717.2 257.4,717.1 C258.7,717.0 260.1,716.9 261.4,716.7 C262.7,716.5 264.1,716.3 265.4,716.2 C266.7,716.0 268.1,715.8 269.4,715.5 C270.7,715.3 272.1,715.1 273.4,714.9 C274.7,714.7 276.1,714.5 277.4,714.2 C278.7,714.0 280.1,713.8 281.4,713.5 C282.7,713.2 284.1,713.0 285.4,712.7 C286.7,712.4 288.1,712.1 289.4,711.8 C290.7,711.5 292.1,711.2 293.4,710.9 C294.7,710.6 296.1,710.3 297.4,710.0 C298.7,709.7 300.1,709.4 301.4,709.2 C302.7,708.9 304.1,708.6 305.4,708.3 C306.7,708.0 308.1,707.8 309.4,707.5 C310.7,707.2 312.1,707.0 313.4,706.7 C314.7,706.5 316.1,706.2 317.4,706.0 C318.7,705.8 320.1,705.6 321.4,705.4 C322.7,705.2 324.1,705.0 325.4,704.8 C326.7,704.6 328.1,704.4 329.4,704.2 C330.7,704.0 332.1,703.8 333.4,703.6 C334.7,703.4 336.1,703.2 337.4,703.0 C338.7,702.8 340.1,702.6 341.4,702.4 C342.7,702.2 344.1,702.0 345.4,701.8 C346.7,701.6 348.1,701.4 349.4,701.2 C350.7,701.1 352.1,700.9 353.4,700.7 C354.7,700.5 356.1,700.4 357.4,700.2 C358.7,700.0 360.5,699.8 361.4,699.7 C362.2,699.6 362.3,699.6 362.5,699.6" stroke="#ff1010" stroke-width="1.5" stroke-dasharray="3.2 2.8"/>
<path d="M49.4,698.5 C50.1,698.5 52.1,698.4 53.4,698.4 C54.7,698.3 56.1,698.3 57.4,698.2 C58.7,698.2 60.1,698.2 61.4,698.1 C62.7,698.1 64.1,698.1 65.4,698.1 C66.7,698.0 68.1,698.0 69.4,698.0 C70.7,698.0 72.1,697.9 73.4,697.9 C74.7,697.9 76.1,697.8 77.4,697.8 C78.7,697.8 80.1,697.8 81.4,697.7 C82.7,697.7 84.1,697.7 85.4,697.7 C86.7,697.7 88.1,697.8 89.4,697.9 C90.7,697.9 92.1,698.1 93.4,698.3 C94.7,698.5 96.1,698.9 97.4,699.2 C98.7,699.6 100.1,700.0 101.4,700.4 C102.7,700.9 104.1,701.3 105.4,701.8 C106.7,702.2 108.1,702.7 109.4,703.1 C110.7,703.5 112.1,703.9 113.4,704.4 C114.7,704.8 116.1,705.3 117.4,705.8 C118.7,706.2 120.1,706.6 121.4,707.0 C122.7,707.4 124.1,707.7 125.4,708.0 C126.7,708.3 128.1,708.6 129.4,708.9 C130.7,709.2 132.1,709.5 133.4,709.8 C134.7,710.0 136.1,710.2 137.4,710.4 C138.7,710.6 140.1,710.8 141.4,710.9 C142.7,711.0 144.1,711.1 145.4,711.1 C146.7,711.1 148.1,711.2 149.4,711.2 C150.7,711.1 152.1,711.1 153.4,711.0 C154.7,710.9 156.1,710.8 157.4,710.7 C158.7,710.5 160.1,710.4 161.4,710.3 C162.7,710.1 164.1,710.0 165.4,709.8 C166.7,709.7 168.1,709.6 169.4,709.5 C170.7,709.4 172.1,709.2 173.4,709.2 C174.7,709.1 176.1,709.0 177.4,709.0 C178.7,709.0 180.1,709.0 181.4,709.0 C182.7,709.0 184.1,709.1 185.4,709.1 C186.7,709.2 188.1,709.2 189.4,709.3 C190.7,709.4 192.1,709.4 193.4,709.5 C194.7,709.6 196.1,709.7 197.4,709.7 C198.7,709.8 200.1,709.8 201.4,709.8 C202.7,709.9 204.1,709.9 205.4,709.9 C206.7,709.9 208.1,709.9 209.4,710.0 C210.7,710.0 212.1,710.0 213.4,710.1 C214.7,710.2 216.1,710.2 217.4,710.4 C218.7,710.5 220.1,710.6 221.4,710.8 C222.7,710.9 224.1,711.1 225.4,711.2 C226.7,711.4 228.1,711.5 229.4,711.6 C230.7,711.7 232.1,711.8 233.4,711.9 C234.7,712.0 236.1,712.0 237.4,712.1 C238.7,712.2 240.1,712.3 241.4,712.3 C242.7,712.4 244.1,712.5 245.4,712.6 C246.7,712.6 248.1,712.7 249.4,712.7 C250.7,712.8 252.1,712.8 253.4,712.8 C254.7,712.8 256.1,712.8 257.4,712.7 C258.7,712.7 260.1,712.6 261.4,712.5 C262.7,712.4 264.1,712.3 265.4,712.2 C266.7,712.1 268.1,711.9 269.4,711.8 C270.7,711.6 272.1,711.5 273.4,711.3 C274.7,711.1 276.1,710.9 277.4,710.7 C278.7,710.5 280.1,710.3 281.4,710.0 C282.7,709.7 284.1,709.5 285.4,709.2 C286.7,708.9 288.1,708.6 289.4,708.3 C290.7,708.0 292.1,707.7 293.4,707.4 C294.7,707.1 296.1,706.8 297.4,706.5 C298.7,706.2 300.1,705.9 301.4,705.7 C302.7,705.4 304.1,705.1 305.4,704.8 C306.7,704.5 308.1,704.3 309.4,704.0 C310.7,703.7 312.1,703.5 313.4,703.2 C314.7,703.0 316.1,702.7 317.4,702.5 C318.7,702.3 320.1,702.1 321.4,701.9 C322.7,701.7 324.1,701.5 325.4,701.3 C326.7,701.2 328.1,701.0 329.4,700.9 C330.7,700.7 332.1,700.6 333.4,700.5 C334.7,700.3 336.1,700.2 337.4,700.1 C338.7,699.9 340.1,699.8 341.4,699.7 C342.7,699.6 344.1,699.4 345.4,699.3 C346.7,699.2 348.1,699.0 349.4,698.9 C350.7,698.8 352.1,698.7 353.4,698.5 C354.7,698.4 356.1,698.3 357.4,698.1 C358.7,698.0 360.5,697.8 361.4,697.7 C362.2,697.6 362.3,697.6 362.5,697.6" stroke="#ff1010" stroke-width="1.5" stroke-dasharray="3.2 2.8"/>
<path d="M49.4,697.5 C50.1,697.5 52.1,697.4 53.4,697.4 C54.7,697.4 56.1,697.4 57.4,697.4 C58.7,697.4 60.1,697.4 61.4,697.4 C62.7,697.5 64.1,697.5 65.4,697.6 C66.7,697.6 68.1,697.7 69.4,697.7 C70.7,697.8 72.1,697.8 73.4,697.8 C74.7,697.9 76.1,697.9 77.4,698.0 C78.7,698.0 80.1,698.1 81.4,698.1 C82.7,698.2 84.1,698.2 85.4,698.3 C86.7,698.4 88.1,698.5 89.4,698.6 C90.7,698.8 92.1,698.9 93.4,699.2 C94.7,699.4 96.1,699.8 97.4,700.2 C98.7,700.6 100.1,701.0 101.4,701.4 C102.7,701.9 104.1,702.4 105.4,702.8 C106.7,703.3 108.1,703.8 109.4,704.3 C110.7,704.8 112.1,705.3 113.4,705.8 C114.7,706.3 116.1,706.9 117.4,707.4 C118.7,707.9 120.1,708.4 121.4,708.8 C122.7,709.3 124.1,709.6 125.4,710.0 C126.7,710.3 128.1,710.6 129.4,710.9 C130.7,711.2 132.1,711.5 133.4,711.8 C134.7,712.1 136.1,712.3 137.4,712.5 C138.7,712.7 140.1,712.9 141.4,713.0 C142.7,713.2 144.1,713.3 145.4,713.4 C146.7,713.4 148.1,713.5 149.4,713.5 C150.7,713.5 152.1,713.5 153.4,713.4 C154.7,713.4 156.1,713.3 157.4,713.2 C158.7,713.0 160.1,712.9 161.4,712.8 C162.7,712.6 164.1,712.4 165.4,712.3 C166.7,712.1 168.1,711.9 169.4,711.8 C170.7,711.6 172.1,711.4 173.4,711.3 C174.7,711.1 176.1,711.0 177.4,710.9 C178.7,710.8 180.1,710.7 181.4,710.7 C182.7,710.6 184.1,710.6 185.4,710.6 C186.7,710.6 188.1,710.6 189.4,710.6 C190.7,710.6 192.1,710.6 193.4,710.6 C194.7,710.6 196.1,710.7 197.4,710.7 C198.7,710.8 200.1,710.8 201.4,710.9 C202.7,710.9 204.1,711.0 205.4,711.0 C206.7,711.1 208.1,711.2 209.4,711.3 C210.7,711.4 212.1,711.5 213.4,711.6 C214.7,711.8 216.1,712.0 217.4,712.2 C218.7,712.4 220.1,712.6 221.4,712.9 C222.7,713.1 224.1,713.4 225.4,713.6 C226.7,713.9 228.1,714.1 229.4,714.3 C230.7,714.5 232.1,714.6 233.4,714.7 C234.7,714.9 236.1,715.0 237.4,715.1 C238.7,715.2 240.1,715.3 241.4,715.3 C242.7,715.4 244.1,715.4 245.4,715.4 C246.7,715.4 248.1,715.4 249.4,715.3 C250.7,715.2 252.1,715.1 253.4,715.0 C254.7,714.9 256.1,714.7 257.4,714.5 C258.7,714.3 260.1,714.1 261.4,713.9 C262.7,713.6 264.1,713.4 265.4,713.1 C266.7,712.9 268.1,712.6 269.4,712.3 C270.7,712.0 272.1,711.8 273.4,711.5 C274.7,711.2 276.1,711.0 277.4,710.7 C278.7,710.5 280.1,710.2 281.4,710.0 C282.7,709.8 284.1,709.5 285.4,709.3 C286.7,709.1 288.1,708.8 289.4,708.6 C290.7,708.4 292.1,708.2 293.4,708.0 C294.7,707.8 296.1,707.7 297.4,707.5 C298.7,707.3 300.1,707.2 301.4,707.0 C302.7,706.9 304.1,706.7 305.4,706.6 C306.7,706.4 308.1,706.2 309.4,706.1 C310.7,705.9 312.1,705.7 313.4,705.5 C314.7,705.3 316.1,705.2 317.4,705.0 C318.7,704.8 320.1,704.6 321.4,704.4 C322.7,704.2 324.1,704.0 325.4,703.8 C326.7,703.6 328.1,703.4 329.4,703.2 C330.7,703.0 332.1,702.8 333.4,702.6 C334.7,702.4 336.1,702.2 337.4,702.0 C338.7,701.8 340.1,701.6 341.4,701.4 C342.7,701.2 344.1,701.0 345.4,700.8 C346.7,700.6 348.1,700.4 349.4,700.2 C350.7,700.1 352.1,699.9 353.4,699.7 C354.7,699.5 356.1,699.4 357.4,699.2 C358.7,699.0 360.5,698.8 361.4,698.7 C362.2,698.6 362.3,698.6 362.5,698.6" stroke="#ff1010" stroke-width="1.5" stroke-dasharray="3.2 2.8"/>
<path d="M49.0,712.0 C52.5,711.8 62.3,711.7 70.0,711.0 C77.7,710.3 88.3,709.8 95.0,708.0 C101.7,706.2 105.5,702.0 110.0,700.0 C114.5,698.0 117.8,696.5 122.0,696.0 C126.2,695.5 130.3,696.5 135.0,697.0 C139.7,697.5 146.3,698.7 150.0,699.0 C153.7,699.3 154.7,700.8 157.0,699.0 C159.3,697.2 161.8,691.8 164.0,688.0 C166.2,684.2 168.0,679.5 170.0,676.0 C172.0,672.5 174.0,668.2 176.0,667.0 C178.0,665.8 179.8,666.8 182.0,668.5 C184.2,670.2 186.8,674.8 189.0,677.0 C191.2,679.2 192.7,681.5 195.0,681.5 C197.3,681.5 200.3,678.7 203.0,677.0 C205.7,675.3 208.4,671.9 211.0,671.4 C213.6,670.9 216.4,671.8 218.7,673.7 C221.0,675.7 222.9,680.0 225.0,683.1 C227.1,686.2 228.9,689.4 231.2,692.5 C233.5,695.6 236.4,699.6 239.0,701.8 C241.6,704.0 242.9,705.1 246.8,705.7 C250.7,706.4 258.5,706.2 262.4,705.7 C266.3,705.2 267.6,703.5 270.2,702.6 C272.8,701.7 275.6,701.7 278.0,700.3 C280.4,698.9 282.2,694.6 284.3,694.0 C286.4,693.4 288.4,695.2 290.5,696.4 C292.6,697.6 293.7,700.1 296.8,701.0 C299.9,701.9 303.7,701.8 309.2,701.8 C314.7,701.8 323.2,700.8 330.0,701.0 C336.8,701.2 344.7,702.3 350.0,703.0 C355.3,703.7 360.0,704.7 362.0,705.0" stroke="#1818ff" stroke-width="1.5" stroke-dasharray="3.2 2.8"/>
<path d="M49.0,701.5 C52.5,701.7 62.3,702.2 70.0,702.5 C77.7,702.8 88.3,703.9 95.0,703.0 C101.7,702.1 105.5,698.7 110.0,697.0 C114.5,695.3 118.8,694.5 122.0,693.0 C125.2,691.5 126.3,689.2 129.3,687.8 C132.4,686.4 136.9,685.0 140.3,684.7 C143.7,684.4 146.8,684.4 149.6,686.2 C152.4,688.0 154.8,694.3 157.4,695.6 C160.0,696.9 162.4,696.4 165.0,694.0 C167.6,691.6 170.3,684.0 173.0,681.0 C175.7,678.0 178.2,677.0 181.0,676.0 C183.8,675.0 186.8,675.7 190.0,675.3 C193.2,674.9 197.0,672.9 200.0,673.7 C203.0,674.5 205.2,678.4 207.8,680.0 C210.4,681.6 213.0,681.7 215.6,683.1 C218.2,684.5 220.8,686.5 223.4,688.6 C226.0,690.7 228.6,693.4 231.2,695.6 C233.8,697.8 235.9,700.2 239.0,701.8 C242.1,703.4 243.2,704.3 250.0,705.0 C256.8,705.7 271.7,706.3 280.0,706.0 C288.3,705.7 291.7,703.7 300.0,703.0 C308.3,702.3 319.7,701.8 330.0,702.0 C340.3,702.2 356.7,703.7 362.0,704.0" stroke="#1818ff" stroke-width="1.5" stroke-dasharray="3.2 2.8"/>
<path d="M49.0,710.0 C52.5,710.0 62.3,710.2 70.0,710.0 C77.7,709.8 88.3,710.2 95.0,709.0 C101.7,707.8 105.5,705.0 110.0,703.0 C114.5,701.0 117.8,697.7 122.0,697.0 C126.2,696.3 130.3,698.2 135.0,699.0 C139.7,699.8 145.8,702.0 150.0,702.0 C154.2,702.0 157.0,699.8 160.0,699.0 C163.0,698.2 165.0,697.8 168.0,697.0 C171.0,696.2 174.3,694.6 178.0,694.0 C181.7,693.4 186.3,693.3 190.0,693.2 C193.7,693.1 196.7,693.5 200.0,693.5 C203.3,693.5 207.4,692.1 210.0,693.0 C212.6,693.9 213.4,697.0 215.6,698.7 C217.8,700.4 220.8,700.1 223.4,703.0 C226.0,705.9 228.6,713.3 231.2,716.0 C233.8,718.7 236.4,719.0 239.0,719.0 C241.6,719.0 242.9,716.9 246.8,715.9 C250.7,714.9 256.9,713.7 262.4,712.7 C267.9,711.7 273.7,711.0 280.0,710.0 C286.3,709.0 291.7,708.0 300.0,707.0 C308.3,706.0 319.7,704.0 330.0,704.0 C340.3,704.0 356.7,706.5 362.0,707.0" stroke="#1818ff" stroke-width="1.5" stroke-dasharray="3.2 2.8"/>
<path d="M49.0,705.0 C52.5,705.1 62.3,705.2 70.0,705.5 C77.7,705.8 88.3,707.6 95.0,706.5 C101.7,705.4 105.5,701.0 110.0,699.0 C114.5,697.0 117.8,695.2 122.0,694.5 C126.2,693.8 130.3,693.9 135.0,695.0 C139.7,696.1 145.8,699.8 150.0,701.0 C154.2,702.2 155.8,701.8 160.0,702.0 C164.2,702.2 170.3,701.5 175.0,702.0 C179.7,702.5 183.8,705.8 188.0,705.0 C192.2,704.2 196.3,698.7 200.0,697.0 C203.7,695.3 206.7,695.0 210.0,695.0 C213.3,695.0 216.5,695.9 220.0,697.0 C223.5,698.1 228.0,700.2 231.2,701.8 C234.4,703.4 235.9,705.3 239.0,706.5 C242.1,707.7 243.2,708.5 250.0,709.0 C256.8,709.5 271.7,710.0 280.0,709.5 C288.3,709.0 291.7,706.9 300.0,706.0 C308.3,705.1 319.7,703.7 330.0,704.0 C340.3,704.3 356.7,707.3 362.0,708.0" stroke="#1818ff" stroke-width="1.5" stroke-dasharray="3.2 2.8"/>
<path d="M49.4,697.5 C52.3,697.4 60.5,697.1 67.1,696.9 C73.7,696.7 83.7,696.1 89.2,696.4 C94.7,696.7 96.6,697.5 100.3,698.6 C104.0,699.7 107.6,701.5 111.3,703.0 C115.0,704.5 118.7,706.6 122.4,707.9 C126.1,709.2 129.7,710.1 133.4,710.8 C137.1,711.5 140.8,712.0 144.5,712.3 C148.2,712.5 150.0,712.6 155.5,712.3 C161.0,712.0 170.2,710.5 177.6,710.3 C185.0,710.0 193.5,710.6 199.7,710.8 C205.9,711.0 209.6,711.0 215.0,711.5 C220.4,712.0 225.6,713.2 232.1,713.7 C238.6,714.2 246.8,714.8 254.2,714.5 C261.6,714.2 268.9,713.1 276.3,711.9 C283.7,710.7 291.0,708.9 298.4,707.5 C305.8,706.1 313.1,704.6 320.5,703.5 C327.9,702.4 335.6,701.6 342.6,700.8 C349.6,700.0 359.2,699.0 362.5,698.6" stroke="#ff1010" stroke-width="2.4"/>
<path d="M49.4,707.5 C52.3,707.6 60.5,708.0 67.1,707.9 C73.7,707.8 83.7,707.8 89.2,707.0 C94.7,706.2 96.6,704.6 100.3,703.0 C104.0,701.4 107.6,699.0 111.3,697.5 C115.0,696.0 118.7,694.5 122.4,694.2 C126.1,694.0 129.7,695.3 133.4,696.0 C137.1,696.7 140.8,697.4 144.5,698.2 C148.2,699.0 152.6,700.8 155.5,700.8 C158.4,700.8 159.6,699.9 162.2,698.2 C164.8,696.6 168.4,692.9 171.0,690.9 C173.6,688.9 174.7,687.4 177.6,686.5 C180.5,685.6 185.0,685.4 188.7,685.4 C192.4,685.4 196.1,685.8 199.7,686.5 C203.2,687.2 206.4,688.1 210.0,689.8 C213.6,691.4 217.3,694.0 221.0,696.4 C224.7,698.8 228.4,702.3 232.1,704.2 C235.8,706.1 239.5,707.2 243.2,707.9 C246.9,708.6 248.7,708.6 254.2,708.6 C259.7,708.6 270.8,708.2 276.3,707.9 C281.8,707.6 283.7,707.4 287.4,707.0 C291.1,706.6 292.9,706.0 298.4,705.3 C303.9,704.6 315.0,703.6 320.5,703.0 C326.0,702.4 327.9,701.9 331.6,701.9 C335.3,701.9 338.9,702.4 342.6,703.0 C346.3,703.6 350.4,704.7 353.7,705.3 C357.0,705.9 361.0,706.2 362.5,706.4" stroke="#1818ff" stroke-width="2.4"/>
</g>
<path d="M45.50,606.70 H379.00" stroke="#6e6e6e" stroke-width="1.4" fill="none"/>
<path d="M379.00,606.70 V812.60" stroke="#707070" stroke-width="1.4" fill="none"/>
<path d="M45.50,812.60 H379.70" stroke="#555" stroke-width="1.4" fill="none"/>
<path d="M45.50,606.00 V813.30" stroke="#2a2a2a" stroke-width="1.4" fill="none"/>
<g font-family="Liberation Serif, serif" font-size="12" fill="#606060">
<text transform="translate(42.90,816.95) scale(1,1.07)" text-anchor="end">−20</text>
<text transform="translate(42.90,775.77) scale(1,1.07)" text-anchor="end">−10</text>
<text transform="translate(42.90,734.59) scale(1,1.07)" text-anchor="end">0</text>
<text transform="translate(42.90,693.41) scale(1,1.07)" text-anchor="end">10</text>
<text transform="translate(42.90,652.23) scale(1,1.07)" text-anchor="end">20</text>
<text transform="translate(42.90,611.05) scale(1,1.07)" text-anchor="end">30</text>
<text transform="translate(45.50,825.90) scale(1,1.07)" text-anchor="middle">0.0</text>
<text transform="translate(109.02,825.90) scale(1,1.07)" text-anchor="middle">0.2</text>
<text transform="translate(172.55,825.90) scale(1,1.07)" text-anchor="middle">0.4</text>
<text transform="translate(236.07,825.90) scale(1,1.07)" text-anchor="middle">0.6</text>
<text transform="translate(299.60,825.90) scale(1,1.07)" text-anchor="middle">0.8</text>
<text transform="translate(363.12,825.90) scale(1,1.07)" text-anchor="middle">1.0</text>
<text x="212.25" y="842.20" text-anchor="middle">% cycle</text>
<text transform="translate(17.20,709.65) rotate(-90)" text-anchor="middle">Knee Rotations (deg)</text>
</g>
<text x="212.25" y="596.80" text-anchor="middle" font-family="Liberation Serif, serif" font-weight="bold" font-size="12.5" fill="#585858">Internal(+)/External(−)</text>
</g>
<g>
<line x1="425.60" y1="709.65" x2="759.10" y2="709.65" stroke="#d0d0d0" stroke-width="1"/>
<defs><clipPath id="c5"><rect x="425.60" y="606.70" width="333.50" height="205.90"/></clipPath></defs>
<g clip-path="url(#c5)" fill="none" stroke-linejoin="round" stroke-linecap="butt">
<path d="M431.6,690.6 C432.3,690.7 434.3,690.9 435.6,691.0 C436.9,691.1 438.3,691.3 439.6,691.4 C440.9,691.5 442.3,691.7 443.6,691.8 C444.9,691.9 446.3,692.0 447.6,692.1 C448.9,692.2 450.3,692.3 451.6,692.4 C452.9,692.5 454.3,692.6 455.6,692.7 C456.9,692.8 458.3,692.9 459.6,693.0 C460.9,693.1 462.3,693.1 463.6,693.2 C464.9,693.2 466.3,693.3 467.6,693.3 C468.9,693.3 470.3,693.3 471.6,693.3 C472.9,693.2 474.3,693.1 475.6,693.0 C476.9,692.9 478.3,692.7 479.6,692.5 C480.9,692.4 482.3,692.2 483.6,692.1 C484.9,692.0 486.3,691.8 487.6,691.7 C488.9,691.7 490.3,691.6 491.6,691.6 C492.9,691.6 494.3,691.7 495.6,691.8 C496.9,691.9 498.3,692.0 499.6,692.2 C500.9,692.4 502.3,692.7 503.6,693.0 C504.9,693.4 506.3,693.9 507.6,694.3 C508.9,694.8 510.3,695.3 511.6,695.7 C512.9,696.1 514.3,696.5 515.6,696.8 C516.9,697.0 518.3,697.2 519.6,697.3 C520.9,697.4 522.3,697.4 523.6,697.3 C524.9,697.3 526.3,697.2 527.6,697.2 C528.9,697.1 530.3,697.0 531.6,697.0 C532.9,696.9 534.3,696.8 535.6,696.8 C536.9,696.8 538.3,696.9 539.6,696.9 C540.9,697.0 542.3,697.1 543.6,697.1 C544.9,697.2 546.3,697.2 547.6,697.2 C548.9,697.1 550.3,697.1 551.6,697.1 C552.9,697.0 554.3,697.0 555.6,696.9 C556.9,696.9 558.3,696.8 559.6,696.8 C560.9,696.7 562.3,696.6 563.6,696.5 C564.9,696.4 566.3,696.2 567.6,696.0 C568.9,695.8 570.3,695.5 571.6,695.3 C572.9,695.0 574.3,694.7 575.6,694.5 C576.9,694.2 578.3,693.9 579.6,693.6 C580.9,693.3 582.3,692.9 583.6,692.6 C584.9,692.3 586.3,692.0 587.6,691.6 C588.9,691.3 590.3,690.9 591.6,690.5 C592.9,690.2 594.3,689.8 595.6,689.3 C596.9,688.9 598.3,688.4 599.6,687.8 C600.9,687.3 602.3,686.7 603.6,686.3 C604.9,685.8 606.3,685.4 607.6,685.1 C608.9,684.8 610.3,684.6 611.6,684.5 C612.9,684.4 614.3,684.5 615.6,684.5 C616.9,684.6 618.3,684.8 619.6,685.0 C620.9,685.2 622.3,685.4 623.6,685.6 C624.9,685.8 626.3,686.1 627.6,686.3 C628.9,686.5 630.3,686.7 631.6,686.9 C632.9,687.0 634.3,687.1 635.6,687.2 C636.9,687.3 638.3,687.4 639.6,687.5 C640.9,687.6 642.3,687.6 643.6,687.7 C644.9,687.7 646.3,687.8 647.6,687.9 C648.9,687.9 650.3,688.0 651.6,688.0 C652.9,688.1 654.3,688.1 655.6,688.2 C656.9,688.2 658.3,688.2 659.6,688.2 C660.9,688.2 662.3,688.2 663.6,688.1 C664.9,688.1 666.3,688.1 667.6,688.1 C668.9,688.0 670.3,688.0 671.6,688.0 C672.9,688.0 674.3,687.9 675.6,687.9 C676.9,688.0 678.3,688.0 679.6,688.0 C680.9,688.1 682.3,688.2 683.6,688.3 C684.9,688.3 686.3,688.4 687.6,688.5 C688.9,688.6 690.3,688.7 691.6,688.8 C692.9,688.9 694.3,689.0 695.6,689.1 C696.9,689.2 698.3,689.3 699.6,689.4 C700.9,689.4 702.3,689.5 703.6,689.5 C704.9,689.6 706.3,689.7 707.6,689.7 C708.9,689.8 710.3,689.8 711.6,689.9 C712.9,689.9 714.3,690.0 715.6,690.0 C716.9,690.1 718.3,690.1 719.6,690.1 C720.9,690.2 722.3,690.2 723.6,690.2 C724.9,690.3 726.3,690.3 727.6,690.3 C728.9,690.4 730.3,690.4 731.6,690.4 C732.9,690.4 734.3,690.5 735.6,690.5 C736.9,690.5 738.5,690.6 739.6,690.6 C740.8,690.6 742.0,690.7 742.5,690.7" stroke="#ff1010" stroke-width="1.5" stroke-dasharray="3.2 2.8"/>
<path d="M431.6,687.6 C432.3,687.7 434.3,687.8 435.6,688.0 C436.9,688.1 438.3,688.2 439.6,688.3 C440.9,688.4 442.3,688.5 443.6,688.5 C444.9,688.6 446.3,688.7 447.6,688.7 C448.9,688.8 450.3,688.8 451.6,688.9 C452.9,688.9 454.3,689.0 455.6,689.0 C456.9,689.1 458.3,689.1 459.6,689.2 C460.9,689.2 462.3,689.2 463.6,689.2 C464.9,689.3 466.3,689.3 467.6,689.3 C468.9,689.3 470.3,689.3 471.6,689.3 C472.9,689.2 474.3,689.1 475.6,689.0 C476.9,688.9 478.3,688.8 479.6,688.7 C480.9,688.6 482.3,688.4 483.6,688.3 C484.9,688.2 486.3,688.1 487.6,688.1 C488.9,688.0 490.3,688.0 491.6,688.0 C492.9,688.0 494.3,688.1 495.6,688.2 C496.9,688.4 498.3,688.5 499.6,688.7 C500.9,688.9 502.3,689.1 503.6,689.4 C504.9,689.7 506.3,690.0 507.6,690.3 C508.9,690.7 510.3,691.0 511.6,691.3 C512.9,691.5 514.3,691.8 515.6,692.0 C516.9,692.1 518.3,692.3 519.6,692.3 C520.9,692.4 522.3,692.4 523.6,692.3 C524.9,692.3 526.3,692.2 527.6,692.2 C528.9,692.1 530.3,692.0 531.6,692.0 C532.9,691.9 534.3,691.8 535.6,691.8 C536.9,691.8 538.3,691.9 539.6,691.9 C540.9,692.0 542.3,692.1 543.6,692.2 C544.9,692.2 546.3,692.3 547.6,692.3 C548.9,692.4 550.3,692.4 551.6,692.4 C552.9,692.4 554.3,692.4 555.6,692.3 C556.9,692.2 558.3,692.2 559.6,692.1 C560.9,692.0 562.3,691.8 563.6,691.7 C564.9,691.6 566.3,691.4 567.6,691.3 C568.9,691.2 570.3,691.0 571.6,690.9 C572.9,690.7 574.3,690.6 575.6,690.4 C576.9,690.2 578.3,690.0 579.6,689.8 C580.9,689.6 582.3,689.4 583.6,689.1 C584.9,688.9 586.3,688.6 587.6,688.3 C588.9,688.1 590.3,687.7 591.6,687.4 C592.9,687.1 594.3,686.7 595.6,686.3 C596.9,685.9 598.3,685.4 599.6,684.8 C600.9,684.3 602.3,683.7 603.6,683.3 C604.9,682.8 606.3,682.3 607.6,682.0 C608.9,681.6 610.3,681.4 611.6,681.3 C612.9,681.1 614.3,681.2 615.6,681.2 C616.9,681.2 618.3,681.4 619.6,681.5 C620.9,681.6 622.3,681.8 623.6,682.0 C624.9,682.1 626.3,682.3 627.6,682.5 C628.9,682.7 630.3,682.8 631.6,683.0 C632.9,683.1 634.3,683.2 635.6,683.3 C636.9,683.4 638.3,683.4 639.6,683.5 C640.9,683.6 642.3,683.6 643.6,683.7 C644.9,683.7 646.3,683.8 647.6,683.9 C648.9,683.9 650.3,684.0 651.6,684.0 C652.9,684.1 654.3,684.1 655.6,684.2 C656.9,684.2 658.3,684.2 659.6,684.2 C660.9,684.2 662.3,684.2 663.6,684.1 C664.9,684.1 666.3,684.1 667.6,684.1 C668.9,684.0 670.3,684.0 671.6,684.0 C672.9,684.0 674.3,683.9 675.6,683.9 C676.9,684.0 678.3,684.0 679.6,684.0 C680.9,684.1 682.3,684.2 683.6,684.3 C684.9,684.3 686.3,684.4 687.6,684.5 C688.9,684.6 690.3,684.7 691.6,684.8 C692.9,684.9 694.3,685.0 695.6,685.1 C696.9,685.2 698.3,685.3 699.6,685.4 C700.9,685.4 702.3,685.5 703.6,685.5 C704.9,685.6 706.3,685.7 707.6,685.7 C708.9,685.8 710.3,685.8 711.6,685.9 C712.9,685.9 714.3,686.0 715.6,686.0 C716.9,686.1 718.3,686.1 719.6,686.1 C720.9,686.2 722.3,686.2 723.6,686.2 C724.9,686.3 726.3,686.3 727.6,686.3 C728.9,686.4 730.3,686.4 731.6,686.4 C732.9,686.4 734.3,686.5 735.6,686.5 C736.9,686.5 738.5,686.6 739.6,686.6 C740.8,686.6 742.0,686.7 742.5,686.7" stroke="#ff1010" stroke-width="1.5" stroke-dasharray="3.2 2.8"/>
<path d="M431.6,689.1 C432.3,689.2 434.3,689.4 435.6,689.5 C436.9,689.7 438.3,689.8 439.6,690.0 C440.9,690.1 442.3,690.3 443.6,690.4 C444.9,690.6 446.3,690.7 447.6,690.8 C448.9,691.0 450.3,691.1 451.6,691.2 C452.9,691.3 454.3,691.5 455.6,691.6 C456.9,691.7 458.3,691.8 459.6,691.9 C460.9,692.0 462.3,692.1 463.6,692.1 C464.9,692.2 466.3,692.3 467.6,692.3 C468.9,692.3 470.3,692.3 471.6,692.3 C472.9,692.3 474.3,692.4 475.6,692.5 C476.9,692.5 478.3,692.6 479.6,692.8 C480.9,692.9 482.3,693.1 483.6,693.2 C484.9,693.4 486.3,693.6 487.6,693.7 C488.9,693.9 490.3,694.1 491.6,694.3 C492.9,694.4 494.3,694.5 495.6,694.7 C496.9,695.0 498.3,695.3 499.6,695.7 C500.9,696.0 502.3,696.6 503.6,697.0 C504.9,697.4 506.3,697.9 507.6,698.2 C508.9,698.5 510.3,698.8 511.6,698.7 C512.9,698.7 514.3,698.3 515.6,697.9 C516.9,697.5 518.3,696.9 519.6,696.5 C520.9,696.1 522.3,695.7 523.6,695.5 C524.9,695.4 526.3,695.5 527.6,695.5 C528.9,695.5 530.3,695.6 531.6,695.7 C532.9,695.8 534.3,695.9 535.6,696.0 C536.9,696.1 538.3,696.3 539.6,696.4 C540.9,696.5 542.3,696.7 543.6,696.9 C544.9,697.0 546.3,697.2 547.6,697.3 C548.9,697.5 550.3,697.6 551.6,697.7 C552.9,697.7 554.3,697.7 555.6,697.8 C556.9,697.9 558.3,698.0 559.6,698.2 C560.9,698.3 562.3,698.5 563.6,698.7 C564.9,698.8 566.3,699.0 567.6,699.0 C568.9,699.1 570.3,699.0 571.6,698.9 C572.9,698.8 574.3,698.5 575.6,698.3 C576.9,698.0 578.3,697.7 579.6,697.4 C580.9,697.1 582.3,696.7 583.6,696.3 C584.9,695.9 586.3,695.5 587.6,695.1 C588.9,694.7 590.3,694.3 591.6,693.8 C592.9,693.4 594.3,692.9 595.6,692.4 C596.9,691.9 598.3,691.4 599.6,690.8 C600.9,690.3 602.3,689.7 603.6,689.1 C604.9,688.6 606.3,687.9 607.6,687.4 C608.9,686.9 610.3,686.4 611.6,686.1 C612.9,685.7 614.3,685.4 615.6,685.2 C616.9,684.9 618.3,684.7 619.6,684.6 C620.9,684.4 622.3,684.3 623.6,684.2 C624.9,684.0 626.3,684.0 627.6,683.9 C628.9,683.8 630.3,683.7 631.6,683.7 C632.9,683.6 634.3,683.5 635.6,683.5 C636.9,683.4 638.3,683.5 639.6,683.5 C640.9,683.5 642.3,683.6 643.6,683.7 C644.9,683.8 646.3,683.9 647.6,683.9 C648.9,684.0 650.3,684.1 651.6,684.2 C652.9,684.3 654.3,684.4 655.6,684.5 C656.9,684.6 658.3,684.6 659.6,684.7 C660.9,684.8 662.3,684.8 663.6,684.8 C664.9,684.9 666.3,684.9 667.6,684.9 C668.9,685.0 670.3,685.0 671.6,685.0 C672.9,685.1 674.3,685.1 675.6,685.2 C676.9,685.3 678.3,685.4 679.6,685.5 C680.9,685.6 682.3,685.8 683.6,685.9 C684.9,686.0 686.3,686.2 687.6,686.3 C688.9,686.4 690.3,686.6 691.6,686.7 C692.9,686.8 694.3,687.0 695.6,687.1 C696.9,687.2 698.3,687.3 699.6,687.4 C700.9,687.4 702.3,687.5 703.6,687.5 C704.9,687.6 706.3,687.6 707.6,687.7 C708.9,687.7 710.3,687.8 711.6,687.8 C712.9,687.8 714.3,687.8 715.6,687.9 C716.9,687.9 718.3,687.9 719.6,687.9 C720.9,687.9 722.3,687.9 723.6,687.9 C724.9,688.0 726.3,688.0 727.6,688.0 C728.9,688.0 730.3,688.0 731.6,688.0 C732.9,688.0 734.3,688.0 735.6,688.0 C736.9,688.1 738.5,688.1 739.6,688.1 C740.8,688.1 742.0,688.2 742.5,688.2" stroke="#ff1010" stroke-width="1.5" stroke-dasharray="3.2 2.8"/>
<path d="M431.6,689.6 C432.3,689.7 434.3,689.8 435.6,689.9 C436.9,690.0 438.3,690.1 439.6,690.2 C440.9,690.2 442.3,690.3 443.6,690.3 C444.9,690.3 446.3,690.3 447.6,690.3 C448.9,690.4 450.3,690.4 451.6,690.3 C452.9,690.3 454.3,690.3 455.6,690.3 C456.9,690.3 458.3,690.3 459.6,690.3 C460.9,690.3 462.3,690.3 463.6,690.3 C464.9,690.3 466.3,690.3 467.6,690.3 C468.9,690.3 470.3,690.3 471.6,690.3 C472.9,690.2 474.3,690.1 475.6,690.1 C476.9,690.0 478.3,689.9 479.6,689.8 C480.9,689.7 482.3,689.6 483.6,689.5 C484.9,689.5 486.3,689.4 487.6,689.4 C488.9,689.3 490.3,689.4 491.6,689.4 C492.9,689.5 494.3,689.6 495.6,689.7 C496.9,689.8 498.3,690.0 499.6,690.2 C500.9,690.4 502.3,690.6 503.6,690.7 C504.9,690.8 506.3,691.0 507.6,691.0 C508.9,691.1 510.3,691.2 511.6,691.2 C512.9,691.2 514.3,691.1 515.6,691.1 C516.9,691.0 518.3,690.9 519.6,690.9 C520.9,690.8 522.3,690.7 523.6,690.7 C524.9,690.6 526.3,690.5 527.6,690.5 C528.9,690.5 530.3,690.5 531.6,690.6 C532.9,690.7 534.3,690.9 535.6,691.2 C536.9,691.5 538.3,691.9 539.6,692.2 C540.9,692.6 542.3,693.1 543.6,693.5 C544.9,693.9 546.3,694.3 547.6,694.6 C548.9,695.0 550.3,695.3 551.6,695.5 C552.9,695.7 554.3,695.8 555.6,695.8 C556.9,695.9 558.3,695.8 559.6,695.8 C560.9,695.8 562.3,695.7 563.6,695.7 C564.9,695.7 566.3,695.6 567.6,695.5 C568.9,695.5 570.3,695.4 571.6,695.4 C572.9,695.3 574.3,695.2 575.6,695.1 C576.9,695.0 578.3,695.0 579.6,694.9 C580.9,694.8 582.3,694.7 583.6,694.6 C584.9,694.5 586.3,694.3 587.6,694.2 C588.9,694.0 590.3,693.8 591.6,693.6 C592.9,693.3 594.3,693.1 595.6,692.7 C596.9,692.3 598.3,691.8 599.6,691.3 C600.9,690.8 602.3,690.2 603.6,689.7 C604.9,689.1 606.3,688.6 607.6,688.1 C608.9,687.7 610.3,687.3 611.6,687.1 C612.9,686.8 614.3,686.6 615.6,686.5 C616.9,686.4 618.3,686.3 619.6,686.3 C620.9,686.2 622.3,686.2 623.6,686.2 C624.9,686.3 626.3,686.3 627.6,686.3 C628.9,686.3 630.3,686.4 631.6,686.4 C632.9,686.4 634.3,686.4 635.6,686.4 C636.9,686.4 638.3,686.5 639.6,686.5 C640.9,686.5 642.3,686.6 643.6,686.6 C644.9,686.7 646.3,686.7 647.6,686.7 C648.9,686.7 650.3,686.7 651.6,686.6 C652.9,686.6 654.3,686.6 655.6,686.5 C656.9,686.4 658.3,686.3 659.6,686.2 C660.9,686.1 662.3,685.9 663.6,685.8 C664.9,685.6 666.3,685.5 667.6,685.3 C668.9,685.1 670.3,685.0 671.6,684.8 C672.9,684.7 674.3,684.5 675.6,684.4 C676.9,684.3 678.3,684.2 679.6,684.1 C680.9,684.1 682.3,684.0 683.6,684.0 C684.9,684.0 686.3,684.0 687.6,684.0 C688.9,684.0 690.3,684.0 691.6,684.0 C692.9,684.1 694.3,684.1 695.6,684.2 C696.9,684.2 698.3,684.3 699.6,684.4 C700.9,684.4 702.3,684.5 703.6,684.6 C704.9,684.7 706.3,684.8 707.6,684.8 C708.9,684.9 710.3,685.1 711.6,685.2 C712.9,685.3 714.3,685.4 715.6,685.5 C716.9,685.6 718.3,685.7 719.6,685.8 C720.9,685.9 722.3,686.0 723.6,686.1 C724.9,686.2 726.3,686.3 727.6,686.4 C728.9,686.5 730.3,686.6 731.6,686.7 C732.9,686.8 734.3,686.8 735.6,686.9 C736.9,687.0 738.5,687.0 739.6,687.1 C740.8,687.1 742.0,687.2 742.5,687.2" stroke="#ff1010" stroke-width="1.5" stroke-dasharray="3.2 2.8"/>
<path d="M431.0,674.3 C433.7,674.7 441.3,676.7 447.0,676.5 C452.7,676.3 459.8,674.7 465.0,673.2 C470.2,671.7 474.3,668.0 478.0,667.6 C481.7,667.2 483.7,668.6 487.0,671.0 C490.3,673.4 494.3,678.7 498.0,682.0 C501.7,685.3 505.3,688.2 509.0,690.8 C512.7,693.4 516.7,695.8 520.0,697.5 C523.3,699.2 525.7,701.2 529.0,700.8 C532.3,700.4 536.6,697.1 540.0,695.0 C543.4,692.9 546.0,688.8 549.4,688.0 C552.8,687.2 556.7,689.9 560.3,690.0 C563.9,690.1 566.8,689.4 571.2,688.7 C575.6,688.0 581.6,687.4 586.8,685.6 C592.0,683.8 597.2,678.1 602.4,677.8 C607.6,677.5 612.8,682.5 618.0,684.0 C623.2,685.5 628.4,686.1 633.6,687.1 C638.8,688.1 644.8,688.7 649.2,690.3 C653.6,691.9 654.9,695.2 660.0,696.5 C665.1,697.8 673.3,697.9 680.0,698.0 C686.7,698.1 693.3,697.8 700.0,697.0 C706.7,696.2 713.0,694.2 720.0,693.0 C727.0,691.8 738.3,690.5 742.0,690.0" stroke="#1818ff" stroke-width="1.5" stroke-dasharray="3.2 2.8"/>
<path d="M431.0,678.0 C433.7,678.3 441.3,679.3 447.0,680.0 C452.7,680.7 459.5,681.8 465.0,682.0 C470.5,682.2 476.3,681.7 480.0,681.0 C483.7,680.3 484.0,679.1 487.0,677.6 C490.0,676.1 493.6,673.7 498.0,672.0 C502.4,670.3 509.0,667.8 513.4,667.6 C517.8,667.4 520.8,669.0 524.5,671.0 C528.2,673.0 532.2,678.1 535.5,679.8 C538.8,681.5 541.7,682.4 544.0,681.0 C546.3,679.6 546.7,673.9 549.4,671.5 C552.1,669.1 557.2,667.3 560.3,666.8 C563.4,666.3 565.5,666.8 568.1,668.4 C570.7,670.0 572.8,675.4 575.9,676.2 C579.0,677.0 582.9,673.1 586.8,673.1 C590.7,673.1 595.1,676.1 599.3,676.2 C603.5,676.4 606.9,674.7 612.0,674.0 C617.1,673.3 624.5,672.0 630.0,672.0 C635.5,672.0 640.8,672.8 645.0,674.0 C649.2,675.2 651.6,674.8 655.0,679.0 C658.4,683.2 661.0,696.7 665.2,699.0 C669.4,701.3 674.2,694.2 680.0,693.0 C685.8,691.8 693.3,692.5 700.0,692.0 C706.7,691.5 713.0,691.5 720.0,690.0 C727.0,688.5 738.3,684.2 742.0,683.0" stroke="#1818ff" stroke-width="1.5" stroke-dasharray="3.2 2.8"/>
<path d="M431.0,677.0 C433.7,677.3 441.3,679.2 447.0,679.0 C452.7,678.8 459.5,676.8 465.0,676.0 C470.5,675.2 475.0,674.0 480.0,674.0 C485.0,674.0 490.8,676.0 495.0,676.0 C499.2,676.0 501.7,674.8 505.0,674.0 C508.3,673.2 511.7,671.8 515.0,671.0 C518.3,670.2 521.7,669.5 525.0,669.0 C528.3,668.5 532.5,667.8 535.0,668.0 C537.5,668.2 537.6,670.5 540.0,670.0 C542.4,669.5 546.0,666.9 549.4,665.3 C552.8,663.7 556.7,661.4 560.3,660.6 C563.9,659.8 567.8,660.3 571.2,660.6 C574.6,660.9 578.0,662.3 580.6,662.2 C583.2,662.1 584.5,661.1 586.8,659.8 C589.1,658.5 592.5,655.2 594.6,654.4 C596.7,653.6 597.5,653.8 599.3,655.1 C601.1,656.4 603.4,660.0 605.5,662.2 C607.6,664.4 609.2,667.5 611.8,668.4 C614.4,669.3 617.5,668.1 621.1,667.6 C624.7,667.1 629.7,666.3 633.6,665.3 C637.5,664.3 641.5,661.4 644.6,661.4 C647.7,661.4 649.8,663.6 652.4,665.3 C655.0,667.0 657.1,669.0 660.0,671.5 C662.9,674.0 665.0,677.6 670.0,680.0 C675.0,682.4 683.3,685.3 690.0,686.0 C696.7,686.7 703.3,685.3 710.0,684.0 C716.7,682.7 724.7,679.3 730.0,678.0 C735.3,676.7 740.0,676.3 742.0,676.0" stroke="#1818ff" stroke-width="1.5" stroke-dasharray="3.2 2.8"/>
<path d="M431.0,685.0 C433.7,685.5 441.3,687.7 447.0,688.0 C452.7,688.3 459.5,687.0 465.0,687.0 C470.5,687.0 475.6,686.6 480.0,688.0 C484.4,689.4 486.5,693.5 491.3,695.3 C496.1,697.1 504.2,697.5 509.0,698.6 C513.8,699.7 516.3,702.4 520.0,702.0 C523.7,701.6 527.7,698.1 531.0,696.4 C534.3,694.7 535.9,691.5 540.0,691.8 C544.1,692.1 551.4,697.6 555.6,698.0 C559.8,698.4 561.6,695.3 565.0,694.0 C568.4,692.7 572.3,691.3 575.9,690.0 C579.5,688.7 582.8,687.7 586.8,686.0 C590.8,684.3 595.8,681.7 600.0,680.0 C604.2,678.3 607.8,676.0 612.0,676.0 C616.2,676.0 620.3,679.0 625.0,680.0 C629.7,681.0 634.2,681.3 640.0,682.0 C645.8,682.7 653.3,682.3 660.0,684.0 C666.7,685.7 673.3,690.5 680.0,692.0 C686.7,693.5 693.3,693.7 700.0,693.0 C706.7,692.3 713.0,690.3 720.0,688.0 C727.0,685.7 738.3,680.5 742.0,679.0" stroke="#1818ff" stroke-width="1.5" stroke-dasharray="3.2 2.8"/>
<path d="M431.0,683.0 C433.7,683.5 441.3,685.8 447.0,686.0 C452.7,686.2 459.5,684.7 465.0,684.0 C470.5,683.3 475.0,681.8 480.0,682.0 C485.0,682.2 490.8,684.8 495.0,685.0 C499.2,685.2 501.7,683.2 505.0,683.0 C508.3,682.8 511.7,682.8 515.0,684.0 C518.3,685.2 521.7,689.5 525.0,690.0 C528.3,690.5 531.7,688.0 535.0,687.0 C538.3,686.0 540.8,683.5 545.0,684.0 C549.2,684.5 555.0,689.3 560.0,690.0 C565.0,690.7 570.0,689.7 575.0,688.0 C580.0,686.3 585.0,682.0 590.0,680.0 C595.0,678.0 600.0,676.5 605.0,676.0 C610.0,675.5 614.2,676.2 620.0,677.0 C625.8,677.8 633.3,679.2 640.0,681.0 C646.7,682.8 653.3,686.5 660.0,688.0 C666.7,689.5 673.3,689.5 680.0,690.0 C686.7,690.5 693.3,691.2 700.0,691.0 C706.7,690.8 713.0,690.2 720.0,689.0 C727.0,687.8 738.3,684.8 742.0,684.0" stroke="#1818ff" stroke-width="1.5" stroke-dasharray="3.2 2.8"/>
<path d="M431.6,689.1 C434.2,689.3 440.8,690.0 447.1,690.4 C453.4,690.8 461.8,691.3 469.2,691.3 C476.6,691.3 483.9,690.1 491.3,690.4 C498.7,690.7 506.0,692.5 513.4,693.0 C520.8,693.5 528.1,693.4 535.5,693.7 C542.9,694.0 550.2,694.9 557.6,694.8 C565.0,694.7 573.5,693.7 579.7,693.0 C585.9,692.3 589.6,691.8 595.0,690.4 C600.4,689.0 605.6,685.6 612.1,684.8 C618.6,683.9 626.8,685.1 634.2,685.3 C641.6,685.5 648.9,686.0 656.3,686.0 C663.7,686.0 671.0,685.2 678.4,685.3 C685.8,685.4 693.1,686.0 700.5,686.4 C707.9,686.8 715.6,687.2 722.6,687.5 C729.6,687.8 739.2,688.1 742.5,688.2" stroke="#ff1010" stroke-width="2.4"/>
<path d="M431.6,680.5 C434.2,680.9 442.7,682.6 447.1,683.1 C451.5,683.6 454.5,684.2 458.2,683.8 C461.9,683.4 465.5,682.1 469.2,680.9 C472.9,679.7 476.6,676.8 480.3,676.5 C484.0,676.2 487.6,678.0 491.3,679.3 C495.0,680.6 498.7,682.8 502.4,684.2 C506.1,685.6 510.5,686.6 513.4,687.5 C516.3,688.4 517.4,689.9 520.0,689.7 C522.6,689.5 525.6,687.7 528.9,686.4 C532.2,685.1 535.2,682.7 540.0,682.0 C544.8,681.3 551.0,682.5 557.6,682.0 C564.2,681.5 573.5,679.6 579.7,678.7 C585.9,677.8 590.3,677.7 595.0,676.5 C599.7,675.3 603.0,671.2 607.7,671.4 C612.4,671.6 618.8,676.1 623.2,677.6 C627.6,679.1 630.5,679.7 634.2,680.2 C637.9,680.8 641.6,680.3 645.3,680.9 C649.0,681.5 652.6,682.7 656.3,683.8 C660.0,684.9 663.7,686.7 667.4,687.5 C671.1,688.3 674.7,688.2 678.4,688.6 C682.1,689.0 685.8,689.6 689.5,689.7 C693.2,689.8 696.8,689.6 700.5,689.1 C704.2,688.6 707.9,687.8 711.6,686.9 C715.3,686.0 718.9,684.7 722.6,683.8 C726.3,682.9 730.4,682.1 733.7,681.6 C737.0,681.1 741.0,681.0 742.5,680.9" stroke="#1818ff" stroke-width="2.4"/>
</g>
<path d="M425.60,606.70 H759.10" stroke="#6e6e6e" stroke-width="1.4" fill="none"/>
<path d="M759.10,606.70 V812.60" stroke="#707070" stroke-width="1.4" fill="none"/>
<path d="M425.60,812.60 H759.80" stroke="#555" stroke-width="1.4" fill="none"/>
<path d="M425.60,606.00 V813.30" stroke="#2a2a2a" stroke-width="1.4" fill="none"/>
<g font-family="Liberation Serif, serif" font-size="12" fill="#606060">
<text transform="translate(423.00,816.95) scale(1,1.07)" text-anchor="end">−20</text>
<text transform="translate(423.00,765.48) scale(1,1.07)" text-anchor="end">−10</text>
<text transform="translate(423.00,714.00) scale(1,1.07)" text-anchor="end">0</text>
<text transform="translate(423.00,662.53) scale(1,1.07)" text-anchor="end">10</text>
<text transform="translate(423.00,611.05) scale(1,1.07)" text-anchor="end">20</text>
<text transform="translate(425.60,825.90) scale(1,1.07)" text-anchor="middle">0.0</text>
<text transform="translate(489.12,825.90) scale(1,1.07)" text-anchor="middle">0.2</text>
<text transform="translate(552.65,825.90) scale(1,1.07)" text-anchor="middle">0.4</text>
<text transform="translate(616.17,825.90) scale(1,1.07)" text-anchor="middle">0.6</text>
<text transform="translate(679.70,825.90) scale(1,1.07)" text-anchor="middle">0.8</text>
<text transform="translate(743.22,825.90) scale(1,1.07)" text-anchor="middle">1.0</text>
<text x="592.35" y="842.20" text-anchor="middle">% cycle</text>
<text transform="translate(397.50,709.65) rotate(-90)" text-anchor="middle">Knee Translation (mm)</text>
</g>
<text x="592.35" y="596.80" text-anchor="middle" font-family="Liberation Serif, serif" font-weight="bold" font-size="12.5" fill="#585858">Lateral(+)/Medial(−)</text>
</g>
</svg></body></html>
